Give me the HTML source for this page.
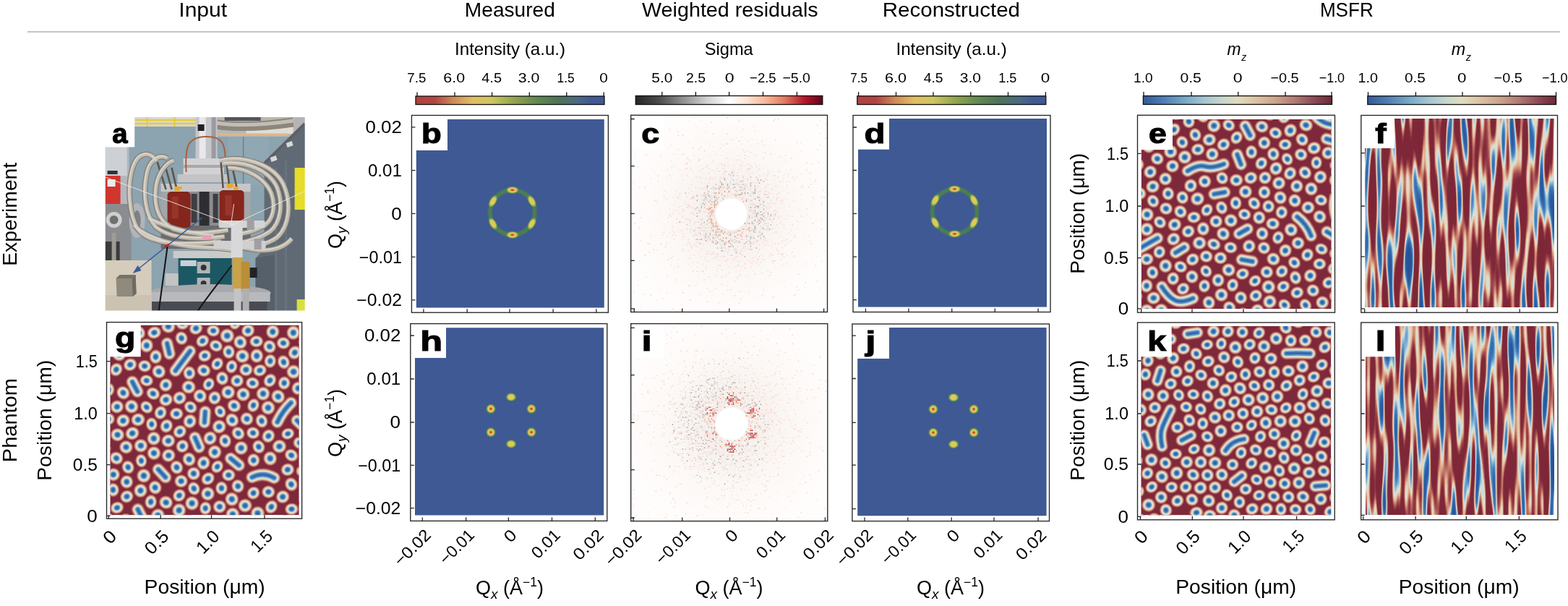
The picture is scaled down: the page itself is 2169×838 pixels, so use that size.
<!DOCTYPE html><html><head><meta charset="utf-8"><style>html,body{margin:0;padding:0;background:#fff;overflow:hidden}svg{display:block}</style></head><body><svg width="2169" height="838" viewBox="0 0 2169 838" font-family="'Liberation Sans', sans-serif">
<defs><linearGradient id="gInt"><stop offset="0" stop-color="#b04242"/><stop offset="0.1" stop-color="#b24442"/><stop offset="0.2" stop-color="#d08a58"/><stop offset="0.3" stop-color="#e2bd62"/><stop offset="0.4" stop-color="#cfc760"/><stop offset="0.52" stop-color="#93a44e"/><stop offset="0.65" stop-color="#5f8752"/><stop offset="0.75" stop-color="#4e7556"/><stop offset="0.86" stop-color="#4b6a86"/><stop offset="0.93" stop-color="#3f5a95"/><stop offset="1" stop-color="#3d5897"/></linearGradient><linearGradient id="gSig"><stop offset="0" stop-color="#262626"/><stop offset="0.12" stop-color="#4a4a4a"/><stop offset="0.25" stop-color="#8e8e8e"/><stop offset="0.38" stop-color="#d0d0d0"/><stop offset="0.5" stop-color="#ffffff"/><stop offset="0.6" stop-color="#fde2d2"/><stop offset="0.7" stop-color="#f6b596"/><stop offset="0.8" stop-color="#e0785f"/><stop offset="0.9" stop-color="#b61a2d"/><stop offset="1" stop-color="#67001f"/></linearGradient><linearGradient id="gMz"><stop offset="0" stop-color="#37599a"/><stop offset="0.1" stop-color="#4c7cb2"/><stop offset="0.22" stop-color="#78a8c8"/><stop offset="0.32" stop-color="#a2c4d2"/><stop offset="0.42" stop-color="#c6d8cc"/><stop offset="0.5" stop-color="#e2dcbe"/><stop offset="0.6" stop-color="#dcc2a2"/><stop offset="0.7" stop-color="#cca48c"/><stop offset="0.8" stop-color="#b27c74"/><stop offset="0.9" stop-color="#8f4c57"/><stop offset="1" stop-color="#6c2836"/></linearGradient><filter id="bl07" x="-5%" y="-5%" width="110%" height="110%"><feGaussianBlur stdDeviation="0.55"/></filter><radialGradient id="sk"><stop offset="0" stop-color="#2b5b9b"/><stop offset="0.18" stop-color="#3468a8"/><stop offset="0.36" stop-color="#5f9ac8"/><stop offset="0.48" stop-color="#bcd6dc"/><stop offset="0.57" stop-color="#e2e2d2"/><stop offset="0.66" stop-color="#e8d6b6"/><stop offset="0.76" stop-color="#d9a088"/><stop offset="0.86" stop-color="#bb6c66"/><stop offset="0.94" stop-color="#9a4650"/><stop offset="1" stop-color="#7e293b" stop-opacity="0"/></radialGradient><radialGradient id="spR"><stop offset="0" stop-color="#d43438"/><stop offset="0.16" stop-color="#d84a3e"/><stop offset="0.32" stop-color="#e6b65a"/><stop offset="0.48" stop-color="#e0cc5e"/><stop offset="0.64" stop-color="#aab954"/><stop offset="0.8" stop-color="#5e8e4e"/><stop offset="1" stop-color="#4b7058" stop-opacity="0"/></radialGradient><radialGradient id="spY"><stop offset="0" stop-color="#e8c058"/><stop offset="0.3" stop-color="#e6c85e"/><stop offset="0.5" stop-color="#d2cc5c"/><stop offset="0.66" stop-color="#98b254"/><stop offset="0.82" stop-color="#5e8e4e"/><stop offset="1" stop-color="#4b7058" stop-opacity="0"/></radialGradient><filter id="bl1" x="-20%" y="-20%" width="140%" height="140%"><feGaussianBlur stdDeviation="1.1"/></filter><clipPath id="phc"><rect x="0" y="0" width="276.1" height="267.6"/></clipPath><filter id="phb" x="0" y="0" width="1" height="1"><feGaussianBlur stdDeviation="0.7"/></filter><radialGradient id="ntc" gradientUnits="userSpaceOnUse" cx="1011.7" cy="296" r="150"><stop offset="0" stop-color="#f3efee"/><stop offset="0.3" stop-color="#f6f2f0"/><stop offset="0.6" stop-color="#fcf8f6"/><stop offset="1" stop-color="#fffdfc"/></radialGradient><filter id="stf" x="0" y="0" width="1" height="1" color-interpolation-filters="sRGB"><feTurbulence type="fractalNoise" baseFrequency="0.12 0.012" numOctaves="1" seed="1"/><feColorMatrix type="matrix" values="0 0 0 1.85 -0.45 0 0 0 1.85 -0.45 0 0 0 1.85 -0.45 0 0 0 0 1"/><feComponentTransfer><feFuncR type="table" tableValues="0.490 0.491 0.492 0.493 0.494 0.495 0.495 0.496 0.497 0.498 0.569 0.641 0.736 0.839 0.892 0.886 0.791 0.597 0.437 0.288 0.227 0.196 0.165 0.159 0.154 0.149"/><feFuncG type="table" tableValues="0.149 0.150 0.151 0.152 0.153 0.153 0.154 0.155 0.156 0.157 0.223 0.289 0.427 0.588 0.756 0.864 0.873 0.758 0.638 0.517 0.452 0.406 0.361 0.350 0.340 0.329"/><feFuncB type="table" tableValues="0.216 0.217 0.217 0.218 0.219 0.220 0.221 0.222 0.223 0.224 0.267 0.311 0.389 0.478 0.635 0.786 0.886 0.852 0.800 0.744 0.702 0.665 0.627 0.614 0.601 0.588"/></feComponentTransfer><feGaussianBlur stdDeviation="0.7"/></filter><radialGradient id="nti" gradientUnits="userSpaceOnUse" cx="1011.8" cy="586" r="150"><stop offset="0" stop-color="#f3efee"/><stop offset="0.3" stop-color="#f6f2f0"/><stop offset="0.6" stop-color="#fcf8f6"/><stop offset="1" stop-color="#fffdfc"/></radialGradient><filter id="stl" x="0" y="0" width="1" height="1" color-interpolation-filters="sRGB"><feTurbulence type="fractalNoise" baseFrequency="0.125 0.012" numOctaves="1" seed="3"/><feColorMatrix type="matrix" values="0 0 0 1.85 -0.44 0 0 0 1.85 -0.44 0 0 0 1.85 -0.44 0 0 0 0 1"/><feComponentTransfer><feFuncR type="table" tableValues="0.490 0.491 0.492 0.493 0.494 0.495 0.495 0.496 0.497 0.498 0.569 0.641 0.736 0.839 0.892 0.886 0.791 0.597 0.437 0.288 0.227 0.196 0.165 0.159 0.154 0.149"/><feFuncG type="table" tableValues="0.149 0.150 0.151 0.152 0.153 0.153 0.154 0.155 0.156 0.157 0.223 0.289 0.427 0.588 0.756 0.864 0.873 0.758 0.638 0.517 0.452 0.406 0.361 0.350 0.340 0.329"/><feFuncB type="table" tableValues="0.216 0.217 0.217 0.218 0.219 0.220 0.221 0.222 0.223 0.224 0.267 0.311 0.389 0.478 0.635 0.786 0.886 0.852 0.800 0.744 0.702 0.665 0.627 0.614 0.601 0.588"/></feComponentTransfer><feGaussianBlur stdDeviation="0.7"/></filter></defs>
<rect width="2169" height="838" fill="#fff"/>
<text x="247.3" y="23" font-size="27.5" textLength="66.82" lengthAdjust="spacingAndGlyphs">Input</text>
<text x="642.85" y="23" font-size="27.5" textLength="125.02" lengthAdjust="spacingAndGlyphs">Measured</text>
<text x="888" y="23" font-size="27.5" textLength="243.73" lengthAdjust="spacingAndGlyphs">Weighted residuals</text>
<text x="1220.84" y="23" font-size="27.5" textLength="190.15" lengthAdjust="spacingAndGlyphs">Reconstructed</text>
<text x="1825.91" y="23" font-size="27.5" textLength="73.87" lengthAdjust="spacingAndGlyphs">MSFR</text>
<line x1="38" y1="44" x2="2158" y2="44" stroke="#c4c4c4" stroke-width="1.8"/>
<text x="629.03" y="75.5" font-size="24" textLength="153.06" lengthAdjust="spacingAndGlyphs">Intensity (a.u.)</text>
<text x="974.82" y="75.5" font-size="24" textLength="66.95" lengthAdjust="spacingAndGlyphs">Sigma</text>
<text x="1239.42" y="75.5" font-size="24" textLength="153.36" lengthAdjust="spacingAndGlyphs">Intensity (a.u.)</text>
<text x="1697.54" y="75.5" font-size="24.5" textLength="19.04" lengthAdjust="spacingAndGlyphs" font-style="italic">m</text>
<text x="1717.24" y="83.6" font-size="15" textLength="7" lengthAdjust="spacingAndGlyphs" font-style="italic">z</text>
<text x="2007.74" y="75.5" font-size="24.5" textLength="19.36" lengthAdjust="spacingAndGlyphs" font-style="italic">m</text>
<text x="2027.64" y="83.6" font-size="15" textLength="7.2" lengthAdjust="spacingAndGlyphs" font-style="italic">z</text>
<rect x="575" y="133" width="261" height="11.5" fill="url(#gInt)" stroke="#111" stroke-width="1.3"/>
<path d="M577 127.5V133M629 127.5V133M680.6 127.5V133M732.3 127.5V133M783.8 127.5V133M835.2 127.5V133" stroke="#111" stroke-width="1.3"/>
<text x="563.37" y="114" font-size="19" textLength="25.98" lengthAdjust="spacingAndGlyphs">7.5</text>
<text x="613.33" y="114" font-size="19" textLength="29.83" lengthAdjust="spacingAndGlyphs">6.0</text>
<text x="666.3" y="114" font-size="19" textLength="27.7" lengthAdjust="spacingAndGlyphs">4.5</text>
<text x="716.65" y="114" font-size="19" textLength="29.71" lengthAdjust="spacingAndGlyphs">3.0</text>
<text x="770.61" y="114" font-size="19" textLength="24.19" lengthAdjust="spacingAndGlyphs">1.5</text>
<text x="829.17" y="114" font-size="19" textLength="11.59" lengthAdjust="spacingAndGlyphs">0</text>
<rect x="879.3" y="132.5" width="258.5" height="12" fill="url(#gSig)" stroke="#111" stroke-width="1.3"/>
<path d="M915.8 127V132.5M962.4 127V132.5M1008.6 127V132.5M1055.5 127V132.5M1102.4 127V132.5" stroke="#111" stroke-width="1.3"/>
<text x="901.37" y="114" font-size="19" textLength="28.97" lengthAdjust="spacingAndGlyphs">5.0</text>
<text x="949.03" y="114" font-size="19" textLength="27.05" lengthAdjust="spacingAndGlyphs">2.5</text>
<text x="1002.68" y="114" font-size="19" textLength="12.86" lengthAdjust="spacingAndGlyphs">0</text>
<text x="1037.07" y="114" font-size="19" textLength="36.56" lengthAdjust="spacingAndGlyphs">−2.5</text>
<text x="1082.42" y="114" font-size="19" textLength="38.54" lengthAdjust="spacingAndGlyphs">−5.0</text>
<rect x="1185.8" y="132.8" width="261" height="11.7" fill="url(#gInt)" stroke="#111" stroke-width="1.3"/>
<path d="M1187.6 127.3V132.8M1239.5 127.3V132.8M1291 127.3V132.8M1342.8 127.3V132.8M1394.5 127.3V132.8M1446.4 127.3V132.8" stroke="#111" stroke-width="1.3"/>
<text x="1176.35" y="114" font-size="19" textLength="23.74" lengthAdjust="spacingAndGlyphs">7.5</text>
<text x="1224.02" y="114" font-size="19" textLength="29.94" lengthAdjust="spacingAndGlyphs">6.0</text>
<text x="1277.71" y="114" font-size="19" textLength="26.96" lengthAdjust="spacingAndGlyphs">4.5</text>
<text x="1327.86" y="114" font-size="19" textLength="29.18" lengthAdjust="spacingAndGlyphs">3.0</text>
<text x="1381.26" y="114" font-size="19" textLength="25.06" lengthAdjust="spacingAndGlyphs">1.5</text>
<text x="1439.7" y="114" font-size="19" textLength="12.51" lengthAdjust="spacingAndGlyphs">0</text>
<rect x="1581.4" y="132.6" width="261.1" height="11.8" fill="url(#gMz)" stroke="#111" stroke-width="1.3"/>
<path d="M1582 127.1V132.6M1648 127.1V132.6M1712.7 127.1V132.6M1778 127.1V132.6M1842 127.1V132.6" stroke="#111" stroke-width="1.3"/>
<text x="1568.07" y="114" font-size="19" textLength="26.6" lengthAdjust="spacingAndGlyphs">1.0</text>
<text x="1632.45" y="114" font-size="19" textLength="29.39" lengthAdjust="spacingAndGlyphs">0.5</text>
<text x="1705.88" y="114" font-size="19" textLength="12.86" lengthAdjust="spacingAndGlyphs">0</text>
<text x="1757.41" y="114" font-size="19" textLength="39.27" lengthAdjust="spacingAndGlyphs">−0.5</text>
<text x="1824.7" y="114" font-size="19" textLength="35.41" lengthAdjust="spacingAndGlyphs">−1.0</text>
<rect x="1891.8" y="132.8" width="260.7" height="11.7" fill="url(#gMz)" stroke="#111" stroke-width="1.3"/>
<path d="M1892.5 127.3V132.8M1958.4 127.3V132.8M2023 127.3V132.8M2088.4 127.3V132.8M2152.5 127.3V132.8" stroke="#111" stroke-width="1.3"/>
<text x="1878.42" y="114" font-size="19" textLength="27.47" lengthAdjust="spacingAndGlyphs">1.0</text>
<text x="1942.97" y="114" font-size="19" textLength="28.86" lengthAdjust="spacingAndGlyphs">0.5</text>
<text x="2015.91" y="114" font-size="19" textLength="12.4" lengthAdjust="spacingAndGlyphs">0</text>
<text x="2066.61" y="114" font-size="19" textLength="39.17" lengthAdjust="spacingAndGlyphs">−0.5</text>
<text x="2132.9" y="114" font-size="19" textLength="35.51" lengthAdjust="spacingAndGlyphs">−1.0</text>
<g transform="translate(145.6 162)"><g clip-path="url(#phc)"><g filter="url(#phb)"><rect x="0" y="0" width="277" height="268" fill="#8ca3b0"/><rect x="170" y="24" width="56" height="70" fill="#90a7b4"/><path d="M191 26V95" stroke="#627a8c" stroke-width="1.2"/><rect x="0" y="0" width="277" height="13" fill="#dcd6c2"/><path d="M41 4H125M41 9H125M58 0V13M96 0V13" stroke="#e6cc30" stroke-width="2"/><rect x="150" y="0" width="127" height="27" fill="#b8b6b0"/><rect x="165" y="0" width="50" height="5" fill="#55575c"/><rect x="195" y="13" width="65" height="10" fill="#e2ddd2"/><path d="M154 10C185 15 225 12 260 7" stroke="#8c877e" stroke-width="13" fill="none"/><path d="M154 8C185 13 225 10 260 5" stroke="#c4beb2" stroke-width="5" fill="none"/><path d="M158 24H253" stroke="#dcb890" stroke-width="3"/><rect x="0" y="41" width="33" height="160" fill="#b4b7bc"/><rect x="0" y="41" width="30" height="40" fill="#cdd0d4"/><rect x="3" y="74" width="14" height="5" fill="#333"/><rect x="0" y="120" width="36" height="80" fill="#8a8c90"/><rect x="0" y="172" width="20" height="28" fill="#3a3a3c"/><rect x="9" y="160" width="6" height="40" fill="#a09c94"/><circle cx="12" cy="142" r="11" fill="#cfcfcf"/><circle cx="12" cy="142" r="6" fill="#6f6f6f"/><ellipse cx="44" cy="143" rx="11" ry="24" fill="#b2b4b8"/><ellipse cx="44" cy="143" rx="5" ry="14" fill="#7d8087"/><rect x="0" y="81" width="21" height="39" rx="1" fill="#d0362e"/><rect x="3" y="86" width="11" height="10" fill="#ececec"/><path d="M216 68L277 8V268H208V195L220 182V68Z" fill="#5f6a74"/><path d="M262 0H277V8L262 22Z" fill="#b4b4b4"/><path d="M208 195V268H236V190Z" fill="#56606a"/><path d="M250 60V268M236 70V268" stroke="#69737d" stroke-width="3"/><path d="M214 70L276 9" stroke="#5f6166" stroke-width="4"/><path d="M228 56l8-3l2 6l-8 3zM250 36l8-3l2 6l-8 3z" fill="#d8d8d8"/><rect x="262" y="70" width="15" height="58" fill="#e6dc2c"/><rect x="265" y="252" width="12" height="16" fill="#d8e040"/><rect x="125" y="0" width="30" height="60" fill="#c6c6ca"/><rect x="130" y="0" width="9" height="60" fill="#e8e8ea"/><rect x="147" y="0" width="6" height="60" fill="#9a9aa0"/><rect x="128" y="10" width="9" height="9" fill="#222"/><rect x="108" y="57" width="56" height="23" fill="#d2d2d4"/><rect x="108" y="66" width="56" height="4" fill="#a8a8ac"/><rect x="100" y="79" width="70" height="11" fill="#c4c4c6"/><rect x="77" y="92" width="124" height="70" fill="#a4a5a8"/><rect x="77" y="92" width="124" height="11" fill="#c6c6c8"/><rect x="117" y="103" width="42" height="55" fill="#8c8d91"/><rect x="130" y="103" width="14" height="55" fill="#2e2f33"/><rect x="119" y="106" width="8" height="40" fill="#3c3d42"/><rect x="149" y="106" width="7" height="40" fill="#3c3d42"/><rect x="77" y="150" width="124" height="32" fill="#6a6b70"/><rect x="86" y="103" width="32" height="50" rx="5" fill="#84261f"/><rect x="158" y="101" width="34" height="44" rx="5" fill="#86281f"/><rect x="92" y="110" width="9" height="30" fill="#9e3a30" opacity="0.8"/><rect x="166" y="108" width="9" height="28" fill="#9e3a30" opacity="0.8"/><rect x="100" y="96" width="6" height="4" fill="#e8a830"/><rect x="171" y="92" width="6" height="5" fill="#e8a830"/><path d="M112 76C110 40 114 28 138 27C162 26 167 36 166 66" stroke="#a8603e" stroke-width="2" fill="none"/><rect x="94" y="185" width="86" height="10" fill="#cacaca"/><rect x="101" y="195" width="74" height="46" fill="#1e5864"/><rect x="104" y="198" width="22" height="8" fill="#c8d0d4"/><rect x="127" y="200" width="18" height="16" fill="#b0b4b6"/><circle cx="136" cy="208" r="4" fill="#333"/><rect x="127" y="222" width="18" height="16" fill="#b0b4b6"/><circle cx="136" cy="230" r="4" fill="#333"/><rect x="83" y="216" width="18" height="17" fill="#c4c4c4"/><ellipse cx="145" cy="243" rx="84" ry="12" fill="#a8a9ac"/><rect x="62" y="242" width="166" height="13" fill="#b8b9bc"/><rect x="64" y="255" width="160" height="13" fill="#4a4c52"/><rect x="176" y="192" width="14" height="46" fill="#c9a24a"/><rect x="188" y="200" width="12" height="38" fill="#b98e38"/><rect x="178" y="237" width="10" height="31" fill="#c4c4c6"/><rect x="190" y="237" width="9" height="31" fill="#b0b0b3"/><rect x="200" y="208" width="10" height="14" fill="#222"/><path d="M86 179C82 210 78 240 74 268M175 205C160 225 140 250 128 268" stroke="#151515" stroke-width="2" fill="none"/><path d="M72 62L84 100M82 64L92 100M92 70L99 100M160 62L163 98M168 66L172 98M176 70L182 98" stroke="#5b554c" stroke-width="2.6" fill="none"/><path d="M96 96h7v6h-7zM168 92h7v6h-7zM178 96h6v5h-6z" fill="#e9a92c"/><path d="M71 61C62 46 45 48 38 70C30 95 33 135 45 155C60 175 100 178 160 172" stroke="#7f7a72" stroke-width="7.6" fill="none"/><path d="M86 57C75 50 60 60 57 80C52 105 55 135 70 152C90 168 125 170 165 165" stroke="#7f7a72" stroke-width="7.6" fill="none"/><path d="M95 60C85 62 72 78 70 98C67 125 75 145 95 155C120 163 145 160 170 156" stroke="#7f7a72" stroke-width="7.6" fill="none"/><path d="M158 60C190 52 232 65 246 92C258 118 255 150 238 166C222 178 200 180 182 180" stroke="#7f7a72" stroke-width="7.6" fill="none"/><path d="M163 64C195 60 228 74 238 98C246 120 243 146 228 158C214 168 196 172 184 174" stroke="#7f7a72" stroke-width="7.6" fill="none"/><path d="M170 70C198 70 222 86 230 106C236 124 232 142 220 150C207 158 194 160 182 162" stroke="#7f7a72" stroke-width="7.6" fill="none"/><path d="M40 150C60 168 95 178 135 180C155 181 168 182 178 184" stroke="#7f7a72" stroke-width="7.6" fill="none"/><path d="M150 172C170 174 190 182 212 184C232 185 248 180 258 168" stroke="#7f7a72" stroke-width="7.6" fill="none"/><path d="M60 140C80 150 110 160 150 164" stroke="#7f7a72" stroke-width="7.6" fill="none"/><path d="M71 61C62 46 45 48 38 70C30 95 33 135 45 155C60 175 100 178 160 172" stroke="#c2bcb0" stroke-width="5.4" fill="none"/><path d="M86 57C75 50 60 60 57 80C52 105 55 135 70 152C90 168 125 170 165 165" stroke="#c2bcb0" stroke-width="5.4" fill="none"/><path d="M95 60C85 62 72 78 70 98C67 125 75 145 95 155C120 163 145 160 170 156" stroke="#c2bcb0" stroke-width="5.4" fill="none"/><path d="M158 60C190 52 232 65 246 92C258 118 255 150 238 166C222 178 200 180 182 180" stroke="#c2bcb0" stroke-width="5.4" fill="none"/><path d="M163 64C195 60 228 74 238 98C246 120 243 146 228 158C214 168 196 172 184 174" stroke="#c2bcb0" stroke-width="5.4" fill="none"/><path d="M170 70C198 70 222 86 230 106C236 124 232 142 220 150C207 158 194 160 182 162" stroke="#c2bcb0" stroke-width="5.4" fill="none"/><path d="M40 150C60 168 95 178 135 180C155 181 168 182 178 184" stroke="#c2bcb0" stroke-width="5.4" fill="none"/><path d="M150 172C170 174 190 182 212 184C232 185 248 180 258 168" stroke="#c2bcb0" stroke-width="5.4" fill="none"/><path d="M60 140C80 150 110 160 150 164" stroke="#c2bcb0" stroke-width="5.4" fill="none"/><path d="M71 61C62 46 45 48 38 70C30 95 33 135 45 155C60 175 100 178 160 172" stroke="#dcd8d0" stroke-width="1.6" fill="none" transform="translate(-0.8 -0.8)"/><path d="M86 57C75 50 60 60 57 80C52 105 55 135 70 152C90 168 125 170 165 165" stroke="#dcd8d0" stroke-width="1.6" fill="none" transform="translate(-0.8 -0.8)"/><path d="M95 60C85 62 72 78 70 98C67 125 75 145 95 155C120 163 145 160 170 156" stroke="#dcd8d0" stroke-width="1.6" fill="none" transform="translate(-0.8 -0.8)"/><path d="M158 60C190 52 232 65 246 92C258 118 255 150 238 166C222 178 200 180 182 180" stroke="#dcd8d0" stroke-width="1.6" fill="none" transform="translate(-0.8 -0.8)"/><path d="M163 64C195 60 228 74 238 98C246 120 243 146 228 158C214 168 196 172 184 174" stroke="#dcd8d0" stroke-width="1.6" fill="none" transform="translate(-0.8 -0.8)"/><path d="M170 70C198 70 222 86 230 106C236 124 232 142 220 150C207 158 194 160 182 162" stroke="#dcd8d0" stroke-width="1.6" fill="none" transform="translate(-0.8 -0.8)"/><path d="M40 150C60 168 95 178 135 180C155 181 168 182 178 184" stroke="#dcd8d0" stroke-width="1.6" fill="none" transform="translate(-0.8 -0.8)"/><path d="M150 172C170 174 190 182 212 184C232 185 248 180 258 168" stroke="#dcd8d0" stroke-width="1.6" fill="none" transform="translate(-0.8 -0.8)"/><path d="M60 140C80 150 110 160 150 164" stroke="#dcd8d0" stroke-width="1.6" fill="none" transform="translate(-0.8 -0.8)"/><rect x="157" y="143" width="64" height="10" rx="2" fill="#d4d4d6"/><rect x="150" y="171" width="72" height="11" rx="2" fill="#d0d0d2"/><rect x="174" y="146" width="16" height="48" fill="#d8d8da"/><rect x="196" y="142" width="10" height="14" fill="#a0a0a2"/><rect x="206" y="168" width="10" height="15" fill="#a0a0a2"/><path d="M0 83L179 150M277 102L173 150M178 120L174 148" stroke="#eceae4" stroke-width="0.9" fill="none"/><rect x="134" y="163" width="13" height="6" fill="#e8a0b8"/><rect x="0" y="198" width="64" height="70" fill="#d5ccbc"/><rect x="0" y="246" width="64" height="22" fill="#cbc2b1"/><path d="M15 223L20 218H42L43 244L38 248H16Z" fill="#8f8a7c"/><path d="M15 223L20 218H42L37 223Z" fill="#76726a"/><path d="M37 223L42 218L43 244L38 248Z" fill="#6f6b62"/></g><path d="M134 139L43 212" stroke="#3b5c9a" stroke-width="1.6"/><path d="M38 216L45 205L50 212Z" fill="#3b5c9a"/><path d="M82 179L88 176" stroke="#d02020" stroke-width="3"/></g></g>
<rect x="144.4" y="160.8" width="41.8" height="42.6" fill="#fff"/>
<text x="155.25" y="198.3" font-size="38" textLength="21.3" lengthAdjust="spacingAndGlyphs" font-weight="bold" stroke="#000" stroke-width="1.1">a</text>
<path d="M619 165H835.8V425.6H575.8V207.8H619Z" fill="#3e5994"/>
<circle cx="708.8" cy="293.8" r="31" fill="none" stroke="#4d7f4f" stroke-width="5.5" filter="url(#bl1)"/>
<ellipse cx="708.8" cy="262.8" rx="10" ry="5.6" fill="url(#spR)" transform="rotate(0 708.8 262.8)"/>
<ellipse cx="708.8" cy="324.8" rx="10" ry="5.6" fill="url(#spR)" transform="rotate(-180 708.8 324.8)"/>
<ellipse cx="735.65" cy="278.3" rx="10.5" ry="5.2" fill="url(#spY)" transform="rotate(60 735.65 278.3)"/>
<ellipse cx="681.95" cy="278.3" rx="10.5" ry="5.2" fill="url(#spY)" transform="rotate(-60 681.95 278.3)"/>
<ellipse cx="681.95" cy="309.3" rx="10.5" ry="5.2" fill="url(#spY)" transform="rotate(-120 681.95 309.3)"/>
<ellipse cx="735.65" cy="309.3" rx="10.5" ry="5.2" fill="url(#spY)" transform="rotate(-240 735.65 309.3)"/>
<rect x="574.6" y="163.8" width="44.4" height="44" fill="#fff"/>
<rect x="569.4" y="159.5" width="272" height="272.7" fill="none" stroke="#262626" stroke-width="1.35"/>
<path d="M569.4 175.9h5M569.4 235.7h5M569.4 295.4h5M569.4 355.3h5M569.4 414.8h5" stroke="#262626" stroke-width="1.3"/>
<path d="M585.9 432.2v-5M646.2 432.2v-5M705 432.2v-5M765.1 432.2v-5M824.9 432.2v-5" stroke="#262626" stroke-width="1.3"/>
<text x="505.57" y="184.24" font-size="23.5" textLength="50.33" lengthAdjust="spacingAndGlyphs">0.02</text>
<text x="508.94" y="244.04" font-size="23.5" textLength="46.87" lengthAdjust="spacingAndGlyphs">0.01</text>
<text x="541.16" y="303.74" font-size="23.5" textLength="14.48" lengthAdjust="spacingAndGlyphs">0</text>
<text x="496.83" y="363.64" font-size="23.5" textLength="59.04" lengthAdjust="spacingAndGlyphs">−0.01</text>
<text x="493.36" y="423.14" font-size="23.5" textLength="62.58" lengthAdjust="spacingAndGlyphs">−0.02</text>
<text x="582.78" y="198.3" font-size="39.5" textLength="28.1" lengthAdjust="spacingAndGlyphs" font-weight="bold" stroke="#000" stroke-width="1.1">b</text>
<rect x="872.7" y="159.3" width="271.8" height="272.2" fill="url(#ntc)"/>
<circle cx="1011.7" cy="296" r="21.7" fill="#fff"/>
<path fill="#fde8de" d="M915.7 160.3h1.5v1.5h-1.5zm46 2h1.5v1.5h-1.5zm60 2h1.5v1.5h-1.5zm-70 2h1.5v1.5h-1.5zm18 0h1.5v1.5h-1.5zm-88 4h1.5v1.5h-1.5zm82 4h1.5v1.5h-1.5zm54 2h1.5v1.5h-1.5zm6 6h1.5v1.5h-1.5zm-58 8h1.5v1.5h-1.5zm52 0h1.5v1.5h-1.5zm-66 6h1.5v1.5h-1.5zm32 0h1.5v1.5h-1.5zm-74 2h1.5v1.5h-1.5zm8 0h1.5v1.5h-1.5zm78 0h1.5v1.5h-1.5zm-14 2h1.5v1.5h-1.5zm56 0h1.5v1.5h-1.5zm24 0h1.5v1.5h-1.5zm-76 2h1.5v1.5h-1.5zm28 4h1.5v1.5h-1.5zm-28 2h1.5v1.5h-1.5zm6 0h1.5v1.5h-1.5zm36 0h1.5v1.5h-1.5zm-22 2h1.5v1.5h-1.5zm-114 2h1.5v1.5h-1.5zm54 0h1.5v1.5h-1.5zm36 0h1.5v1.5h-1.5zm22 0h1.5v1.5h-1.5zm-22 2h1.5v1.5h-1.5zm10 0h1.5v1.5h-1.5zm6 0h1.5v1.5h-1.5zm42 0h1.5v1.5h-1.5zm-62 2h1.5v1.5h-1.5zm-100 2h1.5v1.5h-1.5zm88 0h1.5v1.5h-1.5zm6 0h1.5v1.5h-1.5zm-12 2h1.5v1.5h-1.5zm58 2h1.5v1.5h-1.5zm-12 2h1.5v1.5h-1.5zm8 0h1.5v1.5h-1.5zm12 2h1.5v1.5h-1.5zm10 0h1.5v1.5h-1.5zm-68 2h1.5v1.5h-1.5zm12 0h1.5v1.5h-1.5zm26 0h1.5v1.5h-1.5zm8 0h1.5v1.5h-1.5zm2 0h1.5v1.5h-1.5zm34 0h1.5v1.5h-1.5zm6 0h1.5v1.5h-1.5zm20 0h1.5v1.5h-1.5zm64 0h1.5v1.5h-1.5zm-212 2h1.5v1.5h-1.5zm26 0h1.5v1.5h-1.5zm48 2h1.5v1.5h-1.5zm12 0h1.5v1.5h-1.5zm2 0h1.5v1.5h-1.5zm8 0h1.5v1.5h-1.5zm2 0h1.5v1.5h-1.5zm-104 2h1.5v1.5h-1.5zm2 0h1.5v1.5h-1.5zm18 0h1.5v1.5h-1.5zm4 0h1.5v1.5h-1.5zm148 0h1.5v1.5h-1.5zm-106 2h1.5v1.5h-1.5zm2 0h1.5v1.5h-1.5zm20 0h1.5v1.5h-1.5zm4 0h1.5v1.5h-1.5zm34 0h1.5v1.5h-1.5zm-142 2h1.5v1.5h-1.5zm64 0h1.5v1.5h-1.5zm4 0h1.5v1.5h-1.5zm90 0h1.5v1.5h-1.5zm22 0h1.5v1.5h-1.5zm-142 2h1.5v1.5h-1.5zm4 0h1.5v1.5h-1.5zm42 0h1.5v1.5h-1.5zm118 0h1.5v1.5h-1.5zm-100 2h1.5v1.5h-1.5zm18 0h1.5v1.5h-1.5zm26 0h1.5v1.5h-1.5zm16 0h1.5v1.5h-1.5zm-146 2h1.5v1.5h-1.5zm30 0h1.5v1.5h-1.5zm14 0h1.5v1.5h-1.5zm4 0h1.5v1.5h-1.5zm6 0h1.5v1.5h-1.5zm8 0h1.5v1.5h-1.5zm56 0h1.5v1.5h-1.5zm28 0h1.5v1.5h-1.5zm-146 2h1.5v1.5h-1.5zm6 0h1.5v1.5h-1.5zm32 0h1.5v1.5h-1.5zm8 0h1.5v1.5h-1.5zm2 0h1.5v1.5h-1.5zm8 0h1.5v1.5h-1.5zm12 0h1.5v1.5h-1.5zm110 0h1.5v1.5h-1.5zm-142 2h1.5v1.5h-1.5zm20 0h1.5v1.5h-1.5zm26 0h1.5v1.5h-1.5zm18 0h1.5v1.5h-1.5zm28 0h1.5v1.5h-1.5zm4 0h1.5v1.5h-1.5zm44 0h1.5v1.5h-1.5zm22 0h1.5v1.5h-1.5zm-154 2h1.5v1.5h-1.5zm54 0h1.5v1.5h-1.5zm24 0h1.5v1.5h-1.5zm-168 2h1.5v1.5h-1.5zm62 0h1.5v1.5h-1.5zm44 0h1.5v1.5h-1.5zm22 0h1.5v1.5h-1.5zm22 0h1.5v1.5h-1.5zm46 0h1.5v1.5h-1.5zm-96 2h1.5v1.5h-1.5zm28 0h1.5v1.5h-1.5zm38 0h1.5v1.5h-1.5zm10 0h1.5v1.5h-1.5zm-110 2h1.5v1.5h-1.5zm78 0h1.5v1.5h-1.5zm40 0h1.5v1.5h-1.5zm-68 2h1.5v1.5h-1.5zm36 0h1.5v1.5h-1.5zm22 0h1.5v1.5h-1.5zm10 0h1.5v1.5h-1.5zm22 0h1.5v1.5h-1.5zm28 0h1.5v1.5h-1.5zm32 0h1.5v1.5h-1.5zm-144 2h1.5v1.5h-1.5zm60 0h1.5v1.5h-1.5zm-140 2h1.5v1.5h-1.5zm18 0h1.5v1.5h-1.5zm100 0h1.5v1.5h-1.5zm22 0h1.5v1.5h-1.5zm2 0h1.5v1.5h-1.5zm6 0h1.5v1.5h-1.5zm30 0h1.5v1.5h-1.5zm-118 2h1.5v1.5h-1.5zm48 0h1.5v1.5h-1.5zm16 0h1.5v1.5h-1.5zm-74 2h1.5v1.5h-1.5zm16 0h1.5v1.5h-1.5zm12 0h1.5v1.5h-1.5zm4 0h1.5v1.5h-1.5zm12 0h1.5v1.5h-1.5zm16 0h1.5v1.5h-1.5zm20 0h1.5v1.5h-1.5zm8 0h1.5v1.5h-1.5zm12 0h1.5v1.5h-1.5zm-84 2h1.5v1.5h-1.5zm6 0h1.5v1.5h-1.5zm4 0h1.5v1.5h-1.5zm20 0h1.5v1.5h-1.5zm20 0h1.5v1.5h-1.5zm22 0h1.5v1.5h-1.5zm-122 2h1.5v1.5h-1.5zm6 0h1.5v1.5h-1.5zm8 0h1.5v1.5h-1.5zm18 0h1.5v1.5h-1.5zm42 0h1.5v1.5h-1.5zm-78 2h1.5v1.5h-1.5zm126 0h1.5v1.5h-1.5zm18 0h1.5v1.5h-1.5zm-156 2h1.5v1.5h-1.5zm20 0h1.5v1.5h-1.5zm4 0h1.5v1.5h-1.5zm100 0h1.5v1.5h-1.5zm42 0h1.5v1.5h-1.5zm42 0h1.5v1.5h-1.5zm-150 2h1.5v1.5h-1.5zm16 0h1.5v1.5h-1.5zm32 0h1.5v1.5h-1.5zm6 0h1.5v1.5h-1.5zm78 0h1.5v1.5h-1.5zm-114 2h1.5v1.5h-1.5zm102 0h1.5v1.5h-1.5zm-110 2h1.5v1.5h-1.5zm4 0h1.5v1.5h-1.5zm52 0h1.5v1.5h-1.5zm10 0h1.5v1.5h-1.5zm2 0h1.5v1.5h-1.5zm20 0h1.5v1.5h-1.5zm48 0h1.5v1.5h-1.5zm-194 2h1.5v1.5h-1.5zm50 0h1.5v1.5h-1.5zm2 0h1.5v1.5h-1.5zm54 0h1.5v1.5h-1.5zm2 0h1.5v1.5h-1.5zm28 0h1.5v1.5h-1.5zm18 0h1.5v1.5h-1.5zm54 0h1.5v1.5h-1.5zm-196 2h1.5v1.5h-1.5zm4 0h1.5v1.5h-1.5zm20 0h1.5v1.5h-1.5zm26 2h1.5v1.5h-1.5zm44 0h1.5v1.5h-1.5zm-76 2h1.5v1.5h-1.5zm8 0h1.5v1.5h-1.5zm8 0h1.5v1.5h-1.5zm68 0h1.5v1.5h-1.5zm18 0h1.5v1.5h-1.5zm16 0h1.5v1.5h-1.5zm28 0h1.5v1.5h-1.5zm-128 2h1.5v1.5h-1.5zm2 0h1.5v1.5h-1.5zm10 0h1.5v1.5h-1.5zm98 0h1.5v1.5h-1.5zm8 0h1.5v1.5h-1.5zm-156 2h1.5v1.5h-1.5zm8 0h1.5v1.5h-1.5zm12 0h1.5v1.5h-1.5zm14 0h1.5v1.5h-1.5zm98 0h1.5v1.5h-1.5zm32 0h1.5v1.5h-1.5zm-190 2h1.5v1.5h-1.5zm20 0h1.5v1.5h-1.5zm50 0h1.5v1.5h-1.5zm58 0h1.5v1.5h-1.5zm10 0h1.5v1.5h-1.5zm-74 2h1.5v1.5h-1.5zm2 0h1.5v1.5h-1.5zm80 0h1.5v1.5h-1.5zm-88 2h1.5v1.5h-1.5zm10 0h1.5v1.5h-1.5zm92 0h1.5v1.5h-1.5zm4 0h1.5v1.5h-1.5zm-120 2h1.5v1.5h-1.5zm28 0h1.5v1.5h-1.5zm86 0h1.5v1.5h-1.5zm2 0h1.5v1.5h-1.5zm6 0h1.5v1.5h-1.5zm4 2h1.5v1.5h-1.5zm-174 2h1.5v1.5h-1.5zm68 0h1.5v1.5h-1.5zm10 0h1.5v1.5h-1.5zm142 0h1.5v1.5h-1.5zm-204 2h1.5v1.5h-1.5zm14 0h1.5v1.5h-1.5zm6 0h1.5v1.5h-1.5zm6 0h1.5v1.5h-1.5zm8 0h1.5v1.5h-1.5zm14 0h1.5v1.5h-1.5zm64 0h1.5v1.5h-1.5zm20 0h1.5v1.5h-1.5zm4 0h1.5v1.5h-1.5zm-84 2h1.5v1.5h-1.5zm6 0h1.5v1.5h-1.5zm50 0h1.5v1.5h-1.5zm12 0h1.5v1.5h-1.5zm2 0h1.5v1.5h-1.5zm14 0h1.5v1.5h-1.5zm20 0h1.5v1.5h-1.5zm-160 2h1.5v1.5h-1.5zm38 0h1.5v1.5h-1.5zm100 0h1.5v1.5h-1.5zm-104 2h1.5v1.5h-1.5zm16 0h1.5v1.5h-1.5zm4 0h1.5v1.5h-1.5zm64 0h1.5v1.5h-1.5zm-118 2h1.5v1.5h-1.5zm12 0h1.5v1.5h-1.5zm18 0h1.5v1.5h-1.5zm118 0h1.5v1.5h-1.5zm4 0h1.5v1.5h-1.5zm-188 2h1.5v1.5h-1.5zm98 0h1.5v1.5h-1.5zm6 0h1.5v1.5h-1.5zm8 0h1.5v1.5h-1.5zm6 0h1.5v1.5h-1.5zm22 0h1.5v1.5h-1.5zm64 0h1.5v1.5h-1.5zm6 0h1.5v1.5h-1.5zm10 0h1.5v1.5h-1.5zm-160 2h1.5v1.5h-1.5zm22 0h1.5v1.5h-1.5zm22 0h1.5v1.5h-1.5zm4 0h1.5v1.5h-1.5zm14 0h1.5v1.5h-1.5zm4 0h1.5v1.5h-1.5zm36 0h1.5v1.5h-1.5zm14 0h1.5v1.5h-1.5zm-134 2h1.5v1.5h-1.5zm122 0h1.5v1.5h-1.5zm32 0h1.5v1.5h-1.5zm-120 2h1.5v1.5h-1.5zm6 0h1.5v1.5h-1.5zm36 0h1.5v1.5h-1.5zm110 0h1.5v1.5h-1.5zm-144 2h1.5v1.5h-1.5zm2 0h1.5v1.5h-1.5zm4 0h1.5v1.5h-1.5zm18 0h1.5v1.5h-1.5zm12 0h1.5v1.5h-1.5zm14 0h1.5v1.5h-1.5zm12 0h1.5v1.5h-1.5zm6 0h1.5v1.5h-1.5zm6 0h1.5v1.5h-1.5zm52 0h1.5v1.5h-1.5zm4 0h1.5v1.5h-1.5zm-198 2h1.5v1.5h-1.5zm64 0h1.5v1.5h-1.5zm4 0h1.5v1.5h-1.5zm16 0h1.5v1.5h-1.5zm26 0h1.5v1.5h-1.5zm90 0h1.5v1.5h-1.5zm-156 2h1.5v1.5h-1.5zm38 0h1.5v1.5h-1.5zm12 0h1.5v1.5h-1.5zm22 0h1.5v1.5h-1.5zm8 0h1.5v1.5h-1.5zm52 0h1.5v1.5h-1.5zm8 0h1.5v1.5h-1.5zm16 0h1.5v1.5h-1.5zm-94 2h1.5v1.5h-1.5zm8 0h1.5v1.5h-1.5zm22 0h1.5v1.5h-1.5zm24 0h1.5v1.5h-1.5zm-78 2h1.5v1.5h-1.5zm6 0h1.5v1.5h-1.5zm4 0h1.5v1.5h-1.5zm12 0h1.5v1.5h-1.5zm46 0h1.5v1.5h-1.5zm34 0h1.5v1.5h-1.5zm-158 2h1.5v1.5h-1.5zm24 0h1.5v1.5h-1.5zm16 0h1.5v1.5h-1.5zm10 0h1.5v1.5h-1.5zm58 0h1.5v1.5h-1.5zm80 0h1.5v1.5h-1.5zm-142 2h1.5v1.5h-1.5zm6 0h1.5v1.5h-1.5zm34 0h1.5v1.5h-1.5zm12 0h1.5v1.5h-1.5zm10 0h1.5v1.5h-1.5zm50 0h1.5v1.5h-1.5zm-118 2h1.5v1.5h-1.5zm38 0h1.5v1.5h-1.5zm16 0h1.5v1.5h-1.5zm48 0h1.5v1.5h-1.5zm-68 2h1.5v1.5h-1.5zm2 0h1.5v1.5h-1.5zm54 0h1.5v1.5h-1.5zm-128 2h1.5v1.5h-1.5zm42 0h1.5v1.5h-1.5zm4 0h1.5v1.5h-1.5zm34 0h1.5v1.5h-1.5zm34 0h1.5v1.5h-1.5zm26 0h1.5v1.5h-1.5zm30 0h1.5v1.5h-1.5zm-92 2h1.5v1.5h-1.5zm36 0h1.5v1.5h-1.5zm16 0h1.5v1.5h-1.5zm-148 2h1.5v1.5h-1.5zm34 0h1.5v1.5h-1.5zm2 0h1.5v1.5h-1.5zm30 0h1.5v1.5h-1.5zm64 0h1.5v1.5h-1.5zm4 0h1.5v1.5h-1.5zm6 0h1.5v1.5h-1.5zm-170 2h1.5v1.5h-1.5zm24 0h1.5v1.5h-1.5zm62 0h1.5v1.5h-1.5zm16 0h1.5v1.5h-1.5zm64 2h1.5v1.5h-1.5zm38 0h1.5v1.5h-1.5zm10 0h1.5v1.5h-1.5zm-140 2h1.5v1.5h-1.5zm46 0h1.5v1.5h-1.5zm6 0h1.5v1.5h-1.5zm22 0h1.5v1.5h-1.5zm24 0h1.5v1.5h-1.5zm2 0h1.5v1.5h-1.5zm-28 2h1.5v1.5h-1.5zm-74 2h1.5v1.5h-1.5zm34 0h1.5v1.5h-1.5zm56 0h1.5v1.5h-1.5zm6 0h1.5v1.5h-1.5zm-28 2h1.5v1.5h-1.5zm4 0h1.5v1.5h-1.5zm30 0h1.5v1.5h-1.5zm-170 2h1.5v1.5h-1.5zm96 0h1.5v1.5h-1.5zm22 0h1.5v1.5h-1.5zm20 0h1.5v1.5h-1.5zm36 0h1.5v1.5h-1.5zm-58 2h1.5v1.5h-1.5zm32 0h1.5v1.5h-1.5zm8 0h1.5v1.5h-1.5zm10 0h1.5v1.5h-1.5zm-34 2h1.5v1.5h-1.5zm54 0h1.5v1.5h-1.5zm-94 2h1.5v1.5h-1.5zm26 0h1.5v1.5h-1.5zm44 0h1.5v1.5h-1.5zm-60 2h1.5v1.5h-1.5zm18 0h1.5v1.5h-1.5zm12 0h1.5v1.5h-1.5zm2 0h1.5v1.5h-1.5zm54 0h1.5v1.5h-1.5zm-58 2h1.5v1.5h-1.5zm10 2h1.5v1.5h-1.5zm-6 2h1.5v1.5h-1.5zm24 0h1.5v1.5h-1.5zm-138 4h1.5v1.5h-1.5zm84 2h1.5v1.5h-1.5zm2 0h1.5v1.5h-1.5zm42 0h1.5v1.5h-1.5zm2 0h1.5v1.5h-1.5zm60 2h1.5v1.5h-1.5zm-136 4h1.5v1.5h-1.5zm26 0h1.5v1.5h-1.5zm52 0h1.5v1.5h-1.5zm48 2h1.5v1.5h-1.5zm-140 2h1.5v1.5h-1.5zm92 4h1.5v1.5h-1.5zm50 2h1.5v1.5h-1.5zm26 0h1.5v1.5h-1.5zm-196 2h1.5v1.5h-1.5zm198 0h1.5v1.5h-1.5zm20 0h1.5v1.5h-1.5zm-148 2h1.5v1.5h-1.5zm140 0h1.5v1.5h-1.5zm-102 2h1.5v1.5h-1.5zm-24 4h1.5v1.5h-1.5zm56 0h1.5v1.5h-1.5zm-104 2h1.5v1.5h-1.5zm116 2h1.5v1.5h-1.5zm-190 16h1.5v1.5h-1.5z"/>
<path fill="#fbdcd0" d="M971.7 160.3h1.5v1.5h-1.5zm100 4h1.5v1.5h-1.5zm-178 2h1.5v1.5h-1.5zm240 0h1.5v1.5h-1.5zm8 4h1.5v1.5h-1.5zm-246 4h1.5v1.5h-1.5zm146 0h1.5v1.5h-1.5zm-116 4h1.5v1.5h-1.5zm-24 2h1.5v1.5h-1.5zm34 0h1.5v1.5h-1.5zm108 0h1.5v1.5h-1.5zm-106 2h1.5v1.5h-1.5zm38 0h1.5v1.5h-1.5zm158 2h1.5v1.5h-1.5zm-108 4h1.5v1.5h-1.5zm14 4h1.5v1.5h-1.5zm-6 2h1.5v1.5h-1.5zm-8 4h1.5v1.5h-1.5zm-98 2h1.5v1.5h-1.5zm128 0h1.5v1.5h-1.5zm-86 2h1.5v1.5h-1.5zm-46 2h1.5v1.5h-1.5zm44 0h1.5v1.5h-1.5zm28 0h1.5v1.5h-1.5zm-58 2h1.5v1.5h-1.5zm28 0h1.5v1.5h-1.5zm62 0h1.5v1.5h-1.5zm102 0h1.5v1.5h-1.5zm-96 2h1.5v1.5h-1.5zm74 0h1.5v1.5h-1.5zm-78 2h1.5v1.5h-1.5zm-98 2h1.5v1.5h-1.5zm58 0h1.5v1.5h-1.5zm-76 2h1.5v1.5h-1.5zm46 0h1.5v1.5h-1.5zm60 0h1.5v1.5h-1.5zm4 0h1.5v1.5h-1.5zm62 0h1.5v1.5h-1.5zm-50 2h1.5v1.5h-1.5zm42 0h1.5v1.5h-1.5zm-74 2h1.5v1.5h-1.5zm2 0h1.5v1.5h-1.5zm-40 2h1.5v1.5h-1.5zm46 0h1.5v1.5h-1.5zm-84 2h1.5v1.5h-1.5zm26 0h1.5v1.5h-1.5zm134 0h1.5v1.5h-1.5zm-44 2h1.5v1.5h-1.5zm-94 2h1.5v1.5h-1.5zm52 0h1.5v1.5h-1.5zm122 0h1.5v1.5h-1.5zm-130 2h1.5v1.5h-1.5zm6 0h1.5v1.5h-1.5zm8 0h1.5v1.5h-1.5zm18 0h1.5v1.5h-1.5zm20 0h1.5v1.5h-1.5zm-164 2h1.5v1.5h-1.5zm50 0h1.5v1.5h-1.5zm108 0h1.5v1.5h-1.5zm-84 2h1.5v1.5h-1.5zm78 0h1.5v1.5h-1.5zm4 0h1.5v1.5h-1.5zm-98 2h1.5v1.5h-1.5zm14 0h1.5v1.5h-1.5zm30 0h1.5v1.5h-1.5zm2 0h1.5v1.5h-1.5zm28 0h1.5v1.5h-1.5zm-56 2h1.5v1.5h-1.5zm58 0h1.5v1.5h-1.5zm10 0h1.5v1.5h-1.5zm50 0h1.5v1.5h-1.5zm2 0h1.5v1.5h-1.5zm42 2h1.5v1.5h-1.5zm-58 2h1.5v1.5h-1.5zm-120 2h1.5v1.5h-1.5zm8 0h1.5v1.5h-1.5zm52 0h1.5v1.5h-1.5zm16 0h1.5v1.5h-1.5zm10 0h1.5v1.5h-1.5zm22 0h1.5v1.5h-1.5zm20 0h1.5v1.5h-1.5zm2 0h1.5v1.5h-1.5zm12 0h1.5v1.5h-1.5zm-122 2h1.5v1.5h-1.5zm2 0h1.5v1.5h-1.5zm4 0h1.5v1.5h-1.5zm14 0h1.5v1.5h-1.5zm6 0h1.5v1.5h-1.5zm102 0h1.5v1.5h-1.5zm6 0h1.5v1.5h-1.5zm6 0h1.5v1.5h-1.5zm-202 2h1.5v1.5h-1.5zm76 0h1.5v1.5h-1.5zm10 0h1.5v1.5h-1.5zm20 0h1.5v1.5h-1.5zm14 0h1.5v1.5h-1.5zm28 0h1.5v1.5h-1.5zm34 0h1.5v1.5h-1.5zm-138 2h1.5v1.5h-1.5zm38 0h1.5v1.5h-1.5zm44 0h1.5v1.5h-1.5zm44 0h1.5v1.5h-1.5zm-160 2h1.5v1.5h-1.5zm118 0h1.5v1.5h-1.5zm20 0h1.5v1.5h-1.5zm34 0h1.5v1.5h-1.5zm6 0h1.5v1.5h-1.5zm4 0h1.5v1.5h-1.5zm34 0h1.5v1.5h-1.5zm-86 2h1.5v1.5h-1.5zm2 0h1.5v1.5h-1.5zm-24 2h1.5v1.5h-1.5zm12 0h1.5v1.5h-1.5zm6 0h1.5v1.5h-1.5zm86 0h1.5v1.5h-1.5zm-142 2h1.5v1.5h-1.5zm94 0h1.5v1.5h-1.5zm-190 2h1.5v1.5h-1.5zm84 0h1.5v1.5h-1.5zm26 0h1.5v1.5h-1.5zm46 0h1.5v1.5h-1.5zm68 0h1.5v1.5h-1.5zm-156 2h1.5v1.5h-1.5zm14 0h1.5v1.5h-1.5zm6 0h1.5v1.5h-1.5zm20 0h1.5v1.5h-1.5zm4 0h1.5v1.5h-1.5zm32 0h1.5v1.5h-1.5zm-32 2h1.5v1.5h-1.5zm2 0h1.5v1.5h-1.5zm2 0h1.5v1.5h-1.5zm8 0h1.5v1.5h-1.5zm22 0h1.5v1.5h-1.5zm8 0h1.5v1.5h-1.5zm14 0h1.5v1.5h-1.5zm86 0h1.5v1.5h-1.5zm-218 2h1.5v1.5h-1.5zm14 0h1.5v1.5h-1.5zm76 0h1.5v1.5h-1.5zm10 0h1.5v1.5h-1.5zm10 0h1.5v1.5h-1.5zm18 0h1.5v1.5h-1.5zm4 0h1.5v1.5h-1.5zm8 0h1.5v1.5h-1.5zm-120 2h1.5v1.5h-1.5zm12 0h1.5v1.5h-1.5zm28 0h1.5v1.5h-1.5zm6 0h1.5v1.5h-1.5zm-46 2h1.5v1.5h-1.5zm52 0h1.5v1.5h-1.5zm14 0h1.5v1.5h-1.5zm12 0h1.5v1.5h-1.5zm18 0h1.5v1.5h-1.5zm24 0h1.5v1.5h-1.5zm48 0h1.5v1.5h-1.5zm-102 2h1.5v1.5h-1.5zm16 0h1.5v1.5h-1.5zm2 0h1.5v1.5h-1.5zm24 0h1.5v1.5h-1.5zm14 0h1.5v1.5h-1.5zm-64 2h1.5v1.5h-1.5zm8 0h1.5v1.5h-1.5zm12 0h1.5v1.5h-1.5zm6 0h1.5v1.5h-1.5zm18 0h1.5v1.5h-1.5zm18 0h1.5v1.5h-1.5zm10 0h1.5v1.5h-1.5zm6 0h1.5v1.5h-1.5zm-154 2h1.5v1.5h-1.5zm32 0h1.5v1.5h-1.5zm12 0h1.5v1.5h-1.5zm14 0h1.5v1.5h-1.5zm48 2h1.5v1.5h-1.5zm26 0h1.5v1.5h-1.5zm20 0h1.5v1.5h-1.5zm8 0h1.5v1.5h-1.5zm16 0h1.5v1.5h-1.5zm-190 2h1.5v1.5h-1.5zm40 0h1.5v1.5h-1.5zm20 0h1.5v1.5h-1.5zm70 0h1.5v1.5h-1.5zm12 0h1.5v1.5h-1.5zm32 0h1.5v1.5h-1.5zm-136 2h1.5v1.5h-1.5zm16 0h1.5v1.5h-1.5zm8 0h1.5v1.5h-1.5zm4 0h1.5v1.5h-1.5zm10 0h1.5v1.5h-1.5zm62 0h1.5v1.5h-1.5zm24 0h1.5v1.5h-1.5zm10 0h1.5v1.5h-1.5zm-148 2h1.5v1.5h-1.5zm54 0h1.5v1.5h-1.5zm6 0h1.5v1.5h-1.5zm48 0h1.5v1.5h-1.5zm-60 2h1.5v1.5h-1.5zm56 0h1.5v1.5h-1.5zm4 0h1.5v1.5h-1.5zm4 0h1.5v1.5h-1.5zm14 0h1.5v1.5h-1.5zm4 0h1.5v1.5h-1.5zm30 0h1.5v1.5h-1.5zm-154 2h1.5v1.5h-1.5zm14 0h1.5v1.5h-1.5zm4 0h1.5v1.5h-1.5zm10 0h1.5v1.5h-1.5zm70 0h1.5v1.5h-1.5zm4 0h1.5v1.5h-1.5zm10 0h1.5v1.5h-1.5zm14 0h1.5v1.5h-1.5zm2 0h1.5v1.5h-1.5zm-140 2h1.5v1.5h-1.5zm42 0h1.5v1.5h-1.5zm8 0h1.5v1.5h-1.5zm10 0h1.5v1.5h-1.5zm52 0h1.5v1.5h-1.5zm24 0h1.5v1.5h-1.5zm-130 2h1.5v1.5h-1.5zm4 0h1.5v1.5h-1.5zm24 0h1.5v1.5h-1.5zm8 0h1.5v1.5h-1.5zm2 0h1.5v1.5h-1.5zm72 0h1.5v1.5h-1.5zm8 0h1.5v1.5h-1.5zm20 0h1.5v1.5h-1.5zm36 0h1.5v1.5h-1.5zm-162 2h1.5v1.5h-1.5zm44 0h1.5v1.5h-1.5zm48 0h1.5v1.5h-1.5zm6 0h1.5v1.5h-1.5zm6 0h1.5v1.5h-1.5zm16 0h1.5v1.5h-1.5zm-134 2h1.5v1.5h-1.5zm10 0h1.5v1.5h-1.5zm18 0h1.5v1.5h-1.5zm76 2h1.5v1.5h-1.5zm36 0h1.5v1.5h-1.5zm18 0h1.5v1.5h-1.5zm28 0h1.5v1.5h-1.5zm-128 2h1.5v1.5h-1.5zm60 0h1.5v1.5h-1.5zm14 0h1.5v1.5h-1.5zm34 0h1.5v1.5h-1.5zm-152 2h1.5v1.5h-1.5zm38 0h1.5v1.5h-1.5zm72 0h1.5v1.5h-1.5zm-104 2h1.5v1.5h-1.5zm2 0h1.5v1.5h-1.5zm86 0h1.5v1.5h-1.5zm18 0h1.5v1.5h-1.5zm12 0h1.5v1.5h-1.5zm18 0h1.5v1.5h-1.5zm-34 2h1.5v1.5h-1.5zm6 0h1.5v1.5h-1.5zm78 0h1.5v1.5h-1.5zm-90 2h1.5v1.5h-1.5zm58 0h1.5v1.5h-1.5zm-168 2h1.5v1.5h-1.5zm18 0h1.5v1.5h-1.5zm6 0h1.5v1.5h-1.5zm18 0h1.5v1.5h-1.5zm60 0h1.5v1.5h-1.5zm40 0h1.5v1.5h-1.5zm-86 2h1.5v1.5h-1.5zm40 0h1.5v1.5h-1.5zm4 0h1.5v1.5h-1.5zm4 0h1.5v1.5h-1.5zm44 0h1.5v1.5h-1.5zm-112 2h1.5v1.5h-1.5zm10 0h1.5v1.5h-1.5zm44 0h1.5v1.5h-1.5zm6 0h1.5v1.5h-1.5zm30 0h1.5v1.5h-1.5zm-178 2h1.5v1.5h-1.5zm78 0h1.5v1.5h-1.5zm8 0h1.5v1.5h-1.5zm2 0h1.5v1.5h-1.5zm18 0h1.5v1.5h-1.5zm2 0h1.5v1.5h-1.5zm2 0h1.5v1.5h-1.5zm32 0h1.5v1.5h-1.5zm2 0h1.5v1.5h-1.5zm4 0h1.5v1.5h-1.5zm52 0h1.5v1.5h-1.5zm-106 2h1.5v1.5h-1.5zm26 0h1.5v1.5h-1.5zm-74 2h1.5v1.5h-1.5zm8 0h1.5v1.5h-1.5zm4 0h1.5v1.5h-1.5zm16 0h1.5v1.5h-1.5zm20 0h1.5v1.5h-1.5zm72 0h1.5v1.5h-1.5zm12 0h1.5v1.5h-1.5zm32 0h1.5v1.5h-1.5zm-140 2h1.5v1.5h-1.5zm2 0h1.5v1.5h-1.5zm6 0h1.5v1.5h-1.5zm14 0h1.5v1.5h-1.5zm6 0h1.5v1.5h-1.5zm4 0h1.5v1.5h-1.5zm-60 2h1.5v1.5h-1.5zm36 0h1.5v1.5h-1.5zm12 0h1.5v1.5h-1.5zm14 0h1.5v1.5h-1.5zm6 0h1.5v1.5h-1.5zm22 0h1.5v1.5h-1.5zm6 0h1.5v1.5h-1.5zm6 0h1.5v1.5h-1.5zm62 0h1.5v1.5h-1.5zm-118 2h1.5v1.5h-1.5zm8 0h1.5v1.5h-1.5zm8 0h1.5v1.5h-1.5zm24 0h1.5v1.5h-1.5zm20 0h1.5v1.5h-1.5zm8 0h1.5v1.5h-1.5zm-62 2h1.5v1.5h-1.5zm16 0h1.5v1.5h-1.5zm24 0h1.5v1.5h-1.5zm6 0h1.5v1.5h-1.5zm18 0h1.5v1.5h-1.5zm38 0h1.5v1.5h-1.5zm38 0h1.5v1.5h-1.5zm-126 2h1.5v1.5h-1.5zm14 0h1.5v1.5h-1.5zm14 0h1.5v1.5h-1.5zm20 0h1.5v1.5h-1.5zm-88 2h1.5v1.5h-1.5zm14 0h1.5v1.5h-1.5zm28 0h1.5v1.5h-1.5zm38 0h1.5v1.5h-1.5zm-146 2h1.5v1.5h-1.5zm94 0h1.5v1.5h-1.5zm4 0h1.5v1.5h-1.5zm74 0h1.5v1.5h-1.5zm2 0h1.5v1.5h-1.5zm22 0h1.5v1.5h-1.5zm4 0h1.5v1.5h-1.5zm8 0h1.5v1.5h-1.5zm26 0h1.5v1.5h-1.5zm-168 2h1.5v1.5h-1.5zm12 0h1.5v1.5h-1.5zm4 0h1.5v1.5h-1.5zm26 0h1.5v1.5h-1.5zm2 0h1.5v1.5h-1.5zm4 0h1.5v1.5h-1.5zm6 0h1.5v1.5h-1.5zm30 0h1.5v1.5h-1.5zm32 0h1.5v1.5h-1.5zm12 0h1.5v1.5h-1.5zm-118 2h1.5v1.5h-1.5zm26 0h1.5v1.5h-1.5zm44 0h1.5v1.5h-1.5zm4 0h1.5v1.5h-1.5zm4 0h1.5v1.5h-1.5zm82 0h1.5v1.5h-1.5zm-166 2h1.5v1.5h-1.5zm16 0h1.5v1.5h-1.5zm10 0h1.5v1.5h-1.5zm76 0h1.5v1.5h-1.5zm8 0h1.5v1.5h-1.5zm-104 2h1.5v1.5h-1.5zm36 0h1.5v1.5h-1.5zm18 2h1.5v1.5h-1.5zm66 0h1.5v1.5h-1.5zm-84 2h1.5v1.5h-1.5zm6 0h1.5v1.5h-1.5zm22 0h1.5v1.5h-1.5zm4 0h1.5v1.5h-1.5zm4 0h1.5v1.5h-1.5zm6 0h1.5v1.5h-1.5zm-88 2h1.5v1.5h-1.5zm52 0h1.5v1.5h-1.5zm4 0h1.5v1.5h-1.5zm8 0h1.5v1.5h-1.5zm124 0h1.5v1.5h-1.5zm-44 2h1.5v1.5h-1.5zm-180 2h1.5v1.5h-1.5zm60 0h1.5v1.5h-1.5zm4 0h1.5v1.5h-1.5zm4 0h1.5v1.5h-1.5zm2 0h1.5v1.5h-1.5zm36 0h1.5v1.5h-1.5zm-62 2h1.5v1.5h-1.5zm24 0h1.5v1.5h-1.5zm8 0h1.5v1.5h-1.5zm72 0h1.5v1.5h-1.5zm18 0h1.5v1.5h-1.5zm6 0h1.5v1.5h-1.5zm-158 2h1.5v1.5h-1.5zm40 0h1.5v1.5h-1.5zm6 0h1.5v1.5h-1.5zm16 0h1.5v1.5h-1.5zm4 0h1.5v1.5h-1.5zm6 0h1.5v1.5h-1.5zm42 0h1.5v1.5h-1.5zm20 0h1.5v1.5h-1.5zm20 0h1.5v1.5h-1.5zm14 0h1.5v1.5h-1.5zm-82 2h1.5v1.5h-1.5zm24 0h1.5v1.5h-1.5zm-66 2h1.5v1.5h-1.5zm20 0h1.5v1.5h-1.5zm38 0h1.5v1.5h-1.5zm-54 2h1.5v1.5h-1.5zm40 0h1.5v1.5h-1.5zm118 0h1.5v1.5h-1.5zm-178 2h1.5v1.5h-1.5zm6 0h1.5v1.5h-1.5zm2 0h1.5v1.5h-1.5zm46 0h1.5v1.5h-1.5zm10 0h1.5v1.5h-1.5zm16 0h1.5v1.5h-1.5zm8 0h1.5v1.5h-1.5zm22 0h1.5v1.5h-1.5zm-116 2h1.5v1.5h-1.5zm20 0h1.5v1.5h-1.5zm34 0h1.5v1.5h-1.5zm34 0h1.5v1.5h-1.5zm48 0h1.5v1.5h-1.5zm-160 2h1.5v1.5h-1.5zm122 0h1.5v1.5h-1.5zm-86 2h1.5v1.5h-1.5zm44 0h1.5v1.5h-1.5zm18 0h1.5v1.5h-1.5zm-94 2h1.5v1.5h-1.5zm66 2h1.5v1.5h-1.5zm-28 2h1.5v1.5h-1.5zm22 0h1.5v1.5h-1.5zm16 2h1.5v1.5h-1.5zm46 0h1.5v1.5h-1.5zm-32 2h1.5v1.5h-1.5zm-100 2h1.5v1.5h-1.5zm102 0h1.5v1.5h-1.5zm-130 2h1.5v1.5h-1.5zm72 0h1.5v1.5h-1.5zm36 0h1.5v1.5h-1.5zm18 0h1.5v1.5h-1.5zm0 2h1.5v1.5h-1.5zm-56 6h1.5v1.5h-1.5zm-82 4h1.5v1.5h-1.5zm70 0h1.5v1.5h-1.5zm10 0h1.5v1.5h-1.5zm44 0h1.5v1.5h-1.5zm96 2h1.5v1.5h-1.5zm-124 2h1.5v1.5h-1.5zm12 0h1.5v1.5h-1.5zm-78 2h1.5v1.5h-1.5zm94 0h1.5v1.5h-1.5zm50 0h1.5v1.5h-1.5zm48 0h1.5v1.5h-1.5zm-228 2h1.5v1.5h-1.5zm146 0h1.5v1.5h-1.5zm14 0h1.5v1.5h-1.5zm-114 2h1.5v1.5h-1.5zm-22 2h1.5v1.5h-1.5zm170 4h1.5v1.5h-1.5zm-46 2h1.5v1.5h-1.5zm-116 2h1.5v1.5h-1.5zm86 4h1.5v1.5h-1.5zm-70 10h1.5v1.5h-1.5z"/>
<path fill="#fef0ea" d="M993.7 160.3h1.5v1.5h-1.5zm-36 2h1.5v1.5h-1.5zm-40 4h1.5v1.5h-1.5zm162 4h1.5v1.5h-1.5zm-160 2h1.5v1.5h-1.5zm88 4h1.5v1.5h-1.5zm-92 4h1.5v1.5h-1.5zm124 10h1.5v1.5h-1.5zm-108 2h1.5v1.5h-1.5zm114 0h1.5v1.5h-1.5zm14 0h1.5v1.5h-1.5zm78 0h1.5v1.5h-1.5zm-258 2h1.5v1.5h-1.5zm96 2h1.5v1.5h-1.5zm78 0h1.5v1.5h-1.5zm-24 4h1.5v1.5h-1.5zm-156 2h1.5v1.5h-1.5zm124 0h1.5v1.5h-1.5zm40 0h1.5v1.5h-1.5zm-150 4h1.5v1.5h-1.5zm78 2h1.5v1.5h-1.5zm34 0h1.5v1.5h-1.5zm16 2h1.5v1.5h-1.5zm46 0h1.5v1.5h-1.5zm-54 2h1.5v1.5h-1.5zm64 0h1.5v1.5h-1.5zm-96 2h1.5v1.5h-1.5zm66 0h1.5v1.5h-1.5zm-34 2h1.5v1.5h-1.5zm26 0h1.5v1.5h-1.5zm10 2h1.5v1.5h-1.5zm54 0h1.5v1.5h-1.5zm-46 2h1.5v1.5h-1.5zm78 0h1.5v1.5h-1.5zm-46 2h1.5v1.5h-1.5zm-128 2h1.5v1.5h-1.5zm26 0h1.5v1.5h-1.5zm12 0h1.5v1.5h-1.5zm26 0h1.5v1.5h-1.5zm6 0h1.5v1.5h-1.5zm-96 2h1.5v1.5h-1.5zm46 0h1.5v1.5h-1.5zm6 0h1.5v1.5h-1.5zm68 0h1.5v1.5h-1.5zm32 0h1.5v1.5h-1.5zm-154 2h1.5v1.5h-1.5zm36 0h1.5v1.5h-1.5zm66 0h1.5v1.5h-1.5zm28 0h1.5v1.5h-1.5zm-92 2h1.5v1.5h-1.5zm50 0h1.5v1.5h-1.5zm42 0h1.5v1.5h-1.5zm-76 2h1.5v1.5h-1.5zm30 0h1.5v1.5h-1.5zm10 0h1.5v1.5h-1.5zm48 0h1.5v1.5h-1.5zm-168 2h1.5v1.5h-1.5zm64 0h1.5v1.5h-1.5zm16 0h1.5v1.5h-1.5zm42 0h1.5v1.5h-1.5zm18 0h1.5v1.5h-1.5zm24 0h1.5v1.5h-1.5zm36 0h1.5v1.5h-1.5zm26 0h1.5v1.5h-1.5zm-122 2h1.5v1.5h-1.5zm2 0h1.5v1.5h-1.5zm2 2h1.5v1.5h-1.5zm50 0h1.5v1.5h-1.5zm-170 2h1.5v1.5h-1.5zm78 0h1.5v1.5h-1.5zm54 0h1.5v1.5h-1.5zm8 0h1.5v1.5h-1.5zm90 0h1.5v1.5h-1.5zm20 0h1.5v1.5h-1.5zm-128 2h1.5v1.5h-1.5zm4 0h1.5v1.5h-1.5zm6 0h1.5v1.5h-1.5zm24 0h1.5v1.5h-1.5zm44 0h1.5v1.5h-1.5zm-118 2h1.5v1.5h-1.5zm20 0h1.5v1.5h-1.5zm18 0h1.5v1.5h-1.5zm2 0h1.5v1.5h-1.5zm48 0h1.5v1.5h-1.5zm2 0h1.5v1.5h-1.5zm-64 2h1.5v1.5h-1.5zm24 0h1.5v1.5h-1.5zm2 0h1.5v1.5h-1.5zm6 0h1.5v1.5h-1.5zm8 0h1.5v1.5h-1.5zm4 0h1.5v1.5h-1.5zm56 0h1.5v1.5h-1.5zm-142 2h1.5v1.5h-1.5zm20 0h1.5v1.5h-1.5zm22 0h1.5v1.5h-1.5zm2 0h1.5v1.5h-1.5zm40 0h1.5v1.5h-1.5zm4 0h1.5v1.5h-1.5zm-100 2h1.5v1.5h-1.5zm26 0h1.5v1.5h-1.5zm16 0h1.5v1.5h-1.5zm4 0h1.5v1.5h-1.5zm12 0h1.5v1.5h-1.5zm4 0h1.5v1.5h-1.5zm24 0h1.5v1.5h-1.5zm2 0h1.5v1.5h-1.5zm34 0h1.5v1.5h-1.5zm-36 2h1.5v1.5h-1.5zm-78 2h1.5v1.5h-1.5zm36 0h1.5v1.5h-1.5zm60 0h1.5v1.5h-1.5zm6 0h1.5v1.5h-1.5zm14 0h1.5v1.5h-1.5zm-120 2h1.5v1.5h-1.5zm22 0h1.5v1.5h-1.5zm4 0h1.5v1.5h-1.5zm10 0h1.5v1.5h-1.5zm28 0h1.5v1.5h-1.5zm44 0h1.5v1.5h-1.5zm-38 2h1.5v1.5h-1.5zm36 0h1.5v1.5h-1.5zm22 0h1.5v1.5h-1.5zm-36 2h1.5v1.5h-1.5zm20 0h1.5v1.5h-1.5zm42 0h1.5v1.5h-1.5zm-224 2h1.5v1.5h-1.5zm94 0h1.5v1.5h-1.5zm60 0h1.5v1.5h-1.5zm40 0h1.5v1.5h-1.5zm4 0h1.5v1.5h-1.5zm4 0h1.5v1.5h-1.5zm-134 2h1.5v1.5h-1.5zm12 0h1.5v1.5h-1.5zm26 0h1.5v1.5h-1.5zm70 0h1.5v1.5h-1.5zm30 0h1.5v1.5h-1.5zm-142 2h1.5v1.5h-1.5zm22 0h1.5v1.5h-1.5zm28 0h1.5v1.5h-1.5zm18 0h1.5v1.5h-1.5zm64 0h1.5v1.5h-1.5zm-140 2h1.5v1.5h-1.5zm48 0h1.5v1.5h-1.5zm6 0h1.5v1.5h-1.5zm16 0h1.5v1.5h-1.5zm44 0h1.5v1.5h-1.5zm6 0h1.5v1.5h-1.5zm-56 2h1.5v1.5h-1.5zm30 0h1.5v1.5h-1.5zm24 0h1.5v1.5h-1.5zm44 0h1.5v1.5h-1.5zm-154 2h1.5v1.5h-1.5zm24 0h1.5v1.5h-1.5zm70 0h1.5v1.5h-1.5zm8 0h1.5v1.5h-1.5zm10 0h1.5v1.5h-1.5zm10 0h1.5v1.5h-1.5zm2 0h1.5v1.5h-1.5zm18 0h1.5v1.5h-1.5zm-126 2h1.5v1.5h-1.5zm28 0h1.5v1.5h-1.5zm4 0h1.5v1.5h-1.5zm6 0h1.5v1.5h-1.5zm6 0h1.5v1.5h-1.5zm22 0h1.5v1.5h-1.5zm22 0h1.5v1.5h-1.5zm12 0h1.5v1.5h-1.5zm28 0h1.5v1.5h-1.5zm2 0h1.5v1.5h-1.5zm-154 2h1.5v1.5h-1.5zm8 0h1.5v1.5h-1.5zm6 0h1.5v1.5h-1.5zm2 0h1.5v1.5h-1.5zm8 0h1.5v1.5h-1.5zm2 0h1.5v1.5h-1.5zm34 0h1.5v1.5h-1.5zm48 0h1.5v1.5h-1.5zm14 0h1.5v1.5h-1.5zm4 0h1.5v1.5h-1.5zm40 0h1.5v1.5h-1.5zm24 0h1.5v1.5h-1.5zm-190 2h1.5v1.5h-1.5zm22 0h1.5v1.5h-1.5zm40 0h1.5v1.5h-1.5zm52 0h1.5v1.5h-1.5zm14 0h1.5v1.5h-1.5zm14 0h1.5v1.5h-1.5zm26 0h1.5v1.5h-1.5zm24 0h1.5v1.5h-1.5zm-194 2h1.5v1.5h-1.5zm26 0h1.5v1.5h-1.5zm2 0h1.5v1.5h-1.5zm6 0h1.5v1.5h-1.5zm68 0h1.5v1.5h-1.5zm10 0h1.5v1.5h-1.5zm14 0h1.5v1.5h-1.5zm10 0h1.5v1.5h-1.5zm-112 2h1.5v1.5h-1.5zm2 0h1.5v1.5h-1.5zm108 2h1.5v1.5h-1.5zm-122 2h1.5v1.5h-1.5zm10 0h1.5v1.5h-1.5zm6 0h1.5v1.5h-1.5zm26 0h1.5v1.5h-1.5zm56 0h1.5v1.5h-1.5zm38 0h1.5v1.5h-1.5zm-96 2h1.5v1.5h-1.5zm4 0h1.5v1.5h-1.5zm90 0h1.5v1.5h-1.5zm-134 2h1.5v1.5h-1.5zm110 0h1.5v1.5h-1.5zm58 0h1.5v1.5h-1.5zm-188 2h1.5v1.5h-1.5zm8 0h1.5v1.5h-1.5zm8 0h1.5v1.5h-1.5zm2 0h1.5v1.5h-1.5zm22 0h1.5v1.5h-1.5zm2 0h1.5v1.5h-1.5zm68 0h1.5v1.5h-1.5zm-66 2h1.5v1.5h-1.5zm70 0h1.5v1.5h-1.5zm20 0h1.5v1.5h-1.5zm2 0h1.5v1.5h-1.5zm-116 2h1.5v1.5h-1.5zm8 0h1.5v1.5h-1.5zm10 0h1.5v1.5h-1.5zm2 0h1.5v1.5h-1.5zm8 0h1.5v1.5h-1.5zm8 0h1.5v1.5h-1.5zm106 0h1.5v1.5h-1.5zm-160 2h1.5v1.5h-1.5zm46 0h1.5v1.5h-1.5zm4 0h1.5v1.5h-1.5zm62 0h1.5v1.5h-1.5zm12 0h1.5v1.5h-1.5zm24 0h1.5v1.5h-1.5zm-172 2h1.5v1.5h-1.5zm34 0h1.5v1.5h-1.5zm6 0h1.5v1.5h-1.5zm100 0h1.5v1.5h-1.5zm4 0h1.5v1.5h-1.5zm56 0h1.5v1.5h-1.5zm-206 2h1.5v1.5h-1.5zm16 0h1.5v1.5h-1.5zm44 0h1.5v1.5h-1.5zm22 0h1.5v1.5h-1.5zm8 0h1.5v1.5h-1.5zm54 0h1.5v1.5h-1.5zm32 0h1.5v1.5h-1.5zm-116 2h1.5v1.5h-1.5zm26 0h1.5v1.5h-1.5zm54 0h1.5v1.5h-1.5zm18 0h1.5v1.5h-1.5zm14 0h1.5v1.5h-1.5zm-116 2h1.5v1.5h-1.5zm2 0h1.5v1.5h-1.5zm26 0h1.5v1.5h-1.5zm106 0h1.5v1.5h-1.5zm-148 2h1.5v1.5h-1.5zm10 0h1.5v1.5h-1.5zm16 0h1.5v1.5h-1.5zm2 0h1.5v1.5h-1.5zm108 0h1.5v1.5h-1.5zm-126 2h1.5v1.5h-1.5zm16 0h1.5v1.5h-1.5zm24 0h1.5v1.5h-1.5zm62 0h1.5v1.5h-1.5zm-88 2h1.5v1.5h-1.5zm6 0h1.5v1.5h-1.5zm12 0h1.5v1.5h-1.5zm48 0h1.5v1.5h-1.5zm8 0h1.5v1.5h-1.5zm-98 2h1.5v1.5h-1.5zm58 0h1.5v1.5h-1.5zm28 0h1.5v1.5h-1.5zm28 0h1.5v1.5h-1.5zm-122 2h1.5v1.5h-1.5zm12 0h1.5v1.5h-1.5zm2 0h1.5v1.5h-1.5zm30 0h1.5v1.5h-1.5zm6 0h1.5v1.5h-1.5zm42 0h1.5v1.5h-1.5zm48 0h1.5v1.5h-1.5zm6 0h1.5v1.5h-1.5zm-96 2h1.5v1.5h-1.5zm46 0h1.5v1.5h-1.5zm-76 2h1.5v1.5h-1.5zm8 0h1.5v1.5h-1.5zm26 0h1.5v1.5h-1.5zm16 0h1.5v1.5h-1.5zm20 0h1.5v1.5h-1.5zm8 0h1.5v1.5h-1.5zm26 0h1.5v1.5h-1.5zm14 0h1.5v1.5h-1.5zm8 0h1.5v1.5h-1.5zm-92 2h1.5v1.5h-1.5zm2 0h1.5v1.5h-1.5zm12 0h1.5v1.5h-1.5zm10 0h1.5v1.5h-1.5zm16 0h1.5v1.5h-1.5zm26 0h1.5v1.5h-1.5zm14 0h1.5v1.5h-1.5zm-164 2h1.5v1.5h-1.5zm102 0h1.5v1.5h-1.5zm14 0h1.5v1.5h-1.5zm12 0h1.5v1.5h-1.5zm16 0h1.5v1.5h-1.5zm24 0h1.5v1.5h-1.5zm8 0h1.5v1.5h-1.5zm-148 2h1.5v1.5h-1.5zm16 0h1.5v1.5h-1.5zm18 0h1.5v1.5h-1.5zm8 0h1.5v1.5h-1.5zm36 0h1.5v1.5h-1.5zm14 0h1.5v1.5h-1.5zm90 0h1.5v1.5h-1.5zm-160 2h1.5v1.5h-1.5zm48 0h1.5v1.5h-1.5zm28 0h1.5v1.5h-1.5zm-50 2h1.5v1.5h-1.5zm24 0h1.5v1.5h-1.5zm8 0h1.5v1.5h-1.5zm10 0h1.5v1.5h-1.5zm4 0h1.5v1.5h-1.5zm8 0h1.5v1.5h-1.5zm-34 2h1.5v1.5h-1.5zm20 0h1.5v1.5h-1.5zm12 0h1.5v1.5h-1.5zm36 0h1.5v1.5h-1.5zm-136 2h1.5v1.5h-1.5zm84 0h1.5v1.5h-1.5zm18 0h1.5v1.5h-1.5zm-86 2h1.5v1.5h-1.5zm14 0h1.5v1.5h-1.5zm18 0h1.5v1.5h-1.5zm22 0h1.5v1.5h-1.5zm22 0h1.5v1.5h-1.5zm42 0h1.5v1.5h-1.5zm-88 2h1.5v1.5h-1.5zm48 0h1.5v1.5h-1.5zm-28 2h1.5v1.5h-1.5zm24 0h1.5v1.5h-1.5zm52 0h1.5v1.5h-1.5zm-148 2h1.5v1.5h-1.5zm50 0h1.5v1.5h-1.5zm40 0h1.5v1.5h-1.5zm8 0h1.5v1.5h-1.5zm16 0h1.5v1.5h-1.5zm2 0h1.5v1.5h-1.5zm12 0h1.5v1.5h-1.5zm56 2h1.5v1.5h-1.5zm-110 2h1.5v1.5h-1.5zm10 0h1.5v1.5h-1.5zm30 0h1.5v1.5h-1.5zm22 0h1.5v1.5h-1.5zm10 0h1.5v1.5h-1.5zm36 0h1.5v1.5h-1.5zm-126 2h1.5v1.5h-1.5zm2 0h1.5v1.5h-1.5zm4 0h1.5v1.5h-1.5zm30 0h1.5v1.5h-1.5zm-106 2h1.5v1.5h-1.5zm28 0h1.5v1.5h-1.5zm20 0h1.5v1.5h-1.5zm38 0h1.5v1.5h-1.5zm-30 2h1.5v1.5h-1.5zm66 0h1.5v1.5h-1.5zm8 0h1.5v1.5h-1.5zm4 0h1.5v1.5h-1.5zm56 0h1.5v1.5h-1.5zm40 0h1.5v1.5h-1.5zm-140 2h1.5v1.5h-1.5zm38 0h1.5v1.5h-1.5zm94 0h1.5v1.5h-1.5zm-120 2h1.5v1.5h-1.5zm2 0h1.5v1.5h-1.5zm112 0h1.5v1.5h-1.5zm-194 2h1.5v1.5h-1.5zm54 0h1.5v1.5h-1.5zm138 0h1.5v1.5h-1.5zm-116 2h1.5v1.5h-1.5zm38 0h1.5v1.5h-1.5zm-68 2h1.5v1.5h-1.5zm12 0h1.5v1.5h-1.5zm40 0h1.5v1.5h-1.5zm58 0h1.5v1.5h-1.5zm16 0h1.5v1.5h-1.5zm-218 2h1.5v1.5h-1.5zm2 0h1.5v1.5h-1.5zm54 0h1.5v1.5h-1.5zm52 0h1.5v1.5h-1.5zm14 2h1.5v1.5h-1.5zm-52 2h1.5v1.5h-1.5zm56 0h1.5v1.5h-1.5zm-14 4h1.5v1.5h-1.5zm24 2h1.5v1.5h-1.5zm30 0h1.5v1.5h-1.5zm-168 2h1.5v1.5h-1.5zm124 2h1.5v1.5h-1.5zm26 4h1.5v1.5h-1.5zm32 2h1.5v1.5h-1.5zm-58 4h1.5v1.5h-1.5zm2 0h1.5v1.5h-1.5zm-2 2h1.5v1.5h-1.5zm-2 2h1.5v1.5h-1.5zm48 2h1.5v1.5h-1.5zm-110 6h1.5v1.5h-1.5zm28 8h1.5v1.5h-1.5zm56 0h1.5v1.5h-1.5zm-50 2h1.5v1.5h-1.5zm74 0h1.5v1.5h-1.5zm-158 2h1.5v1.5h-1.5zm106 0h1.5v1.5h-1.5zm134 0h1.5v1.5h-1.5zm-186 6h1.5v1.5h-1.5zm-32 4h1.5v1.5h-1.5zm-28 2h1.5v1.5h-1.5zm74 0h1.5v1.5h-1.5zm32 2h1.5v1.5h-1.5zm-116 2h1.5v1.5h-1.5zm26 0h1.5v1.5h-1.5zm218 0h1.5v1.5h-1.5z"/>
<path fill="#f9d2c2" d="M875.7 162.3h1.5v1.5h-1.5zm130 0h1.5v1.5h-1.5zm-106 2h1.5v1.5h-1.5zm176 0h1.5v1.5h-1.5zm-54 2h1.5v1.5h-1.5zm48 0h1.5v1.5h-1.5zm-86 2h1.5v1.5h-1.5zm146 4h1.5v1.5h-1.5zm-102 6h1.5v1.5h-1.5zm-152 4h1.5v1.5h-1.5zm4 0h1.5v1.5h-1.5zm106 2h1.5v1.5h-1.5zm20 0h1.5v1.5h-1.5zm-68 2h1.5v1.5h-1.5zm6 0h1.5v1.5h-1.5zm198 4h1.5v1.5h-1.5zm-130 2h1.5v1.5h-1.5zm60 0h1.5v1.5h-1.5zm-50 2h1.5v1.5h-1.5zm32 0h1.5v1.5h-1.5zm48 2h1.5v1.5h-1.5zm6 0h1.5v1.5h-1.5zm-214 2h1.5v1.5h-1.5zm110 0h1.5v1.5h-1.5zm2 0h1.5v1.5h-1.5zm42 0h1.5v1.5h-1.5zm-48 2h1.5v1.5h-1.5zm134 0h1.5v1.5h-1.5zm-176 4h1.5v1.5h-1.5zm16 4h1.5v1.5h-1.5zm64 2h1.5v1.5h-1.5zm20 0h1.5v1.5h-1.5zm-114 2h1.5v1.5h-1.5zm122 0h1.5v1.5h-1.5zm-172 2h1.5v1.5h-1.5zm136 0h1.5v1.5h-1.5zm16 0h1.5v1.5h-1.5zm-96 4h1.5v1.5h-1.5zm80 0h1.5v1.5h-1.5zm26 0h1.5v1.5h-1.5zm38 0h1.5v1.5h-1.5zm-142 2h1.5v1.5h-1.5zm16 0h1.5v1.5h-1.5zm50 0h1.5v1.5h-1.5zm4 0h1.5v1.5h-1.5zm-56 2h1.5v1.5h-1.5zm20 0h1.5v1.5h-1.5zm40 0h1.5v1.5h-1.5zm-76 2h1.5v1.5h-1.5zm166 0h1.5v1.5h-1.5zm16 0h1.5v1.5h-1.5zm-184 2h1.5v1.5h-1.5zm86 0h1.5v1.5h-1.5zm-56 2h1.5v1.5h-1.5zm24 0h1.5v1.5h-1.5zm22 0h1.5v1.5h-1.5zm14 0h1.5v1.5h-1.5zm-62 2h1.5v1.5h-1.5zm70 0h1.5v1.5h-1.5zm-98 2h1.5v1.5h-1.5zm2 0h1.5v1.5h-1.5zm22 0h1.5v1.5h-1.5zm8 0h1.5v1.5h-1.5zm12 0h1.5v1.5h-1.5zm8 0h1.5v1.5h-1.5zm50 0h1.5v1.5h-1.5zm-28 2h1.5v1.5h-1.5zm12 0h1.5v1.5h-1.5zm2 0h1.5v1.5h-1.5zm12 0h1.5v1.5h-1.5zm68 0h1.5v1.5h-1.5zm-148 2h1.5v1.5h-1.5zm26 0h1.5v1.5h-1.5zm8 0h1.5v1.5h-1.5zm2 0h1.5v1.5h-1.5zm8 0h1.5v1.5h-1.5zm20 0h1.5v1.5h-1.5zm30 0h1.5v1.5h-1.5zm-82 2h1.5v1.5h-1.5zm22 0h1.5v1.5h-1.5zm12 0h1.5v1.5h-1.5zm6 0h1.5v1.5h-1.5zm20 0h1.5v1.5h-1.5zm-30 2h1.5v1.5h-1.5zm26 0h1.5v1.5h-1.5zm20 0h1.5v1.5h-1.5zm34 0h1.5v1.5h-1.5zm-180 2h1.5v1.5h-1.5zm16 0h1.5v1.5h-1.5zm94 0h1.5v1.5h-1.5zm40 0h1.5v1.5h-1.5zm-64 2h1.5v1.5h-1.5zm80 0h1.5v1.5h-1.5zm-94 2h1.5v1.5h-1.5zm14 0h1.5v1.5h-1.5zm50 0h1.5v1.5h-1.5zm12 0h1.5v1.5h-1.5zm-40 2h1.5v1.5h-1.5zm10 0h1.5v1.5h-1.5zm6 0h1.5v1.5h-1.5zm26 0h1.5v1.5h-1.5zm68 0h1.5v1.5h-1.5zm-118 2h1.5v1.5h-1.5zm68 0h1.5v1.5h-1.5zm-108 2h1.5v1.5h-1.5zm10 0h1.5v1.5h-1.5zm16 0h1.5v1.5h-1.5zm50 0h1.5v1.5h-1.5zm-90 2h1.5v1.5h-1.5zm54 0h1.5v1.5h-1.5zm12 0h1.5v1.5h-1.5zm4 0h1.5v1.5h-1.5zm6 0h1.5v1.5h-1.5zm30 0h1.5v1.5h-1.5zm-66 2h1.5v1.5h-1.5zm12 0h1.5v1.5h-1.5zm22 0h1.5v1.5h-1.5zm2 0h1.5v1.5h-1.5zm16 0h1.5v1.5h-1.5zm24 0h1.5v1.5h-1.5zm16 0h1.5v1.5h-1.5zm22 0h1.5v1.5h-1.5zm-218 2h1.5v1.5h-1.5zm70 0h1.5v1.5h-1.5zm12 0h1.5v1.5h-1.5zm24 0h1.5v1.5h-1.5zm36 0h1.5v1.5h-1.5zm10 0h1.5v1.5h-1.5zm14 0h1.5v1.5h-1.5zm60 0h1.5v1.5h-1.5zm-148 2h1.5v1.5h-1.5zm6 0h1.5v1.5h-1.5zm24 0h1.5v1.5h-1.5zm4 0h1.5v1.5h-1.5zm4 0h1.5v1.5h-1.5zm4 0h1.5v1.5h-1.5zm2 0h1.5v1.5h-1.5zm22 0h1.5v1.5h-1.5zm10 0h1.5v1.5h-1.5zm22 0h1.5v1.5h-1.5zm-74 2h1.5v1.5h-1.5zm22 0h1.5v1.5h-1.5zm2 0h1.5v1.5h-1.5zm8 0h1.5v1.5h-1.5zm-70 2h1.5v1.5h-1.5zm38 0h1.5v1.5h-1.5zm2 0h1.5v1.5h-1.5zm44 0h1.5v1.5h-1.5zm10 0h1.5v1.5h-1.5zm8 0h1.5v1.5h-1.5zm-60 2h1.5v1.5h-1.5zm8 0h1.5v1.5h-1.5zm34 0h1.5v1.5h-1.5zm24 0h1.5v1.5h-1.5zm14 0h1.5v1.5h-1.5zm12 0h1.5v1.5h-1.5zm-126 2h1.5v1.5h-1.5zm8 0h1.5v1.5h-1.5zm2 0h1.5v1.5h-1.5zm2 0h1.5v1.5h-1.5zm54 0h1.5v1.5h-1.5zm12 0h1.5v1.5h-1.5zm8 0h1.5v1.5h-1.5zm12 0h1.5v1.5h-1.5zm12 0h1.5v1.5h-1.5zm-156 2h1.5v1.5h-1.5zm42 0h1.5v1.5h-1.5zm10 0h1.5v1.5h-1.5zm14 0h1.5v1.5h-1.5zm-48 2h1.5v1.5h-1.5zm2 0h1.5v1.5h-1.5zm12 0h1.5v1.5h-1.5zm72 0h1.5v1.5h-1.5zm6 0h1.5v1.5h-1.5zm96 0h1.5v1.5h-1.5zm12 0h1.5v1.5h-1.5zm4 0h1.5v1.5h-1.5zm-184 2h1.5v1.5h-1.5zm4 0h1.5v1.5h-1.5zm72 0h1.5v1.5h-1.5zm2 0h1.5v1.5h-1.5zm40 0h1.5v1.5h-1.5zm-168 2h1.5v1.5h-1.5zm82 0h1.5v1.5h-1.5zm10 0h1.5v1.5h-1.5zm82 0h1.5v1.5h-1.5zm-116 2h1.5v1.5h-1.5zm10 0h1.5v1.5h-1.5zm8 2h1.5v1.5h-1.5zm68 0h1.5v1.5h-1.5zm16 0h1.5v1.5h-1.5zm70 0h1.5v1.5h-1.5zm-186 2h1.5v1.5h-1.5zm2 0h1.5v1.5h-1.5zm30 0h1.5v1.5h-1.5zm60 0h1.5v1.5h-1.5zm2 0h1.5v1.5h-1.5zm-92 2h1.5v1.5h-1.5zm2 0h1.5v1.5h-1.5zm22 0h1.5v1.5h-1.5zm14 0h1.5v1.5h-1.5zm-10 2h1.5v1.5h-1.5zm74 0h1.5v1.5h-1.5zm6 0h1.5v1.5h-1.5zm-116 2h1.5v1.5h-1.5zm172 0h1.5v1.5h-1.5zm-170 2h1.5v1.5h-1.5zm90 0h1.5v1.5h-1.5zm4 0h1.5v1.5h-1.5zm16 0h1.5v1.5h-1.5zm16 0h1.5v1.5h-1.5zm-98 2h1.5v1.5h-1.5zm84 0h1.5v1.5h-1.5zm2 0h1.5v1.5h-1.5zm14 0h1.5v1.5h-1.5zm-118 2h1.5v1.5h-1.5zm30 0h1.5v1.5h-1.5zm86 0h1.5v1.5h-1.5zm-146 2h1.5v1.5h-1.5zm34 0h1.5v1.5h-1.5zm26 0h1.5v1.5h-1.5zm54 0h1.5v1.5h-1.5zm-112 2h1.5v1.5h-1.5zm16 0h1.5v1.5h-1.5zm42 0h1.5v1.5h-1.5zm78 0h1.5v1.5h-1.5zm16 0h1.5v1.5h-1.5zm12 0h1.5v1.5h-1.5zm16 0h1.5v1.5h-1.5zm-222 2h1.5v1.5h-1.5zm38 0h1.5v1.5h-1.5zm56 0h1.5v1.5h-1.5zm64 0h1.5v1.5h-1.5zm16 0h1.5v1.5h-1.5zm16 0h1.5v1.5h-1.5zm-140 2h1.5v1.5h-1.5zm32 0h1.5v1.5h-1.5zm2 0h1.5v1.5h-1.5zm2 0h1.5v1.5h-1.5zm62 0h1.5v1.5h-1.5zm10 0h1.5v1.5h-1.5zm16 0h1.5v1.5h-1.5zm-90 2h1.5v1.5h-1.5zm72 0h1.5v1.5h-1.5zm24 0h1.5v1.5h-1.5zm36 0h1.5v1.5h-1.5zm-140 2h1.5v1.5h-1.5zm16 0h1.5v1.5h-1.5zm56 0h1.5v1.5h-1.5zm34 0h1.5v1.5h-1.5zm12 0h1.5v1.5h-1.5zm-202 2h1.5v1.5h-1.5zm92 0h1.5v1.5h-1.5zm2 0h1.5v1.5h-1.5zm2 0h1.5v1.5h-1.5zm88 0h1.5v1.5h-1.5zm62 0h1.5v1.5h-1.5zm-148 2h1.5v1.5h-1.5zm2 0h1.5v1.5h-1.5zm6 0h1.5v1.5h-1.5zm58 0h1.5v1.5h-1.5zm14 0h1.5v1.5h-1.5zm18 0h1.5v1.5h-1.5zm22 0h1.5v1.5h-1.5zm-166 2h1.5v1.5h-1.5zm122 0h1.5v1.5h-1.5zm8 0h1.5v1.5h-1.5zm-92 2h1.5v1.5h-1.5zm20 0h1.5v1.5h-1.5zm68 0h1.5v1.5h-1.5zm-106 2h1.5v1.5h-1.5zm4 0h1.5v1.5h-1.5zm2 0h1.5v1.5h-1.5zm12 0h1.5v1.5h-1.5zm16 0h1.5v1.5h-1.5zm2 0h1.5v1.5h-1.5zm44 0h1.5v1.5h-1.5zm22 0h1.5v1.5h-1.5zm16 0h1.5v1.5h-1.5zm68 0h1.5v1.5h-1.5zm-166 2h1.5v1.5h-1.5zm2 0h1.5v1.5h-1.5zm10 0h1.5v1.5h-1.5zm2 0h1.5v1.5h-1.5zm10 0h1.5v1.5h-1.5zm30 0h1.5v1.5h-1.5zm-106 2h1.5v1.5h-1.5zm14 0h1.5v1.5h-1.5zm34 0h1.5v1.5h-1.5zm12 0h1.5v1.5h-1.5zm16 0h1.5v1.5h-1.5zm18 0h1.5v1.5h-1.5zm60 0h1.5v1.5h-1.5zm2 0h1.5v1.5h-1.5zm-130 2h1.5v1.5h-1.5zm60 0h1.5v1.5h-1.5zm10 0h1.5v1.5h-1.5zm-98 2h1.5v1.5h-1.5zm14 0h1.5v1.5h-1.5zm4 0h1.5v1.5h-1.5zm28 0h1.5v1.5h-1.5zm2 0h1.5v1.5h-1.5zm86 0h1.5v1.5h-1.5zm-128 2h1.5v1.5h-1.5zm24 0h1.5v1.5h-1.5zm14 0h1.5v1.5h-1.5zm26 0h1.5v1.5h-1.5zm10 0h1.5v1.5h-1.5zm102 0h1.5v1.5h-1.5zm-110 2h1.5v1.5h-1.5zm-56 2h1.5v1.5h-1.5zm30 0h1.5v1.5h-1.5zm12 0h1.5v1.5h-1.5zm4 0h1.5v1.5h-1.5zm26 0h1.5v1.5h-1.5zm8 0h1.5v1.5h-1.5zm32 0h1.5v1.5h-1.5zm8 0h1.5v1.5h-1.5zm4 0h1.5v1.5h-1.5zm32 0h1.5v1.5h-1.5zm-78 2h1.5v1.5h-1.5zm4 0h1.5v1.5h-1.5zm8 0h1.5v1.5h-1.5zm12 0h1.5v1.5h-1.5zm12 0h1.5v1.5h-1.5zm2 0h1.5v1.5h-1.5zm-64 2h1.5v1.5h-1.5zm30 0h1.5v1.5h-1.5zm10 0h1.5v1.5h-1.5zm18 0h1.5v1.5h-1.5zm4 0h1.5v1.5h-1.5zm10 0h1.5v1.5h-1.5zm34 0h1.5v1.5h-1.5zm-194 2h1.5v1.5h-1.5zm2 0h1.5v1.5h-1.5zm16 0h1.5v1.5h-1.5zm8 0h1.5v1.5h-1.5zm32 0h1.5v1.5h-1.5zm50 0h1.5v1.5h-1.5zm38 0h1.5v1.5h-1.5zm30 0h1.5v1.5h-1.5zm4 0h1.5v1.5h-1.5zm-126 2h1.5v1.5h-1.5zm10 0h1.5v1.5h-1.5zm38 0h1.5v1.5h-1.5zm40 0h1.5v1.5h-1.5zm12 0h1.5v1.5h-1.5zm36 0h1.5v1.5h-1.5zm-166 2h1.5v1.5h-1.5zm36 0h1.5v1.5h-1.5zm8 0h1.5v1.5h-1.5zm56 0h1.5v1.5h-1.5zm8 0h1.5v1.5h-1.5zm2 0h1.5v1.5h-1.5zm-74 2h1.5v1.5h-1.5zm40 0h1.5v1.5h-1.5zm32 0h1.5v1.5h-1.5zm-124 2h1.5v1.5h-1.5zm40 0h1.5v1.5h-1.5zm64 0h1.5v1.5h-1.5zm42 0h1.5v1.5h-1.5zm24 0h1.5v1.5h-1.5zm-96 2h1.5v1.5h-1.5zm42 0h1.5v1.5h-1.5zm56 0h1.5v1.5h-1.5zm-178 2h1.5v1.5h-1.5zm88 0h1.5v1.5h-1.5zm38 0h1.5v1.5h-1.5zm24 0h1.5v1.5h-1.5zm-70 2h1.5v1.5h-1.5zm10 0h1.5v1.5h-1.5zm4 0h1.5v1.5h-1.5zm26 0h1.5v1.5h-1.5zm6 0h1.5v1.5h-1.5zm42 0h1.5v1.5h-1.5zm10 0h1.5v1.5h-1.5zm4 0h1.5v1.5h-1.5zm2 0h1.5v1.5h-1.5zm-190 2h1.5v1.5h-1.5zm118 0h1.5v1.5h-1.5zm16 0h1.5v1.5h-1.5zm42 0h1.5v1.5h-1.5zm-78 2h1.5v1.5h-1.5zm10 0h1.5v1.5h-1.5zm18 0h1.5v1.5h-1.5zm2 0h1.5v1.5h-1.5zm30 0h1.5v1.5h-1.5zm-122 2h1.5v1.5h-1.5zm26 0h1.5v1.5h-1.5zm34 0h1.5v1.5h-1.5zm-64 2h1.5v1.5h-1.5zm14 0h1.5v1.5h-1.5zm68 0h1.5v1.5h-1.5zm50 0h1.5v1.5h-1.5zm24 0h1.5v1.5h-1.5zm-76 2h1.5v1.5h-1.5zm32 0h1.5v1.5h-1.5zm6 0h1.5v1.5h-1.5zm26 0h1.5v1.5h-1.5zm2 0h1.5v1.5h-1.5zm2 0h1.5v1.5h-1.5zm-20 2h1.5v1.5h-1.5zm-22 2h1.5v1.5h-1.5zm84 0h1.5v1.5h-1.5zm-120 2h1.5v1.5h-1.5zm2 0h1.5v1.5h-1.5zm24 0h1.5v1.5h-1.5zm2 0h1.5v1.5h-1.5zm60 0h1.5v1.5h-1.5zm46 0h1.5v1.5h-1.5zm-190 2h1.5v1.5h-1.5zm100 0h1.5v1.5h-1.5zm-62 2h1.5v1.5h-1.5zm16 0h1.5v1.5h-1.5zm38 0h1.5v1.5h-1.5zm-72 4h1.5v1.5h-1.5zm6 0h1.5v1.5h-1.5zm8 0h1.5v1.5h-1.5zm90 0h1.5v1.5h-1.5zm4 2h1.5v1.5h-1.5zm-22 2h1.5v1.5h-1.5zm60 0h1.5v1.5h-1.5zm-100 2h1.5v1.5h-1.5zm60 0h1.5v1.5h-1.5zm-84 2h1.5v1.5h-1.5zm18 0h1.5v1.5h-1.5zm-64 4h1.5v1.5h-1.5zm40 0h1.5v1.5h-1.5zm42 2h1.5v1.5h-1.5zm114 0h1.5v1.5h-1.5zm-16 2h1.5v1.5h-1.5zm-116 2h1.5v1.5h-1.5zm-44 2h1.5v1.5h-1.5zm56 6h1.5v1.5h-1.5zm-28 2h1.5v1.5h-1.5zm-38 2h1.5v1.5h-1.5zm-54 2h1.5v1.5h-1.5zm78 0h1.5v1.5h-1.5zm132 0h1.5v1.5h-1.5zm-200 2h1.5v1.5h-1.5zm116 0h1.5v1.5h-1.5zm38 0h1.5v1.5h-1.5zm44 0h1.5v1.5h-1.5zm-182 4h1.5v1.5h-1.5zm38 2h1.5v1.5h-1.5zm24 2h1.5v1.5h-1.5zm44 2h1.5v1.5h-1.5zm-92 8h1.5v1.5h-1.5zm-44 2h1.5v1.5h-1.5z"/>
<path fill="#d4d4d4" d="M997.7 226.3h1.5v1.5h-1.5zm38 6h1.5v1.5h-1.5zm-22 8h1.5v1.5h-1.5zm-2 6h1.5v1.5h-1.5zm22 0h1.5v1.5h-1.5zm-24 6h1.5v1.5h-1.5zm8 0h1.5v1.5h-1.5zm-24 4h1.5v1.5h-1.5zm4 0h1.5v1.5h-1.5zm26 0h1.5v1.5h-1.5zm-36 2h1.5v1.5h-1.5zm18 0h1.5v1.5h-1.5zm8 0h1.5v1.5h-1.5zm8 0h1.5v1.5h-1.5zm8 0h1.5v1.5h-1.5zm-52 4h1.5v1.5h-1.5zm44 0h1.5v1.5h-1.5zm6 0h1.5v1.5h-1.5zm-50 4h1.5v1.5h-1.5zm0 2h1.5v1.5h-1.5zm2 0h1.5v1.5h-1.5zm32 0h1.5v1.5h-1.5zm-36 2h1.5v1.5h-1.5zm6 0h1.5v1.5h-1.5zm18 0h1.5v1.5h-1.5zm16 0h1.5v1.5h-1.5zm-32 4h1.5v1.5h-1.5zm-6 2h1.5v1.5h-1.5zm62 0h1.5v1.5h-1.5zm26 0h1.5v1.5h-1.5zm-90 4h1.5v1.5h-1.5zm64 0h1.5v1.5h-1.5zm22 0h1.5v1.5h-1.5zm-94 2h1.5v1.5h-1.5zm88 0h1.5v1.5h-1.5zm0 2h1.5v1.5h-1.5zm-106 2h1.5v1.5h-1.5zm30 4h1.5v1.5h-1.5zm62 4h1.5v1.5h-1.5zm2 0h1.5v1.5h-1.5zm-62 2h1.5v1.5h-1.5zm80 0h1.5v1.5h-1.5zm-84 2h1.5v1.5h-1.5zm66 0h1.5v1.5h-1.5zm14 2h1.5v1.5h-1.5zm-92 6h1.5v1.5h-1.5zm14 2h1.5v1.5h-1.5zm-10 2h1.5v1.5h-1.5zm10 4h1.5v1.5h-1.5zm82 0h1.5v1.5h-1.5zm-36 2h1.5v1.5h-1.5zm10 0h1.5v1.5h-1.5zm4 0h1.5v1.5h-1.5zm-44 2h1.5v1.5h-1.5zm36 0h1.5v1.5h-1.5zm-18 2h1.5v1.5h-1.5zm2 0h1.5v1.5h-1.5zm26 0h1.5v1.5h-1.5zm10 0h1.5v1.5h-1.5zm-26 2h1.5v1.5h-1.5zm-40 2h1.5v1.5h-1.5zm48 2h1.5v1.5h-1.5zm-44 2h1.5v1.5h-1.5zm68 0h1.5v1.5h-1.5zm-48 2h1.5v1.5h-1.5zm6 0h1.5v1.5h-1.5zm22 0h1.5v1.5h-1.5zm-52 2h1.5v1.5h-1.5zm16 2h1.5v1.5h-1.5zm-10 2h1.5v1.5h-1.5zm36 0h1.5v1.5h-1.5zm-10 8h1.5v1.5h-1.5zm-12 4h1.5v1.5h-1.5zm8 10h1.5v1.5h-1.5z"/>
<path fill="#b4b4b4" d="M1011.7 238.3h1.5v1.5h-1.5zm2 4h1.5v1.5h-1.5zm24 2h1.5v1.5h-1.5zm-36 4h1.5v1.5h-1.5zm12 0h1.5v1.5h-1.5zm34 0h1.5v1.5h-1.5zm-52 2h1.5v1.5h-1.5zm30 0h1.5v1.5h-1.5zm30 0h1.5v1.5h-1.5zm-58 2h1.5v1.5h-1.5zm40 0h1.5v1.5h-1.5zm-48 2h1.5v1.5h-1.5zm10 0h1.5v1.5h-1.5zm28 0h1.5v1.5h-1.5zm-22 2h1.5v1.5h-1.5zm38 0h1.5v1.5h-1.5zm-36 2h1.5v1.5h-1.5zm-2 2h1.5v1.5h-1.5zm24 0h1.5v1.5h-1.5zm-6 2h1.5v1.5h-1.5zm-44 2h1.5v1.5h-1.5zm64 0h1.5v1.5h-1.5zm-96 2h1.5v1.5h-1.5zm26 0h1.5v1.5h-1.5zm14 0h1.5v1.5h-1.5zm70 2h1.5v1.5h-1.5zm-56 2h1.5v1.5h-1.5zm16 0h1.5v1.5h-1.5zm-30 2h1.5v1.5h-1.5zm62 0h1.5v1.5h-1.5zm12 0h1.5v1.5h-1.5zm-70 2h1.5v1.5h-1.5zm8 0h1.5v1.5h-1.5zm-18 2h1.5v1.5h-1.5zm6 4h1.5v1.5h-1.5zm-18 4h1.5v1.5h-1.5zm76 0h1.5v1.5h-1.5zm-82 2h1.5v1.5h-1.5zm6 0h1.5v1.5h-1.5zm-8 2h1.5v1.5h-1.5zm94 0h1.5v1.5h-1.5zm-72 2h1.5v1.5h-1.5zm60 0h1.5v1.5h-1.5zm-76 2h1.5v1.5h-1.5zm-4 2h1.5v1.5h-1.5zm16 0h1.5v1.5h-1.5zm66 0h1.5v1.5h-1.5zm10 0h1.5v1.5h-1.5zm-20 4h1.5v1.5h-1.5zm0 2h1.5v1.5h-1.5zm16 0h1.5v1.5h-1.5zm12 2h1.5v1.5h-1.5zm-86 2h1.5v1.5h-1.5zm78 0h1.5v1.5h-1.5zm-82 2h1.5v1.5h-1.5zm66 0h1.5v1.5h-1.5zm8 0h1.5v1.5h-1.5zm-8 2h1.5v1.5h-1.5zm-54 2h1.5v1.5h-1.5zm80 0h1.5v1.5h-1.5zm-100 4h1.5v1.5h-1.5zm88 0h1.5v1.5h-1.5zm-26 2h1.5v1.5h-1.5zm6 0h1.5v1.5h-1.5zm22 0h1.5v1.5h-1.5zm-96 2h1.5v1.5h-1.5zm58 2h1.5v1.5h-1.5zm-50 2h1.5v1.5h-1.5zm8 2h1.5v1.5h-1.5zm6 0h1.5v1.5h-1.5zm28 0h1.5v1.5h-1.5zm42 0h1.5v1.5h-1.5zm-14 2h1.5v1.5h-1.5zm10 0h1.5v1.5h-1.5zm-72 2h1.5v1.5h-1.5zm66 0h1.5v1.5h-1.5zm-46 2h1.5v1.5h-1.5zm4 2h1.5v1.5h-1.5zm4 2h1.5v1.5h-1.5zm28 0h1.5v1.5h-1.5zm6 0h1.5v1.5h-1.5zm-70 2h1.5v1.5h-1.5zm42 0h1.5v1.5h-1.5zm20 0h1.5v1.5h-1.5zm-28 2h1.5v1.5h-1.5zm10 0h1.5v1.5h-1.5zm-2 2h1.5v1.5h-1.5zm4 0h1.5v1.5h-1.5zm24 0h1.5v1.5h-1.5zm-46 2h1.5v1.5h-1.5zm6 0h1.5v1.5h-1.5zm40 2h1.5v1.5h-1.5zm-8 10h1.5v1.5h-1.5z"/>
<path fill="#e2e2e2" d="M999.7 240.3h1.5v1.5h-1.5zm0 4h1.5v1.5h-1.5zm0 2h1.5v1.5h-1.5zm38 2h1.5v1.5h-1.5zm-34 2h1.5v1.5h-1.5zm18 0h1.5v1.5h-1.5zm-48 2h1.5v1.5h-1.5zm32 0h1.5v1.5h-1.5zm-6 4h1.5v1.5h-1.5zm0 2h1.5v1.5h-1.5zm10 2h1.5v1.5h-1.5zm16 0h1.5v1.5h-1.5zm12 0h1.5v1.5h-1.5zm-52 2h1.5v1.5h-1.5zm2 2h1.5v1.5h-1.5zm20 2h1.5v1.5h-1.5zm30 2h1.5v1.5h-1.5zm-66 2h1.5v1.5h-1.5zm14 2h1.5v1.5h-1.5zm-16 2h1.5v1.5h-1.5zm8 0h1.5v1.5h-1.5zm10 0h1.5v1.5h-1.5zm64 0h1.5v1.5h-1.5zm-6 2h1.5v1.5h-1.5zm-70 2h1.5v1.5h-1.5zm58 0h1.5v1.5h-1.5zm22 2h1.5v1.5h-1.5zm16 0h1.5v1.5h-1.5zm-100 2h1.5v1.5h-1.5zm66 0h1.5v1.5h-1.5zm-80 4h1.5v1.5h-1.5zm2 2h1.5v1.5h-1.5zm16 4h1.5v1.5h-1.5zm64 0h1.5v1.5h-1.5zm10 0h1.5v1.5h-1.5zm-14 4h1.5v1.5h-1.5zm12 0h1.5v1.5h-1.5zm2 0h1.5v1.5h-1.5zm-10 2h1.5v1.5h-1.5zm30 0h1.5v1.5h-1.5zm-82 2h1.5v1.5h-1.5zm60 0h1.5v1.5h-1.5zm-100 2h1.5v1.5h-1.5zm42 0h1.5v1.5h-1.5zm60 0h1.5v1.5h-1.5zm-70 2h1.5v1.5h-1.5zm-12 6h1.5v1.5h-1.5zm94 0h1.5v1.5h-1.5zm-88 4h1.5v1.5h-1.5zm66 0h1.5v1.5h-1.5zm6 0h1.5v1.5h-1.5zm-84 2h1.5v1.5h-1.5zm38 2h1.5v1.5h-1.5zm28 0h1.5v1.5h-1.5zm8 2h1.5v1.5h-1.5zm-58 2h1.5v1.5h-1.5zm60 0h1.5v1.5h-1.5zm-80 2h1.5v1.5h-1.5zm76 0h1.5v1.5h-1.5zm20 0h1.5v1.5h-1.5zm-4 2h1.5v1.5h-1.5zm-40 2h1.5v1.5h-1.5zm12 0h1.5v1.5h-1.5zm-36 2h1.5v1.5h-1.5zm2 0h1.5v1.5h-1.5zm10 0h1.5v1.5h-1.5zm44 0h1.5v1.5h-1.5zm-64 2h1.5v1.5h-1.5zm42 0h1.5v1.5h-1.5zm-30 2h1.5v1.5h-1.5zm28 0h1.5v1.5h-1.5zm2 0h1.5v1.5h-1.5zm-24 2h1.5v1.5h-1.5zm4 0h1.5v1.5h-1.5zm-4 2h1.5v1.5h-1.5zm66 0h1.5v1.5h-1.5zm-50 2h1.5v1.5h-1.5zm22 2h1.5v1.5h-1.5zm-64 2h1.5v1.5h-1.5zm56 2h1.5v1.5h-1.5z"/>
<path fill="#c6c6c6" d="M1007.7 240.3h1.5v1.5h-1.5zm2 2h1.5v1.5h-1.5zm18 2h1.5v1.5h-1.5zm18 0h1.5v1.5h-1.5zm-22 6h1.5v1.5h-1.5zm-8 4h1.5v1.5h-1.5zm4 0h1.5v1.5h-1.5zm18 0h1.5v1.5h-1.5zm-52 4h1.5v1.5h-1.5zm16 0h1.5v1.5h-1.5zm22 0h1.5v1.5h-1.5zm2 0h1.5v1.5h-1.5zm-42 2h1.5v1.5h-1.5zm4 0h1.5v1.5h-1.5zm2 0h1.5v1.5h-1.5zm54 0h1.5v1.5h-1.5zm-26 4h1.5v1.5h-1.5zm-44 6h1.5v1.5h-1.5zm64 0h1.5v1.5h-1.5zm-64 4h1.5v1.5h-1.5zm2 0h1.5v1.5h-1.5zm50 0h1.5v1.5h-1.5zm-54 2h1.5v1.5h-1.5zm2 0h1.5v1.5h-1.5zm64 0h1.5v1.5h-1.5zm-52 2h1.5v1.5h-1.5zm46 0h1.5v1.5h-1.5zm20 4h1.5v1.5h-1.5zm-2 2h1.5v1.5h-1.5zm-84 6h1.5v1.5h-1.5zm72 0h1.5v1.5h-1.5zm6 2h1.5v1.5h-1.5zm8 4h1.5v1.5h-1.5zm20 0h1.5v1.5h-1.5zm-6 2h1.5v1.5h-1.5zm-26 2h1.5v1.5h-1.5zm-60 2h1.5v1.5h-1.5zm68 0h1.5v1.5h-1.5zm4 0h1.5v1.5h-1.5zm18 0h1.5v1.5h-1.5zm-116 2h1.5v1.5h-1.5zm80 4h1.5v1.5h-1.5zm24 0h1.5v1.5h-1.5zm-108 2h1.5v1.5h-1.5zm40 0h1.5v1.5h-1.5zm58 0h1.5v1.5h-1.5zm-72 4h1.5v1.5h-1.5zm84 2h1.5v1.5h-1.5zm-86 2h1.5v1.5h-1.5zm16 0h1.5v1.5h-1.5zm30 0h1.5v1.5h-1.5zm-12 2h1.5v1.5h-1.5zm42 0h1.5v1.5h-1.5zm-74 2h1.5v1.5h-1.5zm14 0h1.5v1.5h-1.5zm16 0h1.5v1.5h-1.5zm-32 4h1.5v1.5h-1.5zm2 0h1.5v1.5h-1.5zm4 0h1.5v1.5h-1.5zm0 2h1.5v1.5h-1.5zm38 0h1.5v1.5h-1.5zm34 0h1.5v1.5h-1.5zm-84 2h1.5v1.5h-1.5zm14 0h1.5v1.5h-1.5zm8 2h1.5v1.5h-1.5zm22 0h1.5v1.5h-1.5zm6 0h1.5v1.5h-1.5zm18 0h1.5v1.5h-1.5zm-20 2h1.5v1.5h-1.5zm22 2h1.5v1.5h-1.5zm-36 6h1.5v1.5h-1.5zm14 2h1.5v1.5h-1.5zm-16 2h1.5v1.5h-1.5zm12 6h1.5v1.5h-1.5zm36 6h1.5v1.5h-1.5z"/>
<path fill="#9c9c9c" d="M1001.7 246.3h1.5v1.5h-1.5zm50 2h1.5v1.5h-1.5zm-2 4h1.5v1.5h-1.5zm-52 2h1.5v1.5h-1.5zm8 0h1.5v1.5h-1.5zm8 0h1.5v1.5h-1.5zm-36 2h1.5v1.5h-1.5zm60 0h1.5v1.5h-1.5zm-60 2h1.5v1.5h-1.5zm18 0h1.5v1.5h-1.5zm20 0h1.5v1.5h-1.5zm-22 2h1.5v1.5h-1.5zm50 2h1.5v1.5h-1.5zm-54 4h1.5v1.5h-1.5zm36 0h1.5v1.5h-1.5zm4 0h1.5v1.5h-1.5zm4 0h1.5v1.5h-1.5zm8 0h1.5v1.5h-1.5zm2 0h1.5v1.5h-1.5zm-20 2h1.5v1.5h-1.5zm-60 2h1.5v1.5h-1.5zm16 0h1.5v1.5h-1.5zm8 0h1.5v1.5h-1.5zm-30 2h1.5v1.5h-1.5zm18 0h1.5v1.5h-1.5zm72 0h1.5v1.5h-1.5zm-4 2h1.5v1.5h-1.5zm-80 2h1.5v1.5h-1.5zm26 0h1.5v1.5h-1.5zm60 0h1.5v1.5h-1.5zm6 2h1.5v1.5h-1.5zm-84 2h1.5v1.5h-1.5zm2 2h1.5v1.5h-1.5zm14 0h1.5v1.5h-1.5zm60 2h1.5v1.5h-1.5zm-10 2h1.5v1.5h-1.5zm6 0h1.5v1.5h-1.5zm4 0h1.5v1.5h-1.5zm4 6h1.5v1.5h-1.5zm-4 2h1.5v1.5h-1.5zm14 0h1.5v1.5h-1.5zm-16 2h1.5v1.5h-1.5zm8 0h1.5v1.5h-1.5zm12 0h1.5v1.5h-1.5zm-102 2h1.5v1.5h-1.5zm82 0h1.5v1.5h-1.5zm10 0h1.5v1.5h-1.5zm-2 4h1.5v1.5h-1.5zm-10 2h1.5v1.5h-1.5zm6 0h1.5v1.5h-1.5zm-110 2h1.5v1.5h-1.5zm90 2h1.5v1.5h-1.5zm20 0h1.5v1.5h-1.5zm-64 4h1.5v1.5h-1.5zm58 0h1.5v1.5h-1.5zm0 2h1.5v1.5h-1.5zm0 2h1.5v1.5h-1.5zm20 0h1.5v1.5h-1.5zm-78 2h1.5v1.5h-1.5zm56 0h1.5v1.5h-1.5zm-52 2h1.5v1.5h-1.5zm12 0h1.5v1.5h-1.5zm42 0h1.5v1.5h-1.5zm-62 2h1.5v1.5h-1.5zm18 0h1.5v1.5h-1.5zm54 0h1.5v1.5h-1.5zm-64 2h1.5v1.5h-1.5zm4 0h1.5v1.5h-1.5zm22 2h1.5v1.5h-1.5zm16 0h1.5v1.5h-1.5zm24 0h1.5v1.5h-1.5zm-70 2h1.5v1.5h-1.5zm52 0h1.5v1.5h-1.5zm-74 2h1.5v1.5h-1.5zm6 0h1.5v1.5h-1.5zm6 2h1.5v1.5h-1.5zm22 0h1.5v1.5h-1.5zm-12 2h1.5v1.5h-1.5zm6 0h1.5v1.5h-1.5zm30 0h1.5v1.5h-1.5zm-32 2h1.5v1.5h-1.5zm12 0h1.5v1.5h-1.5zm6 4h1.5v1.5h-1.5zm38 2h1.5v1.5h-1.5zm-48 4h1.5v1.5h-1.5zm20 2h1.5v1.5h-1.5z"/>
<path fill="#e8785a" d="M1001.7 264.3h1.5v1.5h-1.5zm6 0h1.5v1.5h-1.5zm-14 2h1.5v1.5h-1.5zm38 10h1.5v1.5h-1.5zm-44 2h1.5v1.5h-1.5zm2 4h1.5v1.5h-1.5zm-10 6h1.5v1.5h-1.5zm2 0h1.5v1.5h-1.5zm0 10h1.5v1.5h-1.5zm10 14h1.5v1.5h-1.5zm44 2h1.5v1.5h-1.5zm-44 2h1.5v1.5h-1.5zm6 2h1.5v1.5h-1.5zm24 0h1.5v1.5h-1.5zm2 6h1.5v1.5h-1.5zm-20 4h1.5v1.5h-1.5zm4 4h1.5v1.5h-1.5zm0 2h1.5v1.5h-1.5z"/>
<path fill="#f4a888" d="M997.7 268.3h1.5v1.5h-1.5zm18 0h1.5v1.5h-1.5zm4 0h1.5v1.5h-1.5zm6 0h1.5v1.5h-1.5zm-44 4h1.5v1.5h-1.5zm12 0h1.5v1.5h-1.5zm-10 6h1.5v1.5h-1.5zm8 0h1.5v1.5h-1.5zm36 0h1.5v1.5h-1.5zm-36 2h1.5v1.5h-1.5zm-8 2h1.5v1.5h-1.5zm-10 4h1.5v1.5h-1.5zm8 0h1.5v1.5h-1.5zm-4 2h1.5v1.5h-1.5zm6 4h1.5v1.5h-1.5zm0 4h1.5v1.5h-1.5zm-2 10h1.5v1.5h-1.5zm8 0h1.5v1.5h-1.5zm62 0h1.5v1.5h-1.5zm-62 2h1.5v1.5h-1.5zm52 0h1.5v1.5h-1.5zm-54 4h1.5v1.5h-1.5zm48 6h1.5v1.5h-1.5zm2 0h1.5v1.5h-1.5zm-46 2h1.5v1.5h-1.5zm4 0h1.5v1.5h-1.5zm2 0h1.5v1.5h-1.5zm28 0h1.5v1.5h-1.5zm-30 4h1.5v1.5h-1.5zm12 0h1.5v1.5h-1.5zm-16 2h1.5v1.5h-1.5zm34 0h1.5v1.5h-1.5zm0 4h1.5v1.5h-1.5z"/>
<path fill="#f09070" d="M1021.7 268.3h1.5v1.5h-1.5zm-32 4h1.5v1.5h-1.5zm-10 6h1.5v1.5h-1.5zm8 6h1.5v1.5h-1.5zm-4 2h1.5v1.5h-1.5zm4 0h1.5v1.5h-1.5zm-2 4h1.5v1.5h-1.5zm-4 2h1.5v1.5h-1.5zm4 0h1.5v1.5h-1.5zm-2 2h1.5v1.5h-1.5zm-2 8h1.5v1.5h-1.5zm2 0h1.5v1.5h-1.5zm0 2h1.5v1.5h-1.5zm0 2h1.5v1.5h-1.5zm0 2h1.5v1.5h-1.5zm2 0h1.5v1.5h-1.5zm50 0h1.5v1.5h-1.5zm-46 4h1.5v1.5h-1.5zm-6 2h1.5v1.5h-1.5zm10 2h1.5v1.5h-1.5zm16 6h1.5v1.5h-1.5zm10 2h1.5v1.5h-1.5zm-20 4h1.5v1.5h-1.5z"/>
<rect x="872.8" y="159.3" width="45.2" height="47.7" fill="#fff"/>
<rect x="872.7" y="159.3" width="271.8" height="272.2" fill="none" stroke="#262626" stroke-width="1.35"/>
<path d="M872.7 164.5h5M872.7 229.6h5M872.7 295.3h5M872.7 360.4h5M872.7 426.8h5" stroke="#262626" stroke-width="1.3"/>
<path d="M877.3 431.5v-5M943.7 431.5v-5M1008.8 431.5v-5M1074.5 431.5v-5M1139.6 431.5v-5" stroke="#262626" stroke-width="1.3"/>
<text x="887.2" y="198" font-size="38" textLength="24.97" lengthAdjust="spacingAndGlyphs" font-weight="bold" stroke="#000" stroke-width="1.1">c</text>
<path d="M1230 164H1448V424.4H1187V206.4H1230Z" fill="#3e5994"/>
<circle cx="1320.5" cy="292.4" r="31" fill="none" stroke="#4d7f4f" stroke-width="5.5" filter="url(#bl1)"/>
<ellipse cx="1320.5" cy="261.4" rx="10" ry="5.6" fill="url(#spR)" transform="rotate(0 1320.5 261.4)"/>
<ellipse cx="1320.5" cy="323.4" rx="10" ry="5.6" fill="url(#spR)" transform="rotate(-180 1320.5 323.4)"/>
<ellipse cx="1347.35" cy="276.9" rx="10.5" ry="5.2" fill="url(#spY)" transform="rotate(60 1347.35 276.9)"/>
<ellipse cx="1293.65" cy="276.9" rx="10.5" ry="5.2" fill="url(#spY)" transform="rotate(-60 1293.65 276.9)"/>
<ellipse cx="1293.65" cy="307.9" rx="10.5" ry="5.2" fill="url(#spY)" transform="rotate(-120 1293.65 307.9)"/>
<ellipse cx="1347.35" cy="307.9" rx="10.5" ry="5.2" fill="url(#spY)" transform="rotate(-240 1347.35 307.9)"/>
<rect x="1185.8" y="162.8" width="44.2" height="43.6" fill="#fff"/>
<rect x="1180" y="159.5" width="273" height="272" fill="none" stroke="#262626" stroke-width="1.35"/>
<path d="M1180 176h5M1180 235.5h5M1180 295.3h5M1180 355.2h5M1180 414.7h5" stroke="#262626" stroke-width="1.3"/>
<path d="M1197.4 431.5v-5M1256.9 431.5v-5M1316.7 431.5v-5M1376.3 431.5v-5M1436.1 431.5v-5" stroke="#262626" stroke-width="1.3"/>
<text x="1195.5" y="198.4" font-size="39.5" textLength="28.98" lengthAdjust="spacingAndGlyphs" font-weight="bold" stroke="#000" stroke-width="1.1">d</text>
<clipPath id="ce"><rect x="1578.7" y="165" width="263" height="262"/></clipPath>
<g clip-path="url(#ce)"><rect x="1578.7" y="165" width="263" height="262" fill="#7e293b"/>
<g fill="url(#sk)"><ellipse cx="1731.08" cy="210.25" rx="10.39" ry="8.96" transform="rotate(87 1731.08 210.25)"/><ellipse cx="1710.5" cy="190.29" rx="10.35" ry="8.76" transform="rotate(121 1710.5 190.29)"/><ellipse cx="1692.5" cy="200" rx="10.27" ry="9.17" transform="rotate(146 1692.5 200)"/><ellipse cx="1710.19" cy="249.22" rx="10.15" ry="9.44" transform="rotate(179 1710.19 249.22)"/><ellipse cx="1679.25" cy="173.93" rx="10.27" ry="10.07" transform="rotate(145 1679.25 173.93)"/><ellipse cx="1699.71" cy="173.16" rx="9.85" ry="8.66" transform="rotate(34 1699.71 173.16)"/><ellipse cx="1708.84" cy="155" rx="10.43" ry="9.88" transform="rotate(107 1708.84 155)"/><ellipse cx="1730.17" cy="245.97" rx="10.25" ry="9.23" transform="rotate(157 1730.17 245.97)"/><ellipse cx="1676.85" cy="213.22" rx="10.02" ry="9.84" transform="rotate(133 1676.85 213.22)"/><ellipse cx="1687.74" cy="155" rx="9.99" ry="8.66" transform="rotate(146 1687.74 155)"/><ellipse cx="1744.73" cy="225.79" rx="10.2" ry="8.85" transform="rotate(125 1744.73 225.79)"/><ellipse cx="1748.84" cy="197.54" rx="9.86" ry="9.64" transform="rotate(100 1748.84 197.54)"/><ellipse cx="1764.45" cy="183.9" rx="10.11" ry="8.78" transform="rotate(26 1764.45 183.9)"/><ellipse cx="1672.86" cy="193.27" rx="10.4" ry="9.51" transform="rotate(164 1672.86 193.27)"/><ellipse cx="1735.59" cy="156.54" rx="10.2" ry="8.86" transform="rotate(144 1735.59 156.54)"/><ellipse cx="1709.41" cy="280.79" rx="10.29" ry="8.86" transform="rotate(85 1709.41 280.79)"/><ellipse cx="1689.9" cy="287.11" rx="10.36" ry="8.78" transform="rotate(67 1689.9 287.11)"/><ellipse cx="1761.39" cy="213.08" rx="10.22" ry="9.32" transform="rotate(81 1761.39 213.08)"/><ellipse cx="1653.39" cy="186.5" rx="10.12" ry="8.94" transform="rotate(71 1653.39 186.5)"/><ellipse cx="1799.63" cy="213.76" rx="9.93" ry="9.24" transform="rotate(25 1799.63 213.76)"/><ellipse cx="1644.37" cy="168.09" rx="9.89" ry="9.14" transform="rotate(74 1644.37 168.09)"/><ellipse cx="1682.08" cy="306.2" rx="9.87" ry="9.71" transform="rotate(5 1682.08 306.2)"/><ellipse cx="1690.57" cy="246.17" rx="9.91" ry="9.03" transform="rotate(57 1690.57 246.17)"/><ellipse cx="1657" cy="206.76" rx="10.24" ry="9.12" transform="rotate(168 1657 206.76)"/><ellipse cx="1756.36" cy="157.35" rx="10.36" ry="10.22" transform="rotate(74 1756.36 157.35)"/><ellipse cx="1663.71" cy="160.27" rx="10.48" ry="9.33" transform="rotate(55 1663.71 160.27)"/><ellipse cx="1776.43" cy="161.78" rx="10.06" ry="8.92" transform="rotate(124 1776.43 161.78)"/><ellipse cx="1784.96" cy="180.46" rx="10.44" ry="9.63" transform="rotate(120 1784.96 180.46)"/><ellipse cx="1795.93" cy="155" rx="10.31" ry="9.87" transform="rotate(7 1795.93 155)"/><ellipse cx="1638.92" cy="217.33" rx="10.4" ry="10.22" transform="rotate(127 1638.92 217.33)"/><ellipse cx="1669.49" cy="290.45" rx="10.12" ry="8.57" transform="rotate(124 1669.49 290.45)"/><ellipse cx="1635.37" cy="196.78" rx="9.92" ry="8.93" transform="rotate(66 1635.37 196.78)"/><ellipse cx="1806.53" cy="173.02" rx="10.48" ry="9.4" transform="rotate(20 1806.53 173.02)"/><ellipse cx="1623.91" cy="179.27" rx="10.24" ry="8.93" transform="rotate(130 1623.91 179.27)"/><ellipse cx="1745.54" cy="175.18" rx="10.14" ry="9.17" transform="rotate(14 1745.54 175.18)"/><ellipse cx="1607.78" cy="192.66" rx="10.24" ry="10.07" transform="rotate(18 1607.78 192.66)"/><ellipse cx="1692.03" cy="323.39" rx="10.46" ry="9.77" transform="rotate(50 1692.03 323.39)"/><ellipse cx="1749.9" cy="245.84" rx="9.83" ry="9.54" transform="rotate(131 1749.9 245.84)"/><ellipse cx="1621.94" cy="229.69" rx="10.11" ry="9.67" transform="rotate(164 1621.94 229.69)"/><ellipse cx="1702.71" cy="304.99" rx="10.31" ry="10.03" transform="rotate(35 1702.71 304.99)"/><ellipse cx="1656.47" cy="274.96" rx="10.5" ry="10.1" transform="rotate(154 1656.47 274.96)"/><ellipse cx="1666.47" cy="250.83" rx="9.83" ry="9.81" transform="rotate(83 1666.47 250.83)"/><ellipse cx="1659.13" cy="335.98" rx="10.42" ry="10.02" transform="rotate(169 1659.13 335.98)"/><ellipse cx="1651.51" cy="300.58" rx="10.45" ry="8.79" transform="rotate(175 1651.51 300.58)"/><ellipse cx="1765.04" cy="233.04" rx="10.36" ry="9.65" transform="rotate(120 1765.04 233.04)"/><ellipse cx="1647.07" cy="256.8" rx="10.22" ry="9.68" transform="rotate(114 1647.07 256.8)"/><ellipse cx="1615.83" cy="267.79" rx="10" ry="9.18" transform="rotate(83 1615.83 267.79)"/><ellipse cx="1679.05" cy="337.78" rx="10.5" ry="8.88" transform="rotate(23 1679.05 337.78)"/><ellipse cx="1801.13" cy="192.97" rx="10.32" ry="9.14" transform="rotate(53 1801.13 192.97)"/><ellipse cx="1722.79" cy="265.16" rx="10.11" ry="10.1" transform="rotate(61 1722.79 265.16)"/><ellipse cx="1632.94" cy="292.7" rx="10.18" ry="9.31" transform="rotate(45 1632.94 292.7)"/><ellipse cx="1643.62" cy="320.05" rx="10.12" ry="9.34" transform="rotate(149 1643.62 320.05)"/><ellipse cx="1817.7" cy="204.8" rx="10.38" ry="9.5" transform="rotate(166 1817.7 204.8)"/><ellipse cx="1594.6" cy="257.93" rx="10.31" ry="9.65" transform="rotate(158 1594.6 257.93)"/><ellipse cx="1748.94" cy="265.95" rx="10.04" ry="9.52" transform="rotate(92 1748.94 265.95)"/><ellipse cx="1702.28" cy="342.33" rx="10.15" ry="8.73" transform="rotate(9 1702.28 342.33)"/><ellipse cx="1619.23" cy="209.67" rx="10.24" ry="10.06" transform="rotate(19 1619.23 209.67)"/><ellipse cx="1769.03" cy="253.29" rx="10.16" ry="9.81" transform="rotate(150 1769.03 253.29)"/><ellipse cx="1624.79" cy="310.78" rx="10.38" ry="9.79" transform="rotate(151 1624.79 310.78)"/><ellipse cx="1592.56" cy="178.66" rx="10.34" ry="9.83" transform="rotate(71 1592.56 178.66)"/><ellipse cx="1612.9" cy="288.46" rx="9.96" ry="9.39" transform="rotate(14 1612.9 288.46)"/><ellipse cx="1754.66" cy="285.49" rx="9.87" ry="9.4" transform="rotate(82 1754.66 285.49)"/><ellipse cx="1591.16" cy="237.78" rx="10.04" ry="9.56" transform="rotate(136 1591.16 237.78)"/><ellipse cx="1587.66" cy="158.35" rx="10.41" ry="9.6" transform="rotate(171 1587.66 158.35)"/><ellipse cx="1607.98" cy="164.62" rx="10.32" ry="10.31" transform="rotate(10 1607.98 164.62)"/><ellipse cx="1627.2" cy="156.53" rx="10.21" ry="9.75" transform="rotate(121 1627.2 156.53)"/><ellipse cx="1734.91" cy="281.24" rx="10.34" ry="8.9" transform="rotate(49 1734.91 281.24)"/><ellipse cx="1635.71" cy="273.12" rx="10.01" ry="9.15" transform="rotate(75 1635.71 273.12)"/><ellipse cx="1771.03" cy="273.27" rx="10.19" ry="9.69" transform="rotate(57 1771.03 273.27)"/><ellipse cx="1793.7" cy="257.46" rx="9.91" ry="9.68" transform="rotate(113 1793.7 257.46)"/><ellipse cx="1791.09" cy="277.5" rx="10.17" ry="9.66" transform="rotate(71 1791.09 277.5)"/><ellipse cx="1649.75" cy="358.85" rx="10.2" ry="9.25" transform="rotate(144 1649.75 358.85)"/><ellipse cx="1727.75" cy="340.45" rx="10.13" ry="9.71" transform="rotate(119 1727.75 340.45)"/><ellipse cx="1568.7" cy="247.89" rx="10.11" ry="9.89" transform="rotate(22 1568.7 247.89)"/><ellipse cx="1633.13" cy="368.9" rx="10.14" ry="8.77" transform="rotate(24 1633.13 368.9)"/><ellipse cx="1588.98" cy="202.24" rx="10.11" ry="9.59" transform="rotate(84 1588.98 202.24)"/><ellipse cx="1772.85" cy="293.61" rx="10.01" ry="9.19" transform="rotate(97 1772.85 293.61)"/><ellipse cx="1784.55" cy="239.71" rx="10.39" ry="9.27" transform="rotate(125 1784.55 239.71)"/><ellipse cx="1600.83" cy="219.48" rx="9.87" ry="9.23" transform="rotate(24 1600.83 219.48)"/><ellipse cx="1805.29" cy="238.69" rx="10.31" ry="9.23" transform="rotate(48 1805.29 238.69)"/><ellipse cx="1826.46" cy="244.81" rx="10.16" ry="9.76" transform="rotate(134 1826.46 244.81)"/><ellipse cx="1648.92" cy="382.69" rx="10.08" ry="9.72" transform="rotate(70 1648.92 382.69)"/><ellipse cx="1813.81" cy="261.11" rx="10.21" ry="9.77" transform="rotate(81 1813.81 261.11)"/><ellipse cx="1721.49" cy="296.49" rx="9.95" ry="8.75" transform="rotate(13 1721.49 296.49)"/><ellipse cx="1636.55" cy="399.34" rx="10.08" ry="8.99" transform="rotate(146 1636.55 399.34)"/><ellipse cx="1664.37" cy="316.41" rx="10.45" ry="9.54" transform="rotate(86 1664.37 316.41)"/><ellipse cx="1741.76" cy="300.95" rx="10.08" ry="9.63" transform="rotate(86 1741.76 300.95)"/><ellipse cx="1604.5" cy="307.27" rx="10.07" ry="8.84" transform="rotate(41 1604.5 307.27)"/><ellipse cx="1777.71" cy="199.87" rx="10.09" ry="8.67" transform="rotate(178 1777.71 199.87)"/><ellipse cx="1748.41" cy="342.88" rx="9.81" ry="9.38" transform="rotate(33 1748.41 342.88)"/><ellipse cx="1623.36" cy="330.61" rx="10.34" ry="9.54" transform="rotate(144 1623.36 330.61)"/><ellipse cx="1809.35" cy="287" rx="10.14" ry="9.67" transform="rotate(169 1809.35 287)"/><ellipse cx="1573.05" cy="227.67" rx="10.32" ry="10.12" transform="rotate(129 1573.05 227.67)"/><ellipse cx="1821" cy="224.99" rx="10.03" ry="8.45" transform="rotate(94 1821 224.99)"/><ellipse cx="1745.95" cy="323.02" rx="10.23" ry="9.54" transform="rotate(83 1745.95 323.02)"/><ellipse cx="1839.7" cy="155" rx="10.2" ry="9.26" transform="rotate(142 1839.7 155)"/><ellipse cx="1767.98" cy="328.57" rx="10.19" ry="8.76" transform="rotate(111 1767.98 328.57)"/><ellipse cx="1586.4" cy="317.17" rx="10.31" ry="10.15" transform="rotate(118 1586.4 317.17)"/><ellipse cx="1777.99" cy="346.56" rx="10.11" ry="9.49" transform="rotate(117 1777.99 346.56)"/><ellipse cx="1576.17" cy="267.14" rx="10.46" ry="9.2" transform="rotate(31 1576.17 267.14)"/><ellipse cx="1827.35" cy="276.69" rx="9.82" ry="8.66" transform="rotate(17 1827.35 276.69)"/><ellipse cx="1848.37" cy="228.68" rx="10.27" ry="9.25" transform="rotate(4 1848.37 228.68)"/><ellipse cx="1780.62" cy="220" rx="9.86" ry="8.36" transform="rotate(61 1780.62 220)"/><ellipse cx="1688.27" cy="356.68" rx="9.95" ry="9.24" transform="rotate(178 1688.27 356.68)"/><ellipse cx="1595.11" cy="278.14" rx="10.15" ry="8.86" transform="rotate(58 1595.11 278.14)"/><ellipse cx="1612.12" cy="247.42" rx="9.83" ry="9.8" transform="rotate(135 1612.12 247.42)"/><ellipse cx="1668.53" cy="354.56" rx="9.9" ry="9.17" transform="rotate(8 1668.53 354.56)"/><ellipse cx="1846.78" cy="249.15" rx="10.48" ry="9.09" transform="rotate(93 1846.78 249.15)"/><ellipse cx="1666.02" cy="395.49" rx="9.97" ry="8.85" transform="rotate(99 1666.02 395.49)"/><ellipse cx="1568.7" cy="286.18" rx="10.03" ry="9.21" transform="rotate(135 1568.7 286.18)"/><ellipse cx="1760.64" cy="309.37" rx="10.5" ry="9.26" transform="rotate(5 1760.64 309.37)"/><ellipse cx="1668.29" cy="374.99" rx="9.87" ry="8.53" transform="rotate(54 1668.29 374.99)"/><ellipse cx="1684.98" cy="387.52" rx="10.24" ry="9.45" transform="rotate(93 1684.98 387.52)"/><ellipse cx="1795.52" cy="336.12" rx="9.87" ry="9.55" transform="rotate(2 1795.52 336.12)"/><ellipse cx="1837.1" cy="211.54" rx="10.02" ry="9.68" transform="rotate(139 1837.1 211.54)"/><ellipse cx="1689.56" cy="407.72" rx="10.2" ry="10.18" transform="rotate(18 1689.56 407.72)"/><ellipse cx="1622.71" cy="385.25" rx="9.93" ry="9.33" transform="rotate(92 1622.71 385.25)"/><ellipse cx="1623.99" cy="437" rx="10.33" ry="8.73" transform="rotate(32 1623.99 437)"/><ellipse cx="1594.23" cy="376.79" rx="10.28" ry="9.1" transform="rotate(81 1594.23 376.79)"/><ellipse cx="1603.78" cy="348.52" rx="9.89" ry="9.18" transform="rotate(115 1603.78 348.52)"/><ellipse cx="1568.7" cy="306.75" rx="10.07" ry="9.88" transform="rotate(144 1568.7 306.75)"/><ellipse cx="1718.87" cy="378.71" rx="10.26" ry="8.71" transform="rotate(163 1718.87 378.71)"/><ellipse cx="1586.7" cy="296.63" rx="10.3" ry="10.07" transform="rotate(44 1586.7 296.63)"/><ellipse cx="1568.7" cy="327.37" rx="10.11" ry="8.63" transform="rotate(151 1568.7 327.37)"/><ellipse cx="1785.87" cy="317.71" rx="10.34" ry="9.88" transform="rotate(45 1785.87 317.71)"/><ellipse cx="1595.73" cy="412.1" rx="10.43" ry="9.56" transform="rotate(171 1595.73 412.1)"/><ellipse cx="1606.29" cy="429.21" rx="10.26" ry="10.15" transform="rotate(128 1606.29 429.21)"/><ellipse cx="1761.42" cy="358.23" rx="10.24" ry="9.68" transform="rotate(27 1761.42 358.23)"/><ellipse cx="1568.7" cy="388.67" rx="10.48" ry="10.2" transform="rotate(134 1568.7 388.67)"/><ellipse cx="1827.94" cy="344.42" rx="10.11" ry="8.51" transform="rotate(27 1827.94 344.42)"/><ellipse cx="1736.02" cy="388.51" rx="9.93" ry="8.51" transform="rotate(142 1736.02 388.51)"/><ellipse cx="1705.09" cy="394.19" rx="10.17" ry="8.83" transform="rotate(105 1705.09 394.19)"/><ellipse cx="1643.98" cy="437" rx="10.41" ry="10.4" transform="rotate(98 1643.98 437)"/><ellipse cx="1663.68" cy="437" rx="9.95" ry="8.59" transform="rotate(117 1663.68 437)"/><ellipse cx="1752.26" cy="376.2" rx="9.83" ry="9.44" transform="rotate(16 1752.26 376.2)"/><ellipse cx="1699.58" cy="373.29" rx="10.24" ry="9.9" transform="rotate(20 1699.58 373.29)"/><ellipse cx="1790.42" cy="363.17" rx="9.84" ry="8.8" transform="rotate(42 1790.42 363.17)"/><ellipse cx="1672.2" cy="418.36" rx="10.19" ry="9.51" transform="rotate(75 1672.2 418.36)"/><ellipse cx="1612.25" cy="367.6" rx="10.4" ry="9.91" transform="rotate(93 1612.25 367.6)"/><ellipse cx="1700.68" cy="425.22" rx="9.93" ry="9.21" transform="rotate(43 1700.68 425.22)"/><ellipse cx="1586.23" cy="358.41" rx="10.33" ry="9.38" transform="rotate(174 1586.23 358.41)"/><ellipse cx="1791.99" cy="383.96" rx="10.46" ry="8.83" transform="rotate(74 1791.99 383.96)"/><ellipse cx="1737.06" cy="408.95" rx="10" ry="9.04" transform="rotate(152 1737.06 408.95)"/><ellipse cx="1825.58" cy="299.74" rx="10.2" ry="9.72" transform="rotate(49 1825.58 299.74)"/><ellipse cx="1816.32" cy="401.73" rx="9.81" ry="9.38" transform="rotate(38 1816.32 401.73)"/><ellipse cx="1794.22" cy="404.74" rx="10.06" ry="8.84" transform="rotate(160 1794.22 404.74)"/><ellipse cx="1808.46" cy="352.51" rx="10.13" ry="9.12" transform="rotate(122 1808.46 352.51)"/><ellipse cx="1571.12" cy="409.75" rx="9.98" ry="9.61" transform="rotate(175 1571.12 409.75)"/><ellipse cx="1568.7" cy="368.54" rx="9.91" ry="9.8" transform="rotate(62 1568.7 368.54)"/><ellipse cx="1825.31" cy="364.96" rx="9.89" ry="8.82" transform="rotate(178 1825.31 364.96)"/><ellipse cx="1775.24" cy="396.28" rx="10.14" ry="8.75" transform="rotate(156 1775.24 396.28)"/><ellipse cx="1756.38" cy="417.15" rx="10.49" ry="10.02" transform="rotate(145 1756.38 417.15)"/><ellipse cx="1716.42" cy="411.79" rx="9.96" ry="9.54" transform="rotate(76 1716.42 411.79)"/><ellipse cx="1776.87" cy="421.78" rx="9.94" ry="8.63" transform="rotate(38 1776.87 421.78)"/><ellipse cx="1739.5" cy="429.54" rx="9.95" ry="9.89" transform="rotate(108 1739.5 429.54)"/><ellipse cx="1719.23" cy="434.49" rx="9.84" ry="9.44" transform="rotate(107 1719.23 434.49)"/><ellipse cx="1683.86" cy="436.79" rx="9.82" ry="8.25" transform="rotate(163 1683.86 436.79)"/><ellipse cx="1586.55" cy="430.04" rx="10.38" ry="10.27" transform="rotate(48 1586.55 430.04)"/><ellipse cx="1773.17" cy="375.24" rx="10.11" ry="9.03" transform="rotate(127 1773.17 375.24)"/><ellipse cx="1791.32" cy="437" rx="10.44" ry="9.52" transform="rotate(167 1791.32 437)"/><ellipse cx="1845.22" cy="371.34" rx="10.14" ry="9.29" transform="rotate(130 1845.22 371.34)"/><ellipse cx="1805.9" cy="421.92" rx="10.11" ry="8.58" transform="rotate(54 1805.9 421.92)"/><ellipse cx="1585.99" cy="395.22" rx="10.28" ry="9.31" transform="rotate(99 1585.99 395.22)"/><ellipse cx="1812.51" cy="381.23" rx="10.04" ry="9.59" transform="rotate(111 1812.51 381.23)"/><ellipse cx="1837.92" cy="391.02" rx="9.95" ry="8.99" transform="rotate(157 1837.92 391.02)"/><ellipse cx="1761.75" cy="437" rx="10.3" ry="10.04" transform="rotate(67 1761.75 437)"/><ellipse cx="1754.7" cy="396.74" rx="10.4" ry="10.4" transform="rotate(112 1754.7 396.74)"/><ellipse cx="1848.16" cy="409.36" rx="10.47" ry="10.27" transform="rotate(25 1848.16 409.36)"/><ellipse cx="1847.79" cy="350.53" rx="10.2" ry="9.99" transform="rotate(107 1847.79 350.53)"/><ellipse cx="1568.7" cy="437" rx="10.01" ry="9.32" transform="rotate(83 1568.7 437)"/><ellipse cx="1829.18" cy="418.18" rx="9.84" ry="9.53" transform="rotate(173 1829.18 418.18)"/><ellipse cx="1820.25" cy="437" rx="9.87" ry="9.21" transform="rotate(77 1820.25 437)"/><ellipse cx="1851.07" cy="430.63" rx="9.8" ry="9.32" transform="rotate(40 1851.07 430.63)"/></g>
<g fill="none" stroke-linecap="round" stroke-linejoin="round" filter="url(#bl07)"><path d="M1569.47 170.35Q1573.8 187.54 1569.47 204.55M1848.81 196L1834.88 191.92M1722.42 174.17L1729.35 187.21M1818.29 157.53Q1827.63 171.84 1847.23 172.68M1571.33 346.48Q1586.22 337.86 1601.12 329.34M1650.29 412.51Q1634.47 419.48 1625.41 415.24Q1616.35 410.99 1607.12 396.53M1732.55 361.57L1717.64 358.98M1679.49 268.43L1694.16 265.78M1713.9 323.28L1725.74 316.53M1711.37 213.63L1716.69 227.38M1813.68 326.05Q1807.68 309.95 1794.26 299.72M1850.48 305.86Q1843.57 289.71 1846.92 272.61M1692.9 226.82Q1676.35 233.04 1666.83 230.11Q1657.3 227.17 1642.84 236.46M1848.29 328.2L1835.39 320.44M1626.12 349.45L1638.26 342.01" stroke="#9a4650" stroke-width="17.75"/><path d="M1569.47 170.35Q1573.8 187.54 1569.47 204.55M1848.81 196L1834.88 191.92M1722.42 174.17L1729.35 187.21M1818.29 157.53Q1827.63 171.84 1847.23 172.68M1571.33 346.48Q1586.22 337.86 1601.12 329.34M1650.29 412.51Q1634.47 419.48 1625.41 415.24Q1616.35 410.99 1607.12 396.53M1732.55 361.57L1717.64 358.98M1679.49 268.43L1694.16 265.78M1713.9 323.28L1725.74 316.53M1711.37 213.63L1716.69 227.38M1813.68 326.05Q1807.68 309.95 1794.26 299.72M1850.48 305.86Q1843.57 289.71 1846.92 272.61M1692.9 226.82Q1676.35 233.04 1666.83 230.11Q1657.3 227.17 1642.84 236.46M1848.29 328.2L1835.39 320.44M1626.12 349.45L1638.26 342.01" stroke="#bb6c66" stroke-width="16.24"/><path d="M1569.47 170.35Q1573.8 187.54 1569.47 204.55M1848.81 196L1834.88 191.92M1722.42 174.17L1729.35 187.21M1818.29 157.53Q1827.63 171.84 1847.23 172.68M1571.33 346.48Q1586.22 337.86 1601.12 329.34M1650.29 412.51Q1634.47 419.48 1625.41 415.24Q1616.35 410.99 1607.12 396.53M1732.55 361.57L1717.64 358.98M1679.49 268.43L1694.16 265.78M1713.9 323.28L1725.74 316.53M1711.37 213.63L1716.69 227.38M1813.68 326.05Q1807.68 309.95 1794.26 299.72M1850.48 305.86Q1843.57 289.71 1846.92 272.61M1692.9 226.82Q1676.35 233.04 1666.83 230.11Q1657.3 227.17 1642.84 236.46M1848.29 328.2L1835.39 320.44M1626.12 349.45L1638.26 342.01" stroke="#d9a088" stroke-width="14.35"/><path d="M1569.47 170.35Q1573.8 187.54 1569.47 204.55M1848.81 196L1834.88 191.92M1722.42 174.17L1729.35 187.21M1818.29 157.53Q1827.63 171.84 1847.23 172.68M1571.33 346.48Q1586.22 337.86 1601.12 329.34M1650.29 412.51Q1634.47 419.48 1625.41 415.24Q1616.35 410.99 1607.12 396.53M1732.55 361.57L1717.64 358.98M1679.49 268.43L1694.16 265.78M1713.9 323.28L1725.74 316.53M1711.37 213.63L1716.69 227.38M1813.68 326.05Q1807.68 309.95 1794.26 299.72M1850.48 305.86Q1843.57 289.71 1846.92 272.61M1692.9 226.82Q1676.35 233.04 1666.83 230.11Q1657.3 227.17 1642.84 236.46M1848.29 328.2L1835.39 320.44M1626.12 349.45L1638.26 342.01" stroke="#e8d6b6" stroke-width="12.46"/><path d="M1569.47 170.35Q1573.8 187.54 1569.47 204.55M1848.81 196L1834.88 191.92M1722.42 174.17L1729.35 187.21M1818.29 157.53Q1827.63 171.84 1847.23 172.68M1571.33 346.48Q1586.22 337.86 1601.12 329.34M1650.29 412.51Q1634.47 419.48 1625.41 415.24Q1616.35 410.99 1607.12 396.53M1732.55 361.57L1717.64 358.98M1679.49 268.43L1694.16 265.78M1713.9 323.28L1725.74 316.53M1711.37 213.63L1716.69 227.38M1813.68 326.05Q1807.68 309.95 1794.26 299.72M1850.48 305.86Q1843.57 289.71 1846.92 272.61M1692.9 226.82Q1676.35 233.04 1666.83 230.11Q1657.3 227.17 1642.84 236.46M1848.29 328.2L1835.39 320.44M1626.12 349.45L1638.26 342.01" stroke="#e2e2d2" stroke-width="10.76"/><path d="M1569.47 170.35Q1573.8 187.54 1569.47 204.55M1848.81 196L1834.88 191.92M1722.42 174.17L1729.35 187.21M1818.29 157.53Q1827.63 171.84 1847.23 172.68M1571.33 346.48Q1586.22 337.86 1601.12 329.34M1650.29 412.51Q1634.47 419.48 1625.41 415.24Q1616.35 410.99 1607.12 396.53M1732.55 361.57L1717.64 358.98M1679.49 268.43L1694.16 265.78M1713.9 323.28L1725.74 316.53M1711.37 213.63L1716.69 227.38M1813.68 326.05Q1807.68 309.95 1794.26 299.72M1850.48 305.86Q1843.57 289.71 1846.92 272.61M1692.9 226.82Q1676.35 233.04 1666.83 230.11Q1657.3 227.17 1642.84 236.46M1848.29 328.2L1835.39 320.44M1626.12 349.45L1638.26 342.01" stroke="#bcd6dc" stroke-width="9.06"/><path d="M1569.47 170.35Q1573.8 187.54 1569.47 204.55M1848.81 196L1834.88 191.92M1722.42 174.17L1729.35 187.21M1818.29 157.53Q1827.63 171.84 1847.23 172.68M1571.33 346.48Q1586.22 337.86 1601.12 329.34M1650.29 412.51Q1634.47 419.48 1625.41 415.24Q1616.35 410.99 1607.12 396.53M1732.55 361.57L1717.64 358.98M1679.49 268.43L1694.16 265.78M1713.9 323.28L1725.74 316.53M1711.37 213.63L1716.69 227.38M1813.68 326.05Q1807.68 309.95 1794.26 299.72M1850.48 305.86Q1843.57 289.71 1846.92 272.61M1692.9 226.82Q1676.35 233.04 1666.83 230.11Q1657.3 227.17 1642.84 236.46M1848.29 328.2L1835.39 320.44M1626.12 349.45L1638.26 342.01" stroke="#5f9ac8" stroke-width="6.8"/><path d="M1569.47 170.35Q1573.8 187.54 1569.47 204.55M1848.81 196L1834.88 191.92M1722.42 174.17L1729.35 187.21M1818.29 157.53Q1827.63 171.84 1847.23 172.68M1571.33 346.48Q1586.22 337.86 1601.12 329.34M1650.29 412.51Q1634.47 419.48 1625.41 415.24Q1616.35 410.99 1607.12 396.53M1732.55 361.57L1717.64 358.98M1679.49 268.43L1694.16 265.78M1713.9 323.28L1725.74 316.53M1711.37 213.63L1716.69 227.38M1813.68 326.05Q1807.68 309.95 1794.26 299.72M1850.48 305.86Q1843.57 289.71 1846.92 272.61M1692.9 226.82Q1676.35 233.04 1666.83 230.11Q1657.3 227.17 1642.84 236.46M1848.29 328.2L1835.39 320.44M1626.12 349.45L1638.26 342.01" stroke="#3468a8" stroke-width="3.4"/></g>
</g>
<rect x="1577.5" y="163.8" width="44.5" height="43.3" fill="#fff"/>
<rect x="1573.5" y="159.3" width="273" height="272.9" fill="none" stroke="#262626" stroke-width="1.35"/>
<path d="M1573.5 212.3h5M1573.5 285h5M1573.5 356.6h5M1573.5 426.8h5" stroke="#262626" stroke-width="1.3"/>
<path d="M1578.7 432.2v-5M1649 432.2v-5M1720 432.2v-5M1793 432.2v-5" stroke="#262626" stroke-width="1.3"/>
<text x="1531.07" y="220.64" font-size="23.5" textLength="30.1" lengthAdjust="spacingAndGlyphs">1.5</text>
<text x="1528.62" y="293.34" font-size="23.5" textLength="32.62" lengthAdjust="spacingAndGlyphs">1.0</text>
<text x="1527.12" y="364.94" font-size="23.5" textLength="34.17" lengthAdjust="spacingAndGlyphs">0.5</text>
<text x="1546.76" y="435.14" font-size="23.5" textLength="14.48" lengthAdjust="spacingAndGlyphs">0</text>
<text x="1589.02" y="198.4" font-size="38" textLength="24.79" lengthAdjust="spacingAndGlyphs" font-weight="bold" stroke="#000" stroke-width="1.1">e</text>
<g transform="translate(1878.7 154)"><rect x="10" y="10" width="261.3" height="261" filter="url(#stf)"/></g>
<rect x="1887.5" y="162.8" width="41.5" height="42.2" fill="#fff"/>
<rect x="1882.8" y="159.5" width="271.7" height="272.7" fill="none" stroke="#262626" stroke-width="1.35"/>
<path d="M1882.8 211.6h5M1882.8 285h5M1882.8 354.8h5M1882.8 426.8h5" stroke="#262626" stroke-width="1.3"/>
<path d="M1887.7 432.2v-5M1959.7 432.2v-5M2029.5 432.2v-5M2102.2 432.2v-5" stroke="#262626" stroke-width="1.3"/>
<text x="1902.38" y="197.8" font-size="39.5" textLength="15.4" lengthAdjust="spacingAndGlyphs" font-weight="bold" stroke="#000" stroke-width="1.1">f</text>
<clipPath id="cg"><rect x="152.3" y="449.5" width="261.4" height="262.8"/></clipPath>
<g clip-path="url(#cg)"><rect x="152.3" y="449.5" width="261.4" height="262.8" fill="#7e293b"/>
<g fill="url(#sk)"><ellipse cx="357.82" cy="617.83" rx="10.32" ry="9.24" transform="rotate(64 357.82 617.83)"/><ellipse cx="371.32" cy="602.97" rx="10.39" ry="9.45" transform="rotate(126 371.32 602.97)"/><ellipse cx="398.16" cy="599.82" rx="10.03" ry="8.47" transform="rotate(161 398.16 599.82)"/><ellipse cx="373.76" cy="633.9" rx="10.7" ry="10.17" transform="rotate(81 373.76 633.9)"/><ellipse cx="361.95" cy="582.09" rx="10.52" ry="9.06" transform="rotate(72 361.95 582.09)"/><ellipse cx="333.55" cy="619.52" rx="10.41" ry="10.2" transform="rotate(130 333.55 619.52)"/><ellipse cx="350.77" cy="636.43" rx="10.15" ry="9.42" transform="rotate(88 350.77 636.43)"/><ellipse cx="350.04" cy="598.72" rx="10.06" ry="9.11" transform="rotate(12 350.04 598.72)"/><ellipse cx="403.05" cy="629.57" rx="10.39" ry="9.01" transform="rotate(31 403.05 629.57)"/><ellipse cx="329.5" cy="599.22" rx="10.41" ry="9.36" transform="rotate(48 329.5 599.22)"/><ellipse cx="311.35" cy="609.59" rx="10.64" ry="9.25" transform="rotate(79 311.35 609.59)"/><ellipse cx="397.85" cy="649.44" rx="10.06" ry="9.41" transform="rotate(160 397.85 649.44)"/><ellipse cx="341.42" cy="579.24" rx="10" ry="9.75" transform="rotate(53 341.42 579.24)"/><ellipse cx="303.12" cy="590.01" rx="10.51" ry="10.23" transform="rotate(143 303.12 590.01)"/><ellipse cx="386.42" cy="617.29" rx="10.56" ry="10.1" transform="rotate(173 386.42 617.29)"/><ellipse cx="418.75" cy="651.87" rx="10.16" ry="9.18" transform="rotate(15 418.75 651.87)"/><ellipse cx="414.94" cy="612.37" rx="10.31" ry="9.38" transform="rotate(11 414.94 612.37)"/><ellipse cx="423.7" cy="562.78" rx="10.6" ry="9.08" transform="rotate(58 423.7 562.78)"/><ellipse cx="297.01" cy="625.22" rx="10.58" ry="10.19" transform="rotate(109 297.01 625.22)"/><ellipse cx="321.11" cy="580.99" rx="10.66" ry="9.7" transform="rotate(57 321.11 580.99)"/><ellipse cx="402.88" cy="669.77" rx="10.42" ry="9.4" transform="rotate(63 402.88 669.77)"/><ellipse cx="370.87" cy="563.81" rx="10.58" ry="10.49" transform="rotate(89 370.87 563.81)"/><ellipse cx="363.97" cy="544.43" rx="10.42" ry="10.28" transform="rotate(108 363.97 544.43)"/><ellipse cx="393.1" cy="529.67" rx="10.02" ry="9.15" transform="rotate(101 393.1 529.67)"/><ellipse cx="350.46" cy="560.52" rx="10.54" ry="8.87" transform="rotate(114 350.46 560.52)"/><ellipse cx="339.03" cy="699.15" rx="10.42" ry="10.17" transform="rotate(176 339.03 699.15)"/><ellipse cx="412.35" cy="536.86" rx="10.22" ry="9.62" transform="rotate(111 412.35 536.86)"/><ellipse cx="329.06" cy="672.31" rx="10.19" ry="9.48" transform="rotate(73 329.06 672.31)"/><ellipse cx="336.46" cy="545.38" rx="10.4" ry="10.36" transform="rotate(14 336.46 545.38)"/><ellipse cx="323.88" cy="561.19" rx="10.43" ry="9.61" transform="rotate(32 323.88 561.19)"/><ellipse cx="300.54" cy="645.39" rx="10.15" ry="8.66" transform="rotate(126 300.54 645.39)"/><ellipse cx="303.82" cy="700.69" rx="10.02" ry="9.72" transform="rotate(167 303.82 700.69)"/><ellipse cx="356.39" cy="709.82" rx="10.49" ry="10.43" transform="rotate(76 356.39 709.82)"/><ellipse cx="304.46" cy="569.15" rx="10.03" ry="8.44" transform="rotate(61 304.46 569.15)"/><ellipse cx="315.56" cy="542.43" rx="10.51" ry="10.34" transform="rotate(158 315.56 542.43)"/><ellipse cx="287.64" cy="661.93" rx="10.61" ry="9.11" transform="rotate(140 287.64 661.93)"/><ellipse cx="281.6" cy="640.15" rx="10.64" ry="9.69" transform="rotate(113 281.6 640.15)"/><ellipse cx="349.37" cy="529.82" rx="10.34" ry="9.02" transform="rotate(9 349.37 529.82)"/><ellipse cx="321.83" cy="711.29" rx="10.37" ry="10.3" transform="rotate(72 321.83 711.29)"/><ellipse cx="423.7" cy="520.97" rx="10.54" ry="10.21" transform="rotate(51 423.7 520.97)"/><ellipse cx="262.6" cy="582.57" rx="10.7" ry="9.9" transform="rotate(114 262.6 582.57)"/><ellipse cx="303.54" cy="721.74" rx="10.69" ry="9.07" transform="rotate(114 303.54 721.74)"/><ellipse cx="350.57" cy="681.79" rx="10.02" ry="9.26" transform="rotate(134 350.57 681.79)"/><ellipse cx="375.32" cy="700.93" rx="10.48" ry="9" transform="rotate(125 375.32 700.93)"/><ellipse cx="327.94" cy="526.57" rx="10" ry="9.61" transform="rotate(158 327.94 526.57)"/><ellipse cx="290.56" cy="605.97" rx="10.53" ry="10.02" transform="rotate(124 290.56 605.97)"/><ellipse cx="307.42" cy="523.1" rx="10.4" ry="9.39" transform="rotate(76 307.42 523.1)"/><ellipse cx="340.26" cy="511.24" rx="10.15" ry="9.71" transform="rotate(175 340.26 511.24)"/><ellipse cx="422.86" cy="696.06" rx="10" ry="9.32" transform="rotate(25 422.86 696.06)"/><ellipse cx="306.38" cy="675.04" rx="10.23" ry="9.2" transform="rotate(89 306.38 675.04)"/><ellipse cx="373.42" cy="526.13" rx="10.66" ry="9.08" transform="rotate(125 373.42 526.13)"/><ellipse cx="373.77" cy="499.31" rx="10.34" ry="9.03" transform="rotate(99 373.77 499.31)"/><ellipse cx="261.54" cy="635.17" rx="10.57" ry="9.79" transform="rotate(66 261.54 635.17)"/><ellipse cx="355.14" cy="492.09" rx="10.62" ry="9.81" transform="rotate(90 355.14 492.09)"/><ellipse cx="391.12" cy="687.04" rx="10.16" ry="9.74" transform="rotate(156 391.12 687.04)"/><ellipse cx="267.88" cy="654.91" rx="10.01" ry="9.94" transform="rotate(172 267.88 654.91)"/><ellipse cx="320.41" cy="506.96" rx="10.23" ry="8.69" transform="rotate(106 320.41 506.96)"/><ellipse cx="288.65" cy="531.28" rx="10.12" ry="8.55" transform="rotate(117 288.65 531.28)"/><ellipse cx="372.71" cy="722.3" rx="10.64" ry="9.04" transform="rotate(171 372.71 722.3)"/><ellipse cx="372.9" cy="479.28" rx="10.15" ry="9.5" transform="rotate(52 372.9 479.28)"/><ellipse cx="392.41" cy="500.76" rx="10.62" ry="9.09" transform="rotate(70 392.41 500.76)"/><ellipse cx="343.06" cy="457.25" rx="10.17" ry="9.53" transform="rotate(145 343.06 457.25)"/><ellipse cx="392" cy="474.44" rx="10.1" ry="9.11" transform="rotate(9 392 474.44)"/><ellipse cx="339.54" cy="722.3" rx="10.28" ry="10" transform="rotate(135 339.54 722.3)"/><ellipse cx="422.47" cy="472.99" rx="10.62" ry="10.57" transform="rotate(33 422.47 472.99)"/><ellipse cx="371.3" cy="680.23" rx="10.03" ry="9.4" transform="rotate(3 371.3 680.23)"/><ellipse cx="282.43" cy="722.3" rx="10.21" ry="9.01" transform="rotate(108 282.43 722.3)"/><ellipse cx="244.39" cy="646.27" rx="10.46" ry="9.48" transform="rotate(65 244.39 646.27)"/><ellipse cx="423.7" cy="500.25" rx="10.52" ry="9.85" transform="rotate(74 423.7 500.25)"/><ellipse cx="276.67" cy="547.64" rx="10.42" ry="10.07" transform="rotate(63 276.67 547.64)"/><ellipse cx="252.36" cy="617.01" rx="10.07" ry="9.45" transform="rotate(120 252.36 617.01)"/><ellipse cx="233.15" cy="629.82" rx="10.27" ry="9.87" transform="rotate(159 233.15 629.82)"/><ellipse cx="284.15" cy="702.82" rx="10.03" ry="8.87" transform="rotate(95 284.15 702.82)"/><ellipse cx="403.41" cy="703.99" rx="10.11" ry="8.88" transform="rotate(175 403.41 703.99)"/><ellipse cx="393.55" cy="722.3" rx="10.6" ry="9.51" transform="rotate(108 393.55 722.3)"/><ellipse cx="320.72" cy="690.3" rx="10.53" ry="10.14" transform="rotate(63 320.72 690.3)"/><ellipse cx="335.3" cy="492.46" rx="10.63" ry="10.44" transform="rotate(4 335.3 492.46)"/><ellipse cx="265.55" cy="695.96" rx="10.52" ry="10.4" transform="rotate(67 265.55 695.96)"/><ellipse cx="263.6" cy="563.01" rx="10.2" ry="8.88" transform="rotate(35 263.6 563.01)"/><ellipse cx="247.93" cy="685.14" rx="10.16" ry="9.12" transform="rotate(139 247.93 685.14)"/><ellipse cx="281.85" cy="512.29" rx="10.32" ry="9.41" transform="rotate(18 281.85 512.29)"/><ellipse cx="283.23" cy="491.98" rx="10.1" ry="9" transform="rotate(159 283.23 491.98)"/><ellipse cx="244.08" cy="572.18" rx="10.24" ry="9.2" transform="rotate(179 244.08 572.18)"/><ellipse cx="248.73" cy="596.82" rx="10.46" ry="9.33" transform="rotate(142 248.73 596.82)"/><ellipse cx="423.7" cy="631.44" rx="10.39" ry="9.74" transform="rotate(149 423.7 631.44)"/><ellipse cx="287.38" cy="682.8" rx="10.42" ry="10.3" transform="rotate(125 287.38 682.8)"/><ellipse cx="232.82" cy="609.61" rx="10.39" ry="9.85" transform="rotate(165 232.82 609.61)"/><ellipse cx="261.4" cy="721.71" rx="10.34" ry="9.93" transform="rotate(109 261.4 721.71)"/><ellipse cx="260.98" cy="535.19" rx="10.55" ry="10.1" transform="rotate(10 260.98 535.19)"/><ellipse cx="406.09" cy="514.16" rx="10.56" ry="10.55" transform="rotate(0 406.09 514.16)"/><ellipse cx="230.27" cy="589.07" rx="10.4" ry="9.37" transform="rotate(115 230.27 589.07)"/><ellipse cx="209.78" cy="586.65" rx="10.17" ry="8.65" transform="rotate(87 209.78 586.65)"/><ellipse cx="354.67" cy="472.1" rx="10.31" ry="8.86" transform="rotate(176 354.67 472.1)"/><ellipse cx="248.43" cy="550.32" rx="10.4" ry="9.76" transform="rotate(149 248.43 550.32)"/><ellipse cx="419.3" cy="718.44" rx="10.25" ry="8.89" transform="rotate(122 419.3 718.44)"/><ellipse cx="268.23" cy="675.57" rx="10.32" ry="8.99" transform="rotate(65 268.23 675.57)"/><ellipse cx="261.93" cy="515.89" rx="10.39" ry="9.35" transform="rotate(87 261.93 515.89)"/><ellipse cx="229.59" cy="694.83" rx="10.44" ry="9.81" transform="rotate(25 229.59 694.83)"/><ellipse cx="296.88" cy="550.23" rx="10.28" ry="9.57" transform="rotate(103 296.88 550.23)"/><ellipse cx="332.34" cy="473.2" rx="10.53" ry="10.03" transform="rotate(61 332.34 473.2)"/><ellipse cx="236.49" cy="722.3" rx="10.34" ry="9.04" transform="rotate(38 236.49 722.3)"/><ellipse cx="300.47" cy="503.23" rx="10.2" ry="8.57" transform="rotate(127 300.47 503.23)"/><ellipse cx="212.96" cy="626.64" rx="10.23" ry="10.17" transform="rotate(59 212.96 626.64)"/><ellipse cx="198.91" cy="657.86" rx="10.59" ry="10.56" transform="rotate(52 198.91 657.86)"/><ellipse cx="365.03" cy="441.61" rx="10.63" ry="8.99" transform="rotate(17 365.03 441.61)"/><ellipse cx="229.3" cy="532.38" rx="10.19" ry="9.64" transform="rotate(125 229.3 532.38)"/><ellipse cx="405.76" cy="460.04" rx="10.61" ry="10.04" transform="rotate(99 405.76 460.04)"/><ellipse cx="222.04" cy="570.7" rx="10.38" ry="9.18" transform="rotate(113 222.04 570.7)"/><ellipse cx="298.74" cy="478.17" rx="10.14" ry="8.73" transform="rotate(24 298.74 478.17)"/><ellipse cx="208.67" cy="694.02" rx="10.64" ry="9.02" transform="rotate(96 208.67 694.02)"/><ellipse cx="423.7" cy="672.39" rx="10.05" ry="9.7" transform="rotate(56 423.7 672.39)"/><ellipse cx="251.02" cy="467.66" rx="10.2" ry="9.21" transform="rotate(73 251.02 467.66)"/><ellipse cx="359.43" cy="512.21" rx="10.34" ry="8.95" transform="rotate(161 359.43 512.21)"/><ellipse cx="316.18" cy="656.92" rx="10.17" ry="9.26" transform="rotate(178 316.18 656.92)"/><ellipse cx="280.27" cy="471.49" rx="10.27" ry="8.91" transform="rotate(145 280.27 471.49)"/><ellipse cx="377.25" cy="458.78" rx="10.53" ry="9.96" transform="rotate(102 377.25 458.78)"/><ellipse cx="385.62" cy="439.5" rx="10.15" ry="9.39" transform="rotate(98 385.62 439.5)"/><ellipse cx="344.6" cy="439.5" rx="10.43" ry="9.48" transform="rotate(67 344.6 439.5)"/><ellipse cx="229.53" cy="552.83" rx="10.37" ry="9.59" transform="rotate(156 229.53 552.83)"/><ellipse cx="250.59" cy="665.37" rx="10.07" ry="9.67" transform="rotate(178 250.59 665.37)"/><ellipse cx="218.2" cy="712.62" rx="10.47" ry="9.95" transform="rotate(145 218.2 712.62)"/><ellipse cx="423.7" cy="450.41" rx="10.3" ry="9.88" transform="rotate(25 423.7 450.41)"/><ellipse cx="406.28" cy="439.5" rx="10.56" ry="9.57" transform="rotate(158 406.28 439.5)"/><ellipse cx="325.17" cy="446.67" rx="10.07" ry="8.7" transform="rotate(108 325.17 446.67)"/><ellipse cx="194.84" cy="616.3" rx="10.26" ry="10.05" transform="rotate(179 194.84 616.3)"/><ellipse cx="195.41" cy="637.16" rx="10.13" ry="8.52" transform="rotate(80 195.41 637.16)"/><ellipse cx="314.21" cy="464.34" rx="10.69" ry="10.67" transform="rotate(46 314.21 464.34)"/><ellipse cx="173.96" cy="719.46" rx="10.44" ry="10.16" transform="rotate(8 173.96 719.46)"/><ellipse cx="407.71" cy="487.58" rx="10.63" ry="9.49" transform="rotate(127 407.71 487.58)"/><ellipse cx="212.75" cy="606.32" rx="10.39" ry="10.18" transform="rotate(93 212.75 606.32)"/><ellipse cx="211.79" cy="544.32" rx="10.5" ry="9.13" transform="rotate(29 211.79 544.32)"/><ellipse cx="202.76" cy="563.08" rx="10.25" ry="8.68" transform="rotate(44 202.76 563.08)"/><ellipse cx="271.04" cy="454.05" rx="10.29" ry="9.35" transform="rotate(151 271.04 454.05)"/><ellipse cx="219.76" cy="513.82" rx="10.39" ry="10.05" transform="rotate(45 219.76 513.82)"/><ellipse cx="384.71" cy="548.39" rx="10.68" ry="10.05" transform="rotate(49 384.71 548.39)"/><ellipse cx="202.71" cy="526.29" rx="10.05" ry="8.69" transform="rotate(12 202.71 526.29)"/><ellipse cx="194.4" cy="678.39" rx="10.37" ry="10.05" transform="rotate(104 194.4 678.39)"/><ellipse cx="295.05" cy="457.39" rx="10.03" ry="8.85" transform="rotate(4 295.05 457.39)"/><ellipse cx="175.4" cy="686.67" rx="10.09" ry="9.34" transform="rotate(151 175.4 686.67)"/><ellipse cx="177.13" cy="646.08" rx="10.23" ry="9.18" transform="rotate(66 177.13 646.08)"/><ellipse cx="183.08" cy="599.21" rx="10.6" ry="9.73" transform="rotate(154 183.08 599.21)"/><ellipse cx="174.41" cy="618.3" rx="10.12" ry="9.92" transform="rotate(19 174.41 618.3)"/><ellipse cx="182" cy="562.11" rx="10.5" ry="10.26" transform="rotate(35 182 562.11)"/><ellipse cx="149.46" cy="579.53" rx="10.15" ry="9.4" transform="rotate(173 149.46 579.53)"/><ellipse cx="232.73" cy="451.37" rx="10.67" ry="10.11" transform="rotate(18 232.73 451.37)"/><ellipse cx="156.44" cy="677.36" rx="10.34" ry="9.09" transform="rotate(88 156.44 677.36)"/><ellipse cx="316.34" cy="486.55" rx="10.47" ry="9.22" transform="rotate(82 316.34 486.55)"/><ellipse cx="161.95" cy="702.08" rx="10.15" ry="8.89" transform="rotate(159 161.95 702.08)"/><ellipse cx="190.95" cy="580.34" rx="10.52" ry="9.81" transform="rotate(163 190.95 580.34)"/><ellipse cx="215.41" cy="493.36" rx="10.68" ry="9.34" transform="rotate(94 215.41 493.36)"/><ellipse cx="142.69" cy="693.46" rx="10.28" ry="9.63" transform="rotate(91 142.69 693.46)"/><ellipse cx="175.24" cy="666.32" rx="10.03" ry="9.7" transform="rotate(88 175.24 666.32)"/><ellipse cx="200.08" cy="506.21" rx="10.07" ry="9.07" transform="rotate(7 200.08 506.21)"/><ellipse cx="160.99" cy="633.63" rx="10.3" ry="9.51" transform="rotate(30 160.99 633.63)"/><ellipse cx="214.6" cy="674.12" rx="10.32" ry="9.66" transform="rotate(70 214.6 674.12)"/><ellipse cx="162.52" cy="601.22" rx="10.3" ry="9.83" transform="rotate(8 162.52 601.22)"/><ellipse cx="142.3" cy="558.44" rx="10.38" ry="9.22" transform="rotate(146 142.3 558.44)"/><ellipse cx="285.09" cy="439.5" rx="10.15" ry="8.83" transform="rotate(47 285.09 439.5)"/><ellipse cx="247.7" cy="705.68" rx="10.49" ry="10.25" transform="rotate(116 247.7 705.68)"/><ellipse cx="252.47" cy="446.42" rx="10.54" ry="10.52" transform="rotate(74 252.47 446.42)"/><ellipse cx="170.43" cy="543.21" rx="10.41" ry="9.54" transform="rotate(49 170.43 543.21)"/><ellipse cx="180.08" cy="504.3" rx="10.25" ry="9.32" transform="rotate(152 180.08 504.3)"/><ellipse cx="202.78" cy="477.73" rx="10.62" ry="9.89" transform="rotate(96 202.78 477.73)"/><ellipse cx="170.36" cy="581.76" rx="10.41" ry="9.88" transform="rotate(147 170.36 581.76)"/><ellipse cx="144.99" cy="620.11" rx="10.4" ry="9.22" transform="rotate(89 144.99 620.11)"/><ellipse cx="164.76" cy="490.35" rx="10.22" ry="9.63" transform="rotate(11 164.76 490.35)"/><ellipse cx="142.3" cy="599.25" rx="10.02" ry="8.96" transform="rotate(15 142.3 599.25)"/><ellipse cx="156.78" cy="656.27" rx="10.01" ry="9.83" transform="rotate(160 156.78 656.27)"/><ellipse cx="149.95" cy="538.98" rx="10.54" ry="9.05" transform="rotate(98 149.95 538.98)"/><ellipse cx="142.3" cy="641.28" rx="10.01" ry="8.53" transform="rotate(63 142.3 641.28)"/><ellipse cx="161.91" cy="562.54" rx="10.01" ry="9.71" transform="rotate(151 161.91 562.54)"/><ellipse cx="182.07" cy="478.59" rx="10.24" ry="9.27" transform="rotate(37 182.07 478.59)"/><ellipse cx="165.54" cy="465.53" rx="10.01" ry="9.02" transform="rotate(48 165.54 465.53)"/><ellipse cx="213.36" cy="459.91" rx="10.57" ry="9.18" transform="rotate(162 213.36 459.91)"/><ellipse cx="175.7" cy="446.98" rx="10.66" ry="9.65" transform="rotate(54 175.7 446.98)"/><ellipse cx="160.78" cy="511.06" rx="10.23" ry="9.09" transform="rotate(120 160.78 511.06)"/><ellipse cx="142.3" cy="519.63" rx="10.58" ry="9.32" transform="rotate(163 142.3 519.63)"/><ellipse cx="192.17" cy="460.03" rx="10.4" ry="9.28" transform="rotate(57 192.17 460.03)"/><ellipse cx="142.3" cy="457.76" rx="10.32" ry="8.85" transform="rotate(112 142.3 457.76)"/><ellipse cx="216.08" cy="439.5" rx="10.2" ry="9.59" transform="rotate(14 216.08 439.5)"/><ellipse cx="148" cy="478.01" rx="10.51" ry="9.73" transform="rotate(152 148 478.01)"/><ellipse cx="195.29" cy="439.5" rx="10.05" ry="9.6" transform="rotate(140 195.29 439.5)"/><ellipse cx="149.47" cy="718.77" rx="10.42" ry="10.15" transform="rotate(77 149.47 718.77)"/><ellipse cx="305.9" cy="439.5" rx="10.6" ry="9.62" transform="rotate(137 305.9 439.5)"/><ellipse cx="142.3" cy="498.43" rx="10.66" ry="10.47" transform="rotate(143 142.3 498.43)"/><ellipse cx="155.53" cy="441.05" rx="10.35" ry="9.63" transform="rotate(2 155.53 441.05)"/></g>
<g fill="none" stroke-linecap="round" stroke-linejoin="round" filter="url(#bl07)"><path d="M379.19 660.85Q364.02 652.23 348.64 659.98M319.08 633.92L330.62 643.49M410.75 581.43L421.76 591.65M197.42 717.98L190.61 704.42M269.66 605.15L275.4 618.45M282.82 584.09L283.81 569.42M231.12 474.86L234.42 489.24M262.85 485.5Q253.12 498.69 242.64 512.71M402.65 557Q390.68 568.5 383.57 583.67M183.08 528.06L190.06 541.48M218.91 649.13L228.97 660.05" stroke="#9a4650" stroke-width="18.1"/><path d="M379.19 660.85Q364.02 652.23 348.64 659.98M319.08 633.92L330.62 643.49M410.75 581.43L421.76 591.65M197.42 717.98L190.61 704.42M269.66 605.15L275.4 618.45M282.82 584.09L283.81 569.42M231.12 474.86L234.42 489.24M262.85 485.5Q253.12 498.69 242.64 512.71M402.65 557Q390.68 568.5 383.57 583.67M183.08 528.06L190.06 541.48M218.91 649.13L228.97 660.05" stroke="#bb6c66" stroke-width="16.56"/><path d="M379.19 660.85Q364.02 652.23 348.64 659.98M319.08 633.92L330.62 643.49M410.75 581.43L421.76 591.65M197.42 717.98L190.61 704.42M269.66 605.15L275.4 618.45M282.82 584.09L283.81 569.42M231.12 474.86L234.42 489.24M262.85 485.5Q253.12 498.69 242.64 512.71M402.65 557Q390.68 568.5 383.57 583.67M183.08 528.06L190.06 541.48M218.91 649.13L228.97 660.05" stroke="#d9a088" stroke-width="14.63"/><path d="M379.19 660.85Q364.02 652.23 348.64 659.98M319.08 633.92L330.62 643.49M410.75 581.43L421.76 591.65M197.42 717.98L190.61 704.42M269.66 605.15L275.4 618.45M282.82 584.09L283.81 569.42M231.12 474.86L234.42 489.24M262.85 485.5Q253.12 498.69 242.64 512.71M402.65 557Q390.68 568.5 383.57 583.67M183.08 528.06L190.06 541.48M218.91 649.13L228.97 660.05" stroke="#e8d6b6" stroke-width="12.71"/><path d="M379.19 660.85Q364.02 652.23 348.64 659.98M319.08 633.92L330.62 643.49M410.75 581.43L421.76 591.65M197.42 717.98L190.61 704.42M269.66 605.15L275.4 618.45M282.82 584.09L283.81 569.42M231.12 474.86L234.42 489.24M262.85 485.5Q253.12 498.69 242.64 512.71M402.65 557Q390.68 568.5 383.57 583.67M183.08 528.06L190.06 541.48M218.91 649.13L228.97 660.05" stroke="#e2e2d2" stroke-width="10.97"/><path d="M379.19 660.85Q364.02 652.23 348.64 659.98M319.08 633.92L330.62 643.49M410.75 581.43L421.76 591.65M197.42 717.98L190.61 704.42M269.66 605.15L275.4 618.45M282.82 584.09L283.81 569.42M231.12 474.86L234.42 489.24M262.85 485.5Q253.12 498.69 242.64 512.71M402.65 557Q390.68 568.5 383.57 583.67M183.08 528.06L190.06 541.48M218.91 649.13L228.97 660.05" stroke="#bcd6dc" stroke-width="9.24"/><path d="M379.19 660.85Q364.02 652.23 348.64 659.98M319.08 633.92L330.62 643.49M410.75 581.43L421.76 591.65M197.42 717.98L190.61 704.42M269.66 605.15L275.4 618.45M282.82 584.09L283.81 569.42M231.12 474.86L234.42 489.24M262.85 485.5Q253.12 498.69 242.64 512.71M402.65 557Q390.68 568.5 383.57 583.67M183.08 528.06L190.06 541.48M218.91 649.13L228.97 660.05" stroke="#5f9ac8" stroke-width="6.93"/><path d="M379.19 660.85Q364.02 652.23 348.64 659.98M319.08 633.92L330.62 643.49M410.75 581.43L421.76 591.65M197.42 717.98L190.61 704.42M269.66 605.15L275.4 618.45M282.82 584.09L283.81 569.42M231.12 474.86L234.42 489.24M262.85 485.5Q253.12 498.69 242.64 512.71M402.65 557Q390.68 568.5 383.57 583.67M183.08 528.06L190.06 541.48M218.91 649.13L228.97 660.05" stroke="#3468a8" stroke-width="3.47"/></g>
</g>
<rect x="151.1" y="448.3" width="43.6" height="45" fill="#fff"/>
<rect x="147.5" y="445.6" width="270.1" height="271.6" fill="none" stroke="#262626" stroke-width="1.35"/>
<path d="M147.5 499.6h5M147.5 571.6h5M147.5 642.7h5M147.5 713.3h5" stroke="#262626" stroke-width="1.3"/>
<path d="M150.3 717.2v-5M222.2 717.2v-5M292.5 717.2v-5M365.9 717.2v-5" stroke="#262626" stroke-width="1.3"/>
<text x="104.67" y="507.94" font-size="23.5" textLength="30.1" lengthAdjust="spacingAndGlyphs">1.5</text>
<text x="102.22" y="579.94" font-size="23.5" textLength="32.62" lengthAdjust="spacingAndGlyphs">1.0</text>
<text x="100.72" y="651.04" font-size="23.5" textLength="34.17" lengthAdjust="spacingAndGlyphs">0.5</text>
<text x="120.36" y="721.64" font-size="23.5" textLength="14.48" lengthAdjust="spacingAndGlyphs">0</text>
<g transform="translate(162.3 743.9) rotate(-45)"><text x="-14.06" y="0" font-size="24.4" textLength="15.04" lengthAdjust="spacingAndGlyphs">0</text></g>
<g transform="translate(234.2 743.9) rotate(-45)"><text x="-34.45" y="0" font-size="24.4" textLength="35.47" lengthAdjust="spacingAndGlyphs">0.5</text></g>
<g transform="translate(304.5 743.9) rotate(-45)"><text x="-32.89" y="0" font-size="24.4" textLength="33.86" lengthAdjust="spacingAndGlyphs">1.0</text></g>
<g transform="translate(377.9 743.9) rotate(-45)"><text x="-30.35" y="0" font-size="24.4" textLength="31.25" lengthAdjust="spacingAndGlyphs">1.5</text></g>
<text x="159.04" y="479.7" font-size="38" textLength="28.34" lengthAdjust="spacingAndGlyphs" font-weight="bold" stroke="#000" stroke-width="1.1">g</text>
<path d="M617 453.2H835.2V712.5H574V494.8H617Z" fill="#3e5994"/>
<ellipse cx="735.06" cy="565.3" rx="7.3" ry="7.3" fill="url(#spR)"/>
<ellipse cx="707" cy="549.1" rx="7.8" ry="6.3" fill="url(#spY)"/>
<ellipse cx="678.94" cy="565.3" rx="7.3" ry="7.3" fill="url(#spR)"/>
<ellipse cx="678.94" cy="597.7" rx="7.3" ry="7.3" fill="url(#spR)"/>
<ellipse cx="707" cy="613.9" rx="7.8" ry="6.3" fill="url(#spY)"/>
<ellipse cx="735.06" cy="597.7" rx="7.3" ry="7.3" fill="url(#spR)"/>
<rect x="572.8" y="452" width="44.2" height="42.8" fill="#fff"/>
<rect x="567.8" y="447.6" width="272" height="272.8" fill="none" stroke="#262626" stroke-width="1.35"/>
<path d="M567.8 464h5M567.8 524h5M567.8 584h5M567.8 643.3h5M567.8 702.7h5" stroke="#262626" stroke-width="1.3"/>
<path d="M584.3 720.4v-5M644.6 720.4v-5M703.4 720.4v-5M763.5 720.4v-5M823.3 720.4v-5" stroke="#262626" stroke-width="1.3"/>
<text x="503.97" y="472.34" font-size="23.5" textLength="50.33" lengthAdjust="spacingAndGlyphs">0.02</text>
<text x="507.34" y="532.34" font-size="23.5" textLength="46.87" lengthAdjust="spacingAndGlyphs">0.01</text>
<text x="539.56" y="592.34" font-size="23.5" textLength="14.48" lengthAdjust="spacingAndGlyphs">0</text>
<text x="495.23" y="651.64" font-size="23.5" textLength="59.04" lengthAdjust="spacingAndGlyphs">−0.01</text>
<text x="491.76" y="711.04" font-size="23.5" textLength="62.58" lengthAdjust="spacingAndGlyphs">−0.02</text>
<g transform="translate(596.5 742.1) rotate(-45)"><text x="-59.77" y="0" font-size="22.9" textLength="60.98" lengthAdjust="spacingAndGlyphs">−0.02</text></g>
<g transform="translate(656.8 742.1) rotate(-45)"><text x="-56.39" y="0" font-size="22.9" textLength="57.53" lengthAdjust="spacingAndGlyphs">−0.01</text></g>
<g transform="translate(715.6 742.1) rotate(-45)"><text x="-13.2" y="0" font-size="22.9" textLength="14.11" lengthAdjust="spacingAndGlyphs">0</text></g>
<g transform="translate(775.7 742.1) rotate(-45)"><text x="-44.6" y="0" font-size="22.9" textLength="45.68" lengthAdjust="spacingAndGlyphs">0.01</text></g>
<g transform="translate(835.5 742.1) rotate(-45)"><text x="-47.88" y="0" font-size="22.9" textLength="49.04" lengthAdjust="spacingAndGlyphs">0.02</text></g>
<text x="581.36" y="485" font-size="39.5" textLength="30.92" lengthAdjust="spacingAndGlyphs" font-weight="bold" stroke="#000" stroke-width="1.1">h</text>
<rect x="872.7" y="447.6" width="272.1" height="273" fill="url(#nti)"/>
<circle cx="1011.8" cy="586" r="22.5" fill="#fff"/>
<path fill="#f9d2c2" d="M881.7 448.6h1.5v1.5h-1.5zm88 2h1.5v1.5h-1.5zm34 4h1.5v1.5h-1.5zm88 0h1.5v1.5h-1.5zm-156 4h1.5v1.5h-1.5zm62 2h1.5v1.5h-1.5zm18 0h1.5v1.5h-1.5zm80 2h1.5v1.5h-1.5zm-34 6h1.5v1.5h-1.5zm-118 2h1.5v1.5h-1.5zm82 2h1.5v1.5h-1.5zm48 2h1.5v1.5h-1.5zm22 0h1.5v1.5h-1.5zm-54 4h1.5v1.5h-1.5zm-100 6h1.5v1.5h-1.5zm8 0h1.5v1.5h-1.5zm14 0h1.5v1.5h-1.5zm40 2h1.5v1.5h-1.5zm82 0h1.5v1.5h-1.5zm-170 4h1.5v1.5h-1.5zm132 0h1.5v1.5h-1.5zm28 0h1.5v1.5h-1.5zm58 2h1.5v1.5h-1.5zm-106 2h1.5v1.5h-1.5zm-58 2h1.5v1.5h-1.5zm16 0h1.5v1.5h-1.5zm38 0h1.5v1.5h-1.5zm-78 2h1.5v1.5h-1.5zm54 0h1.5v1.5h-1.5zm64 0h1.5v1.5h-1.5zm40 0h1.5v1.5h-1.5zm-142 2h1.5v1.5h-1.5zm6 0h1.5v1.5h-1.5zm48 0h1.5v1.5h-1.5zm-28 2h1.5v1.5h-1.5zm-66 2h1.5v1.5h-1.5zm52 0h1.5v1.5h-1.5zm64 0h1.5v1.5h-1.5zm-80 2h1.5v1.5h-1.5zm70 0h1.5v1.5h-1.5zm2 2h1.5v1.5h-1.5zm24 0h1.5v1.5h-1.5zm-46 4h1.5v1.5h-1.5zm94 0h1.5v1.5h-1.5zm6 0h1.5v1.5h-1.5zm-112 2h1.5v1.5h-1.5zm-78 2h1.5v1.5h-1.5zm12 0h1.5v1.5h-1.5zm14 0h1.5v1.5h-1.5zm100 0h1.5v1.5h-1.5zm28 0h1.5v1.5h-1.5zm52 0h1.5v1.5h-1.5zm-154 2h1.5v1.5h-1.5zm4 0h1.5v1.5h-1.5zm-8 2h1.5v1.5h-1.5zm94 0h1.5v1.5h-1.5zm-168 2h1.5v1.5h-1.5zm48 0h1.5v1.5h-1.5zm100 0h1.5v1.5h-1.5zm42 0h1.5v1.5h-1.5zm14 0h1.5v1.5h-1.5zm-86 2h1.5v1.5h-1.5zm6 0h1.5v1.5h-1.5zm6 0h1.5v1.5h-1.5zm112 0h1.5v1.5h-1.5zm-218 2h1.5v1.5h-1.5zm226 0h1.5v1.5h-1.5zm-130 2h1.5v1.5h-1.5zm-94 2h1.5v1.5h-1.5zm66 0h1.5v1.5h-1.5zm8 0h1.5v1.5h-1.5zm72 0h1.5v1.5h-1.5zm10 0h1.5v1.5h-1.5zm18 0h1.5v1.5h-1.5zm-162 2h1.5v1.5h-1.5zm42 0h1.5v1.5h-1.5zm20 0h1.5v1.5h-1.5zm46 0h1.5v1.5h-1.5zm16 0h1.5v1.5h-1.5zm4 0h1.5v1.5h-1.5zm2 0h1.5v1.5h-1.5zm12 0h1.5v1.5h-1.5zm-124 2h1.5v1.5h-1.5zm26 0h1.5v1.5h-1.5zm-60 2h1.5v1.5h-1.5zm40 0h1.5v1.5h-1.5zm56 0h1.5v1.5h-1.5zm10 0h1.5v1.5h-1.5zm6 0h1.5v1.5h-1.5zm60 0h1.5v1.5h-1.5zm20 0h1.5v1.5h-1.5zm26 0h1.5v1.5h-1.5zm-130 2h1.5v1.5h-1.5zm24 0h1.5v1.5h-1.5zm96 0h1.5v1.5h-1.5zm-226 2h1.5v1.5h-1.5zm46 0h1.5v1.5h-1.5zm40 0h1.5v1.5h-1.5zm30 0h1.5v1.5h-1.5zm12 0h1.5v1.5h-1.5zm42 0h1.5v1.5h-1.5zm76 0h1.5v1.5h-1.5zm-246 2h1.5v1.5h-1.5zm66 0h1.5v1.5h-1.5zm-74 2h1.5v1.5h-1.5zm92 0h1.5v1.5h-1.5zm6 0h1.5v1.5h-1.5zm32 0h1.5v1.5h-1.5zm40 0h1.5v1.5h-1.5zm18 0h1.5v1.5h-1.5zm-150 2h1.5v1.5h-1.5zm22 0h1.5v1.5h-1.5zm6 0h1.5v1.5h-1.5zm118 0h1.5v1.5h-1.5zm-116 2h1.5v1.5h-1.5zm28 0h1.5v1.5h-1.5zm4 0h1.5v1.5h-1.5zm24 0h1.5v1.5h-1.5zm2 0h1.5v1.5h-1.5zm14 0h1.5v1.5h-1.5zm26 0h1.5v1.5h-1.5zm2 0h1.5v1.5h-1.5zm12 0h1.5v1.5h-1.5zm2 0h1.5v1.5h-1.5zm-140 2h1.5v1.5h-1.5zm16 0h1.5v1.5h-1.5zm96 0h1.5v1.5h-1.5zm24 0h1.5v1.5h-1.5zm26 0h1.5v1.5h-1.5zm24 0h1.5v1.5h-1.5zm-144 2h1.5v1.5h-1.5zm18 0h1.5v1.5h-1.5zm68 0h1.5v1.5h-1.5zm-132 2h1.5v1.5h-1.5zm38 0h1.5v1.5h-1.5zm10 0h1.5v1.5h-1.5zm6 0h1.5v1.5h-1.5zm50 0h1.5v1.5h-1.5zm12 0h1.5v1.5h-1.5zm-116 2h1.5v1.5h-1.5zm54 0h1.5v1.5h-1.5zm16 0h1.5v1.5h-1.5zm2 0h1.5v1.5h-1.5zm32 0h1.5v1.5h-1.5zm60 0h1.5v1.5h-1.5zm-158 2h1.5v1.5h-1.5zm26 0h1.5v1.5h-1.5zm10 0h1.5v1.5h-1.5zm4 0h1.5v1.5h-1.5zm2 0h1.5v1.5h-1.5zm36 0h1.5v1.5h-1.5zm50 0h1.5v1.5h-1.5zm-142 2h1.5v1.5h-1.5zm44 0h1.5v1.5h-1.5zm56 0h1.5v1.5h-1.5zm24 0h1.5v1.5h-1.5zm-94 2h1.5v1.5h-1.5zm30 0h1.5v1.5h-1.5zm50 0h1.5v1.5h-1.5zm-102 2h1.5v1.5h-1.5zm48 0h1.5v1.5h-1.5zm14 0h1.5v1.5h-1.5zm2 0h1.5v1.5h-1.5zm46 0h1.5v1.5h-1.5zm10 0h1.5v1.5h-1.5zm-80 2h1.5v1.5h-1.5zm6 0h1.5v1.5h-1.5zm24 0h1.5v1.5h-1.5zm64 0h1.5v1.5h-1.5zm6 0h1.5v1.5h-1.5zm18 0h1.5v1.5h-1.5zm-194 2h1.5v1.5h-1.5zm12 0h1.5v1.5h-1.5zm48 0h1.5v1.5h-1.5zm18 0h1.5v1.5h-1.5zm14 0h1.5v1.5h-1.5zm2 0h1.5v1.5h-1.5zm150 0h1.5v1.5h-1.5zm-164 2h1.5v1.5h-1.5zm84 0h1.5v1.5h-1.5zm4 0h1.5v1.5h-1.5zm4 0h1.5v1.5h-1.5zm4 0h1.5v1.5h-1.5zm4 0h1.5v1.5h-1.5zm2 0h1.5v1.5h-1.5zm-196 2h1.5v1.5h-1.5zm66 0h1.5v1.5h-1.5zm38 0h1.5v1.5h-1.5zm120 0h1.5v1.5h-1.5zm-226 2h1.5v1.5h-1.5zm8 0h1.5v1.5h-1.5zm74 0h1.5v1.5h-1.5zm82 0h1.5v1.5h-1.5zm36 0h1.5v1.5h-1.5zm-114 2h1.5v1.5h-1.5zm24 0h1.5v1.5h-1.5zm52 0h1.5v1.5h-1.5zm-162 2h1.5v1.5h-1.5zm100 0h1.5v1.5h-1.5zm72 0h1.5v1.5h-1.5zm34 0h1.5v1.5h-1.5zm-44 2h1.5v1.5h-1.5zm32 0h1.5v1.5h-1.5zm8 0h1.5v1.5h-1.5zm8 0h1.5v1.5h-1.5zm8 0h1.5v1.5h-1.5zm-122 2h1.5v1.5h-1.5zm4 0h1.5v1.5h-1.5zm4 0h1.5v1.5h-1.5zm80 0h1.5v1.5h-1.5zm20 0h1.5v1.5h-1.5zm-96 2h1.5v1.5h-1.5zm6 0h1.5v1.5h-1.5zm50 0h1.5v1.5h-1.5zm18 0h1.5v1.5h-1.5zm24 0h1.5v1.5h-1.5zm-182 2h1.5v1.5h-1.5zm18 0h1.5v1.5h-1.5zm62 0h1.5v1.5h-1.5zm6 0h1.5v1.5h-1.5zm52 0h1.5v1.5h-1.5zm12 0h1.5v1.5h-1.5zm26 0h1.5v1.5h-1.5zm26 0h1.5v1.5h-1.5zm-182 4h1.5v1.5h-1.5zm14 0h1.5v1.5h-1.5zm114 0h1.5v1.5h-1.5zm6 0h1.5v1.5h-1.5zm10 0h1.5v1.5h-1.5zm-128 2h1.5v1.5h-1.5zm100 0h1.5v1.5h-1.5zm30 0h1.5v1.5h-1.5zm34 0h1.5v1.5h-1.5zm-126 2h1.5v1.5h-1.5zm4 0h1.5v1.5h-1.5zm60 0h1.5v1.5h-1.5zm18 0h1.5v1.5h-1.5zm2 0h1.5v1.5h-1.5zm22 0h1.5v1.5h-1.5zm26 0h1.5v1.5h-1.5zm-162 2h1.5v1.5h-1.5zm6 0h1.5v1.5h-1.5zm36 0h1.5v1.5h-1.5zm2 0h1.5v1.5h-1.5zm120 0h1.5v1.5h-1.5zm-220 2h1.5v1.5h-1.5zm32 0h1.5v1.5h-1.5zm12 0h1.5v1.5h-1.5zm48 0h1.5v1.5h-1.5zm4 0h1.5v1.5h-1.5zm72 0h1.5v1.5h-1.5zm-92 2h1.5v1.5h-1.5zm18 0h1.5v1.5h-1.5zm2 0h1.5v1.5h-1.5zm4 0h1.5v1.5h-1.5zm-68 2h1.5v1.5h-1.5zm30 0h1.5v1.5h-1.5zm2 0h1.5v1.5h-1.5zm4 0h1.5v1.5h-1.5zm20 0h1.5v1.5h-1.5zm16 0h1.5v1.5h-1.5zm58 0h1.5v1.5h-1.5zm20 0h1.5v1.5h-1.5zm36 0h1.5v1.5h-1.5zm-200 2h1.5v1.5h-1.5zm32 0h1.5v1.5h-1.5zm20 0h1.5v1.5h-1.5zm26 0h1.5v1.5h-1.5zm44 0h1.5v1.5h-1.5zm22 0h1.5v1.5h-1.5zm8 0h1.5v1.5h-1.5zm6 0h1.5v1.5h-1.5zm20 0h1.5v1.5h-1.5zm-108 2h1.5v1.5h-1.5zm2 0h1.5v1.5h-1.5zm20 0h1.5v1.5h-1.5zm42 0h1.5v1.5h-1.5zm4 0h1.5v1.5h-1.5zm-86 2h1.5v1.5h-1.5zm26 0h1.5v1.5h-1.5zm42 0h1.5v1.5h-1.5zm10 0h1.5v1.5h-1.5zm18 0h1.5v1.5h-1.5zm6 0h1.5v1.5h-1.5zm-94 2h1.5v1.5h-1.5zm18 0h1.5v1.5h-1.5zm32 0h1.5v1.5h-1.5zm70 0h1.5v1.5h-1.5zm14 0h1.5v1.5h-1.5zm-160 2h1.5v1.5h-1.5zm18 0h1.5v1.5h-1.5zm38 0h1.5v1.5h-1.5zm16 0h1.5v1.5h-1.5zm38 0h1.5v1.5h-1.5zm46 0h1.5v1.5h-1.5zm26 0h1.5v1.5h-1.5zm-132 2h1.5v1.5h-1.5zm54 0h1.5v1.5h-1.5zm18 0h1.5v1.5h-1.5zm20 0h1.5v1.5h-1.5zm-116 2h1.5v1.5h-1.5zm68 0h1.5v1.5h-1.5zm30 0h1.5v1.5h-1.5zm-132 2h1.5v1.5h-1.5zm26 0h1.5v1.5h-1.5zm28 0h1.5v1.5h-1.5zm66 0h1.5v1.5h-1.5zm8 0h1.5v1.5h-1.5zm-86 2h1.5v1.5h-1.5zm16 0h1.5v1.5h-1.5zm6 0h1.5v1.5h-1.5zm62 0h1.5v1.5h-1.5zm-86 2h1.5v1.5h-1.5zm64 0h1.5v1.5h-1.5zm48 0h1.5v1.5h-1.5zm56 0h1.5v1.5h-1.5zm-144 2h1.5v1.5h-1.5zm8 0h1.5v1.5h-1.5zm22 0h1.5v1.5h-1.5zm38 0h1.5v1.5h-1.5zm10 0h1.5v1.5h-1.5zm48 0h1.5v1.5h-1.5zm-184 2h1.5v1.5h-1.5zm14 0h1.5v1.5h-1.5zm26 0h1.5v1.5h-1.5zm4 0h1.5v1.5h-1.5zm78 0h1.5v1.5h-1.5zm-76 2h1.5v1.5h-1.5zm16 0h1.5v1.5h-1.5zm10 0h1.5v1.5h-1.5zm-64 2h1.5v1.5h-1.5zm34 0h1.5v1.5h-1.5zm104 0h1.5v1.5h-1.5zm2 0h1.5v1.5h-1.5zm32 0h1.5v1.5h-1.5zm-120 2h1.5v1.5h-1.5zm28 0h1.5v1.5h-1.5zm30 0h1.5v1.5h-1.5zm-88 2h1.5v1.5h-1.5zm30 0h1.5v1.5h-1.5zm40 0h1.5v1.5h-1.5zm-92 2h1.5v1.5h-1.5zm12 0h1.5v1.5h-1.5zm2 0h1.5v1.5h-1.5zm4 0h1.5v1.5h-1.5zm68 0h1.5v1.5h-1.5zm-10 2h1.5v1.5h-1.5zm-74 2h1.5v1.5h-1.5zm88 0h1.5v1.5h-1.5zm14 0h1.5v1.5h-1.5zm22 0h1.5v1.5h-1.5zm-102 2h1.5v1.5h-1.5zm4 0h1.5v1.5h-1.5zm38 0h1.5v1.5h-1.5zm-72 2h1.5v1.5h-1.5zm16 0h1.5v1.5h-1.5zm4 0h1.5v1.5h-1.5zm16 2h1.5v1.5h-1.5zm102 0h1.5v1.5h-1.5zm-76 2h1.5v1.5h-1.5zm6 0h1.5v1.5h-1.5zm48 0h1.5v1.5h-1.5zm-28 2h1.5v1.5h-1.5zm106 0h1.5v1.5h-1.5zm-150 2h1.5v1.5h-1.5zm-74 4h1.5v1.5h-1.5zm130 0h1.5v1.5h-1.5zm20 0h1.5v1.5h-1.5zm18 0h1.5v1.5h-1.5zm44 0h1.5v1.5h-1.5zm-56 2h1.5v1.5h-1.5zm-94 2h1.5v1.5h-1.5zm52 0h1.5v1.5h-1.5zm-100 2h1.5v1.5h-1.5zm114 0h1.5v1.5h-1.5zm-22 2h1.5v1.5h-1.5zm48 0h1.5v1.5h-1.5zm-94 2h1.5v1.5h-1.5zm50 0h1.5v1.5h-1.5zm2 0h1.5v1.5h-1.5zm94 0h1.5v1.5h-1.5zm-172 2h1.5v1.5h-1.5zm112 0h1.5v1.5h-1.5zm-22 2h1.5v1.5h-1.5zm-98 2h1.5v1.5h-1.5zm40 2h1.5v1.5h-1.5zm40 0h1.5v1.5h-1.5zm-138 2h1.5v1.5h-1.5zm38 0h1.5v1.5h-1.5zm84 0h1.5v1.5h-1.5zm28 0h1.5v1.5h-1.5zm32 2h1.5v1.5h-1.5zm-60 6h1.5v1.5h-1.5zm4 0h1.5v1.5h-1.5zm44 0h1.5v1.5h-1.5zm-68 2h1.5v1.5h-1.5zm-48 2h1.5v1.5h-1.5zm2 2h1.5v1.5h-1.5zm60 0h1.5v1.5h-1.5zm42 0h1.5v1.5h-1.5zm8 0h1.5v1.5h-1.5zm-4 2h1.5v1.5h-1.5zm-104 2h1.5v1.5h-1.5zm16 0h1.5v1.5h-1.5zm-74 4h1.5v1.5h-1.5zm152 0h1.5v1.5h-1.5zm10 0h1.5v1.5h-1.5zm-106 2h1.5v1.5h-1.5zm46 0h1.5v1.5h-1.5zm28 0h1.5v1.5h-1.5zm134 2h1.5v1.5h-1.5zm-106 6h1.5v1.5h-1.5zm74 0h1.5v1.5h-1.5zm-160 2h1.5v1.5h-1.5zm16 2h1.5v1.5h-1.5zm-44 2h1.5v1.5h-1.5z"/>
<path fill="#fbdcd0" d="M893.7 448.6h1.5v1.5h-1.5zm-4 2h1.5v1.5h-1.5zm-12 2h1.5v1.5h-1.5zm54 0h1.5v1.5h-1.5zm138 2h1.5v1.5h-1.5zm-18 2h1.5v1.5h-1.5zm-146 2h1.5v1.5h-1.5zm16 4h1.5v1.5h-1.5zm40 0h1.5v1.5h-1.5zm80 2h1.5v1.5h-1.5zm-114 2h1.5v1.5h-1.5zm78 0h1.5v1.5h-1.5zm-84 8h1.5v1.5h-1.5zm108 4h1.5v1.5h-1.5zm24 4h1.5v1.5h-1.5zm-92 2h1.5v1.5h-1.5zm10 0h1.5v1.5h-1.5zm78 0h1.5v1.5h-1.5zm28 0h1.5v1.5h-1.5zm-116 6h1.5v1.5h-1.5zm78 0h1.5v1.5h-1.5zm-6 4h1.5v1.5h-1.5zm-20 2h1.5v1.5h-1.5zm-26 2h1.5v1.5h-1.5zm80 4h1.5v1.5h-1.5zm14 0h1.5v1.5h-1.5zm-70 2h1.5v1.5h-1.5zm114 0h1.5v1.5h-1.5zm-178 2h1.5v1.5h-1.5zm52 0h1.5v1.5h-1.5zm-42 2h1.5v1.5h-1.5zm14 0h1.5v1.5h-1.5zm2 0h1.5v1.5h-1.5zm14 0h1.5v1.5h-1.5zm52 0h1.5v1.5h-1.5zm-112 4h1.5v1.5h-1.5zm18 0h1.5v1.5h-1.5zm30 0h1.5v1.5h-1.5zm102 0h1.5v1.5h-1.5zm-124 2h1.5v1.5h-1.5zm32 0h1.5v1.5h-1.5zm22 0h1.5v1.5h-1.5zm64 0h1.5v1.5h-1.5zm-122 2h1.5v1.5h-1.5zm128 0h1.5v1.5h-1.5zm-170 2h1.5v1.5h-1.5zm88 0h1.5v1.5h-1.5zm18 0h1.5v1.5h-1.5zm16 0h1.5v1.5h-1.5zm2 0h1.5v1.5h-1.5zm34 0h1.5v1.5h-1.5zm4 0h1.5v1.5h-1.5zm30 0h1.5v1.5h-1.5zm-148 2h1.5v1.5h-1.5zm24 0h1.5v1.5h-1.5zm46 0h1.5v1.5h-1.5zm34 0h1.5v1.5h-1.5zm-152 2h1.5v1.5h-1.5zm20 0h1.5v1.5h-1.5zm56 0h1.5v1.5h-1.5zm18 0h1.5v1.5h-1.5zm2 0h1.5v1.5h-1.5zm18 0h1.5v1.5h-1.5zm62 0h1.5v1.5h-1.5zm8 0h1.5v1.5h-1.5zm-96 2h1.5v1.5h-1.5zm4 0h1.5v1.5h-1.5zm34 0h1.5v1.5h-1.5zm-112 2h1.5v1.5h-1.5zm22 0h1.5v1.5h-1.5zm6 0h1.5v1.5h-1.5zm32 0h1.5v1.5h-1.5zm28 0h1.5v1.5h-1.5zm28 0h1.5v1.5h-1.5zm6 0h1.5v1.5h-1.5zm-84 2h1.5v1.5h-1.5zm92 0h1.5v1.5h-1.5zm-160 2h1.5v1.5h-1.5zm50 0h1.5v1.5h-1.5zm48 0h1.5v1.5h-1.5zm30 0h1.5v1.5h-1.5zm66 0h1.5v1.5h-1.5zm-120 2h1.5v1.5h-1.5zm-34 2h1.5v1.5h-1.5zm88 0h1.5v1.5h-1.5zm30 0h1.5v1.5h-1.5zm-34 2h1.5v1.5h-1.5zm2 0h1.5v1.5h-1.5zm8 0h1.5v1.5h-1.5zm8 0h1.5v1.5h-1.5zm8 0h1.5v1.5h-1.5zm8 0h1.5v1.5h-1.5zm4 0h1.5v1.5h-1.5zm-104 2h1.5v1.5h-1.5zm30 0h1.5v1.5h-1.5zm6 0h1.5v1.5h-1.5zm14 0h1.5v1.5h-1.5zm8 0h1.5v1.5h-1.5zm6 0h1.5v1.5h-1.5zm6 0h1.5v1.5h-1.5zm100 0h1.5v1.5h-1.5zm-168 2h1.5v1.5h-1.5zm16 0h1.5v1.5h-1.5zm28 0h1.5v1.5h-1.5zm58 0h1.5v1.5h-1.5zm52 0h1.5v1.5h-1.5zm4 0h1.5v1.5h-1.5zm-108 2h1.5v1.5h-1.5zm6 0h1.5v1.5h-1.5zm4 0h1.5v1.5h-1.5zm18 0h1.5v1.5h-1.5zm8 0h1.5v1.5h-1.5zm2 0h1.5v1.5h-1.5zm14 0h1.5v1.5h-1.5zm-126 2h1.5v1.5h-1.5zm110 0h1.5v1.5h-1.5zm54 0h1.5v1.5h-1.5zm-92 2h1.5v1.5h-1.5zm2 0h1.5v1.5h-1.5zm8 0h1.5v1.5h-1.5zm2 0h1.5v1.5h-1.5zm10 0h1.5v1.5h-1.5zm2 0h1.5v1.5h-1.5zm18 0h1.5v1.5h-1.5zm8 0h1.5v1.5h-1.5zm4 0h1.5v1.5h-1.5zm-106 2h1.5v1.5h-1.5zm26 0h1.5v1.5h-1.5zm4 0h1.5v1.5h-1.5zm18 0h1.5v1.5h-1.5zm16 0h1.5v1.5h-1.5zm18 0h1.5v1.5h-1.5zm6 0h1.5v1.5h-1.5zm28 0h1.5v1.5h-1.5zm42 0h1.5v1.5h-1.5zm26 0h1.5v1.5h-1.5zm-150 2h1.5v1.5h-1.5zm22 0h1.5v1.5h-1.5zm2 0h1.5v1.5h-1.5zm32 0h1.5v1.5h-1.5zm14 0h1.5v1.5h-1.5zm-50 2h1.5v1.5h-1.5zm54 0h1.5v1.5h-1.5zm52 0h1.5v1.5h-1.5zm-176 2h1.5v1.5h-1.5zm60 0h1.5v1.5h-1.5zm6 0h1.5v1.5h-1.5zm40 0h1.5v1.5h-1.5zm74 0h1.5v1.5h-1.5zm-152 2h1.5v1.5h-1.5zm4 0h1.5v1.5h-1.5zm10 0h1.5v1.5h-1.5zm8 0h1.5v1.5h-1.5zm24 0h1.5v1.5h-1.5zm26 0h1.5v1.5h-1.5zm38 0h1.5v1.5h-1.5zm4 0h1.5v1.5h-1.5zm40 0h1.5v1.5h-1.5zm-180 2h1.5v1.5h-1.5zm10 0h1.5v1.5h-1.5zm62 0h1.5v1.5h-1.5zm42 0h1.5v1.5h-1.5zm30 0h1.5v1.5h-1.5zm-128 2h1.5v1.5h-1.5zm10 0h1.5v1.5h-1.5zm38 0h1.5v1.5h-1.5zm2 0h1.5v1.5h-1.5zm4 0h1.5v1.5h-1.5zm14 0h1.5v1.5h-1.5zm6 0h1.5v1.5h-1.5zm10 0h1.5v1.5h-1.5zm26 0h1.5v1.5h-1.5zm-116 2h1.5v1.5h-1.5zm6 0h1.5v1.5h-1.5zm18 0h1.5v1.5h-1.5zm32 0h1.5v1.5h-1.5zm34 0h1.5v1.5h-1.5zm2 0h1.5v1.5h-1.5zm40 0h1.5v1.5h-1.5zm-126 2h1.5v1.5h-1.5zm80 0h1.5v1.5h-1.5zm40 0h1.5v1.5h-1.5zm-102 2h1.5v1.5h-1.5zm26 0h1.5v1.5h-1.5zm60 0h1.5v1.5h-1.5zm4 0h1.5v1.5h-1.5zm4 0h1.5v1.5h-1.5zm10 0h1.5v1.5h-1.5zm30 0h1.5v1.5h-1.5zm-204 2h1.5v1.5h-1.5zm2 0h1.5v1.5h-1.5zm12 0h1.5v1.5h-1.5zm82 0h1.5v1.5h-1.5zm44 0h1.5v1.5h-1.5zm2 0h1.5v1.5h-1.5zm14 0h1.5v1.5h-1.5zm16 0h1.5v1.5h-1.5zm-106 2h1.5v1.5h-1.5zm-56 2h1.5v1.5h-1.5zm8 0h1.5v1.5h-1.5zm124 0h1.5v1.5h-1.5zm4 0h1.5v1.5h-1.5zm12 0h1.5v1.5h-1.5zm-118 2h1.5v1.5h-1.5zm50 0h1.5v1.5h-1.5zm4 0h1.5v1.5h-1.5zm46 0h1.5v1.5h-1.5zm6 0h1.5v1.5h-1.5zm50 0h1.5v1.5h-1.5zm-170 2h1.5v1.5h-1.5zm26 0h1.5v1.5h-1.5zm30 0h1.5v1.5h-1.5zm62 0h1.5v1.5h-1.5zm-156 2h1.5v1.5h-1.5zm58 0h1.5v1.5h-1.5zm36 0h1.5v1.5h-1.5zm-50 2h1.5v1.5h-1.5zm20 0h1.5v1.5h-1.5zm36 0h1.5v1.5h-1.5zm2 0h1.5v1.5h-1.5zm4 0h1.5v1.5h-1.5zm60 0h1.5v1.5h-1.5zm64 0h1.5v1.5h-1.5zm-156 2h1.5v1.5h-1.5zm106 0h1.5v1.5h-1.5zm-98 2h1.5v1.5h-1.5zm152 0h1.5v1.5h-1.5zm-158 2h1.5v1.5h-1.5zm108 0h1.5v1.5h-1.5zm-106 2h1.5v1.5h-1.5zm8 0h1.5v1.5h-1.5zm68 0h1.5v1.5h-1.5zm10 0h1.5v1.5h-1.5zm6 0h1.5v1.5h-1.5zm6 0h1.5v1.5h-1.5zm36 0h1.5v1.5h-1.5zm-152 2h1.5v1.5h-1.5zm10 0h1.5v1.5h-1.5zm22 0h1.5v1.5h-1.5zm-12 2h1.5v1.5h-1.5zm74 0h1.5v1.5h-1.5zm4 0h1.5v1.5h-1.5zm38 0h1.5v1.5h-1.5zm22 0h1.5v1.5h-1.5zm8 0h1.5v1.5h-1.5zm-138 2h1.5v1.5h-1.5zm14 0h1.5v1.5h-1.5zm4 0h1.5v1.5h-1.5zm-84 2h1.5v1.5h-1.5zm204 0h1.5v1.5h-1.5zm-170 2h1.5v1.5h-1.5zm20 0h1.5v1.5h-1.5zm2 0h1.5v1.5h-1.5zm20 0h1.5v1.5h-1.5zm4 0h1.5v1.5h-1.5zm94 0h1.5v1.5h-1.5zm-142 2h1.5v1.5h-1.5zm6 0h1.5v1.5h-1.5zm42 0h1.5v1.5h-1.5zm-24 2h1.5v1.5h-1.5zm26 0h1.5v1.5h-1.5zm58 0h1.5v1.5h-1.5zm-106 2h1.5v1.5h-1.5zm48 0h1.5v1.5h-1.5zm12 0h1.5v1.5h-1.5zm36 0h1.5v1.5h-1.5zm18 0h1.5v1.5h-1.5zm36 0h1.5v1.5h-1.5zm8 0h1.5v1.5h-1.5zm4 0h1.5v1.5h-1.5zm16 0h1.5v1.5h-1.5zm-166 2h1.5v1.5h-1.5zm112 0h1.5v1.5h-1.5zm-76 2h1.5v1.5h-1.5zm8 0h1.5v1.5h-1.5zm6 0h1.5v1.5h-1.5zm2 0h1.5v1.5h-1.5zm6 0h1.5v1.5h-1.5zm88 0h1.5v1.5h-1.5zm-150 2h1.5v1.5h-1.5zm16 0h1.5v1.5h-1.5zm44 0h1.5v1.5h-1.5zm18 0h1.5v1.5h-1.5zm8 0h1.5v1.5h-1.5zm4 0h1.5v1.5h-1.5zm36 0h1.5v1.5h-1.5zm-132 2h1.5v1.5h-1.5zm22 0h1.5v1.5h-1.5zm52 0h1.5v1.5h-1.5zm6 0h1.5v1.5h-1.5zm-120 2h1.5v1.5h-1.5zm52 0h1.5v1.5h-1.5zm2 0h1.5v1.5h-1.5zm8 0h1.5v1.5h-1.5zm20 0h1.5v1.5h-1.5zm28 0h1.5v1.5h-1.5zm-88 2h1.5v1.5h-1.5zm84 0h1.5v1.5h-1.5zm50 0h1.5v1.5h-1.5zm20 0h1.5v1.5h-1.5zm-124 2h1.5v1.5h-1.5zm24 0h1.5v1.5h-1.5zm2 0h1.5v1.5h-1.5zm8 0h1.5v1.5h-1.5zm24 0h1.5v1.5h-1.5zm46 0h1.5v1.5h-1.5zm76 0h1.5v1.5h-1.5zm-132 2h1.5v1.5h-1.5zm22 0h1.5v1.5h-1.5zm8 0h1.5v1.5h-1.5zm6 0h1.5v1.5h-1.5zm38 0h1.5v1.5h-1.5zm-86 2h1.5v1.5h-1.5zm4 0h1.5v1.5h-1.5zm20 0h1.5v1.5h-1.5zm26 0h1.5v1.5h-1.5zm34 0h1.5v1.5h-1.5zm26 0h1.5v1.5h-1.5zm10 0h1.5v1.5h-1.5zm-124 2h1.5v1.5h-1.5zm34 0h1.5v1.5h-1.5zm24 0h1.5v1.5h-1.5zm24 0h1.5v1.5h-1.5zm-114 2h1.5v1.5h-1.5zm14 0h1.5v1.5h-1.5zm2 0h1.5v1.5h-1.5zm74 0h1.5v1.5h-1.5zm52 0h1.5v1.5h-1.5zm-170 2h1.5v1.5h-1.5zm30 0h1.5v1.5h-1.5zm60 0h1.5v1.5h-1.5zm12 0h1.5v1.5h-1.5zm20 0h1.5v1.5h-1.5zm22 0h1.5v1.5h-1.5zm4 0h1.5v1.5h-1.5zm48 0h1.5v1.5h-1.5zm-150 2h1.5v1.5h-1.5zm2 0h1.5v1.5h-1.5zm58 0h1.5v1.5h-1.5zm18 0h1.5v1.5h-1.5zm-78 2h1.5v1.5h-1.5zm34 0h1.5v1.5h-1.5zm22 0h1.5v1.5h-1.5zm32 0h1.5v1.5h-1.5zm-104 2h1.5v1.5h-1.5zm62 0h1.5v1.5h-1.5zm6 0h1.5v1.5h-1.5zm16 0h1.5v1.5h-1.5zm4 0h1.5v1.5h-1.5zm-138 2h1.5v1.5h-1.5zm38 0h1.5v1.5h-1.5zm28 0h1.5v1.5h-1.5zm56 0h1.5v1.5h-1.5zm12 0h1.5v1.5h-1.5zm6 0h1.5v1.5h-1.5zm2 0h1.5v1.5h-1.5zm-16 2h1.5v1.5h-1.5zm14 0h1.5v1.5h-1.5zm34 0h1.5v1.5h-1.5zm-88 2h1.5v1.5h-1.5zm22 0h1.5v1.5h-1.5zm26 0h1.5v1.5h-1.5zm-104 4h1.5v1.5h-1.5zm14 0h1.5v1.5h-1.5zm12 0h1.5v1.5h-1.5zm24 0h1.5v1.5h-1.5zm32 0h1.5v1.5h-1.5zm8 0h1.5v1.5h-1.5zm-76 2h1.5v1.5h-1.5zm34 0h1.5v1.5h-1.5zm40 0h1.5v1.5h-1.5zm-6 2h1.5v1.5h-1.5zm-84 2h1.5v1.5h-1.5zm42 0h1.5v1.5h-1.5zm16 0h1.5v1.5h-1.5zm32 0h1.5v1.5h-1.5zm8 0h1.5v1.5h-1.5zm-24 2h1.5v1.5h-1.5zm40 0h1.5v1.5h-1.5zm-36 2h1.5v1.5h-1.5zm24 0h1.5v1.5h-1.5zm42 0h1.5v1.5h-1.5zm-164 2h1.5v1.5h-1.5zm100 0h1.5v1.5h-1.5zm10 0h1.5v1.5h-1.5zm20 0h1.5v1.5h-1.5zm-124 2h1.5v1.5h-1.5zm132 0h1.5v1.5h-1.5zm20 0h1.5v1.5h-1.5zm42 0h1.5v1.5h-1.5zm-78 2h1.5v1.5h-1.5zm-46 4h1.5v1.5h-1.5zm18 0h1.5v1.5h-1.5zm22 0h1.5v1.5h-1.5zm32 0h1.5v1.5h-1.5zm-96 2h1.5v1.5h-1.5zm24 0h1.5v1.5h-1.5zm-50 2h1.5v1.5h-1.5zm48 0h1.5v1.5h-1.5zm120 0h1.5v1.5h-1.5zm-112 2h1.5v1.5h-1.5zm20 0h1.5v1.5h-1.5zm44 0h1.5v1.5h-1.5zm-76 2h1.5v1.5h-1.5zm32 0h1.5v1.5h-1.5zm44 0h1.5v1.5h-1.5zm-48 2h1.5v1.5h-1.5zm14 0h1.5v1.5h-1.5zm-22 2h1.5v1.5h-1.5zm28 0h1.5v1.5h-1.5zm30 0h1.5v1.5h-1.5zm-154 2h1.5v1.5h-1.5zm2 0h1.5v1.5h-1.5zm18 2h1.5v1.5h-1.5zm172 0h1.5v1.5h-1.5zm18 0h1.5v1.5h-1.5zm-190 2h1.5v1.5h-1.5zm118 0h1.5v1.5h-1.5zm8 0h1.5v1.5h-1.5zm38 4h1.5v1.5h-1.5zm-214 2h1.5v1.5h-1.5zm118 0h1.5v1.5h-1.5zm6 0h1.5v1.5h-1.5zm12 0h1.5v1.5h-1.5zm6 2h1.5v1.5h-1.5zm4 0h1.5v1.5h-1.5zm-94 4h1.5v1.5h-1.5zm98 0h1.5v1.5h-1.5zm-18 2h1.5v1.5h-1.5zm-34 2h1.5v1.5h-1.5zm58 2h1.5v1.5h-1.5zm16 2h1.5v1.5h-1.5zm2 0h1.5v1.5h-1.5zm8 0h1.5v1.5h-1.5zm-28 6h1.5v1.5h-1.5zm-108 2h1.5v1.5h-1.5zm-42 2h1.5v1.5h-1.5zm54 0h1.5v1.5h-1.5zm170 2h1.5v1.5h-1.5zm38 0h1.5v1.5h-1.5zm-246 2h1.5v1.5h-1.5z"/>
<path fill="#fef0ea" d="M997.7 448.6h1.5v1.5h-1.5zm26 2h1.5v1.5h-1.5zm-96 8h1.5v1.5h-1.5zm76 2h1.5v1.5h-1.5zm-98 4h1.5v1.5h-1.5zm96 0h1.5v1.5h-1.5zm-124 4h1.5v1.5h-1.5zm174 2h1.5v1.5h-1.5zm-96 2h1.5v1.5h-1.5zm180 6h1.5v1.5h-1.5zm-226 2h1.5v1.5h-1.5zm74 0h1.5v1.5h-1.5zm74 4h1.5v1.5h-1.5zm-166 2h1.5v1.5h-1.5zm36 0h1.5v1.5h-1.5zm136 2h1.5v1.5h-1.5zm-136 2h1.5v1.5h-1.5zm172 2h1.5v1.5h-1.5zm-182 2h1.5v1.5h-1.5zm96 0h1.5v1.5h-1.5zm58 0h1.5v1.5h-1.5zm62 0h1.5v1.5h-1.5zm-240 2h1.5v1.5h-1.5zm148 0h1.5v1.5h-1.5zm-18 4h1.5v1.5h-1.5zm2 0h1.5v1.5h-1.5zm-8 2h1.5v1.5h-1.5zm34 0h1.5v1.5h-1.5zm-86 2h1.5v1.5h-1.5zm-20 2h1.5v1.5h-1.5zm46 0h1.5v1.5h-1.5zm82 0h1.5v1.5h-1.5zm-172 2h1.5v1.5h-1.5zm96 0h1.5v1.5h-1.5zm68 0h1.5v1.5h-1.5zm6 0h1.5v1.5h-1.5zm-52 2h1.5v1.5h-1.5zm26 0h1.5v1.5h-1.5zm-66 2h1.5v1.5h-1.5zm94 0h1.5v1.5h-1.5zm20 0h1.5v1.5h-1.5zm-76 2h1.5v1.5h-1.5zm10 0h1.5v1.5h-1.5zm-152 2h1.5v1.5h-1.5zm84 0h1.5v1.5h-1.5zm8 0h1.5v1.5h-1.5zm124 0h1.5v1.5h-1.5zm-162 2h1.5v1.5h-1.5zm12 0h1.5v1.5h-1.5zm56 0h1.5v1.5h-1.5zm50 0h1.5v1.5h-1.5zm2 0h1.5v1.5h-1.5zm-112 2h1.5v1.5h-1.5zm-38 2h1.5v1.5h-1.5zm6 0h1.5v1.5h-1.5zm62 0h1.5v1.5h-1.5zm46 0h1.5v1.5h-1.5zm-30 2h1.5v1.5h-1.5zm16 0h1.5v1.5h-1.5zm6 0h1.5v1.5h-1.5zm52 0h1.5v1.5h-1.5zm16 0h1.5v1.5h-1.5zm-122 2h1.5v1.5h-1.5zm18 0h1.5v1.5h-1.5zm14 0h1.5v1.5h-1.5zm16 0h1.5v1.5h-1.5zm62 0h1.5v1.5h-1.5zm18 0h1.5v1.5h-1.5zm-136 2h1.5v1.5h-1.5zm120 0h1.5v1.5h-1.5zm-98 2h1.5v1.5h-1.5zm38 0h1.5v1.5h-1.5zm14 0h1.5v1.5h-1.5zm16 0h1.5v1.5h-1.5zm28 0h1.5v1.5h-1.5zm62 0h1.5v1.5h-1.5zm12 0h1.5v1.5h-1.5zm-186 2h1.5v1.5h-1.5zm6 0h1.5v1.5h-1.5zm4 0h1.5v1.5h-1.5zm58 0h1.5v1.5h-1.5zm8 0h1.5v1.5h-1.5zm-46 2h1.5v1.5h-1.5zm6 0h1.5v1.5h-1.5zm6 0h1.5v1.5h-1.5zm2 0h1.5v1.5h-1.5zm88 0h1.5v1.5h-1.5zm-120 2h1.5v1.5h-1.5zm22 0h1.5v1.5h-1.5zm2 0h1.5v1.5h-1.5zm18 0h1.5v1.5h-1.5zm58 0h1.5v1.5h-1.5zm-92 2h1.5v1.5h-1.5zm36 0h1.5v1.5h-1.5zm52 0h1.5v1.5h-1.5zm10 0h1.5v1.5h-1.5zm-80 2h1.5v1.5h-1.5zm22 0h1.5v1.5h-1.5zm10 0h1.5v1.5h-1.5zm16 0h1.5v1.5h-1.5zm-134 2h1.5v1.5h-1.5zm64 0h1.5v1.5h-1.5zm26 0h1.5v1.5h-1.5zm10 0h1.5v1.5h-1.5zm40 0h1.5v1.5h-1.5zm12 0h1.5v1.5h-1.5zm24 0h1.5v1.5h-1.5zm-138 2h1.5v1.5h-1.5zm34 0h1.5v1.5h-1.5zm20 0h1.5v1.5h-1.5zm10 0h1.5v1.5h-1.5zm2 0h1.5v1.5h-1.5zm16 0h1.5v1.5h-1.5zm4 0h1.5v1.5h-1.5zm44 0h1.5v1.5h-1.5zm2 0h1.5v1.5h-1.5zm32 2h1.5v1.5h-1.5zm-226 2h1.5v1.5h-1.5zm62 0h1.5v1.5h-1.5zm70 0h1.5v1.5h-1.5zm10 0h1.5v1.5h-1.5zm2 0h1.5v1.5h-1.5zm14 0h1.5v1.5h-1.5zm4 0h1.5v1.5h-1.5zm10 0h1.5v1.5h-1.5zm8 0h1.5v1.5h-1.5zm18 0h1.5v1.5h-1.5zm54 0h1.5v1.5h-1.5zm-162 2h1.5v1.5h-1.5zm24 0h1.5v1.5h-1.5zm30 0h1.5v1.5h-1.5zm88 0h1.5v1.5h-1.5zm-104 2h1.5v1.5h-1.5zm28 0h1.5v1.5h-1.5zm-120 2h1.5v1.5h-1.5zm24 0h1.5v1.5h-1.5zm58 0h1.5v1.5h-1.5zm20 0h1.5v1.5h-1.5zm4 0h1.5v1.5h-1.5zm12 0h1.5v1.5h-1.5zm6 0h1.5v1.5h-1.5zm2 0h1.5v1.5h-1.5zm-96 2h1.5v1.5h-1.5zm30 0h1.5v1.5h-1.5zm30 0h1.5v1.5h-1.5zm12 0h1.5v1.5h-1.5zm6 0h1.5v1.5h-1.5zm12 0h1.5v1.5h-1.5zm30 0h1.5v1.5h-1.5zm-142 2h1.5v1.5h-1.5zm4 0h1.5v1.5h-1.5zm20 0h1.5v1.5h-1.5zm50 0h1.5v1.5h-1.5zm72 0h1.5v1.5h-1.5zm-126 2h1.5v1.5h-1.5zm16 0h1.5v1.5h-1.5zm12 0h1.5v1.5h-1.5zm6 0h1.5v1.5h-1.5zm2 0h1.5v1.5h-1.5zm6 0h1.5v1.5h-1.5zm6 0h1.5v1.5h-1.5zm32 0h1.5v1.5h-1.5zm38 0h1.5v1.5h-1.5zm-122 2h1.5v1.5h-1.5zm6 0h1.5v1.5h-1.5zm44 0h1.5v1.5h-1.5zm46 0h1.5v1.5h-1.5zm28 0h1.5v1.5h-1.5zm4 0h1.5v1.5h-1.5zm22 0h1.5v1.5h-1.5zm6 0h1.5v1.5h-1.5zm-144 2h1.5v1.5h-1.5zm22 0h1.5v1.5h-1.5zm10 0h1.5v1.5h-1.5zm50 0h1.5v1.5h-1.5zm24 0h1.5v1.5h-1.5zm-76 2h1.5v1.5h-1.5zm64 0h1.5v1.5h-1.5zm28 0h1.5v1.5h-1.5zm-152 2h1.5v1.5h-1.5zm42 0h1.5v1.5h-1.5zm18 0h1.5v1.5h-1.5zm12 0h1.5v1.5h-1.5zm36 0h1.5v1.5h-1.5zm16 0h1.5v1.5h-1.5zm10 0h1.5v1.5h-1.5zm-96 2h1.5v1.5h-1.5zm22 0h1.5v1.5h-1.5zm50 0h1.5v1.5h-1.5zm20 0h1.5v1.5h-1.5zm36 0h1.5v1.5h-1.5zm4 0h1.5v1.5h-1.5zm-120 2h1.5v1.5h-1.5zm76 0h1.5v1.5h-1.5zm14 0h1.5v1.5h-1.5zm78 0h1.5v1.5h-1.5zm-200 2h1.5v1.5h-1.5zm24 2h1.5v1.5h-1.5zm8 0h1.5v1.5h-1.5zm82 0h1.5v1.5h-1.5zm14 0h1.5v1.5h-1.5zm20 0h1.5v1.5h-1.5zm14 0h1.5v1.5h-1.5zm-184 2h1.5v1.5h-1.5zm48 0h1.5v1.5h-1.5zm2 0h1.5v1.5h-1.5zm4 0h1.5v1.5h-1.5zm66 0h1.5v1.5h-1.5zm4 0h1.5v1.5h-1.5zm58 0h1.5v1.5h-1.5zm-182 2h1.5v1.5h-1.5zm24 0h1.5v1.5h-1.5zm32 0h1.5v1.5h-1.5zm62 0h1.5v1.5h-1.5zm4 0h1.5v1.5h-1.5zm12 0h1.5v1.5h-1.5zm4 0h1.5v1.5h-1.5zm42 0h1.5v1.5h-1.5zm-170 2h1.5v1.5h-1.5zm60 0h1.5v1.5h-1.5zm62 0h1.5v1.5h-1.5zm-62 2h1.5v1.5h-1.5zm76 0h1.5v1.5h-1.5zm8 0h1.5v1.5h-1.5zm-98 2h1.5v1.5h-1.5zm10 0h1.5v1.5h-1.5zm64 0h1.5v1.5h-1.5zm8 0h1.5v1.5h-1.5zm24 0h1.5v1.5h-1.5zm-120 2h1.5v1.5h-1.5zm4 0h1.5v1.5h-1.5zm16 0h1.5v1.5h-1.5zm62 0h1.5v1.5h-1.5zm20 0h1.5v1.5h-1.5zm42 0h1.5v1.5h-1.5zm-172 2h1.5v1.5h-1.5zm126 0h1.5v1.5h-1.5zm24 0h1.5v1.5h-1.5zm14 0h1.5v1.5h-1.5zm-148 2h1.5v1.5h-1.5zm116 0h1.5v1.5h-1.5zm14 0h1.5v1.5h-1.5zm-138 2h1.5v1.5h-1.5zm10 0h1.5v1.5h-1.5zm-18 2h1.5v1.5h-1.5zm10 0h1.5v1.5h-1.5zm94 0h1.5v1.5h-1.5zm12 0h1.5v1.5h-1.5zm-84 2h1.5v1.5h-1.5zm70 0h1.5v1.5h-1.5zm16 0h1.5v1.5h-1.5zm32 0h1.5v1.5h-1.5zm18 0h1.5v1.5h-1.5zm-130 2h1.5v1.5h-1.5zm96 0h1.5v1.5h-1.5zm34 0h1.5v1.5h-1.5zm-224 2h1.5v1.5h-1.5zm162 0h1.5v1.5h-1.5zm34 0h1.5v1.5h-1.5zm-112 2h1.5v1.5h-1.5zm72 0h1.5v1.5h-1.5zm36 0h1.5v1.5h-1.5zm20 0h1.5v1.5h-1.5zm16 0h1.5v1.5h-1.5zm-218 2h1.5v1.5h-1.5zm78 0h1.5v1.5h-1.5zm2 0h1.5v1.5h-1.5zm8 0h1.5v1.5h-1.5zm26 0h1.5v1.5h-1.5zm46 0h1.5v1.5h-1.5zm30 0h1.5v1.5h-1.5zm32 0h1.5v1.5h-1.5zm14 0h1.5v1.5h-1.5zm-162 2h1.5v1.5h-1.5zm6 0h1.5v1.5h-1.5zm4 0h1.5v1.5h-1.5zm36 0h1.5v1.5h-1.5zm24 0h1.5v1.5h-1.5zm48 0h1.5v1.5h-1.5zm8 0h1.5v1.5h-1.5zm22 0h1.5v1.5h-1.5zm-168 2h1.5v1.5h-1.5zm48 0h1.5v1.5h-1.5zm36 0h1.5v1.5h-1.5zm12 0h1.5v1.5h-1.5zm10 0h1.5v1.5h-1.5zm30 0h1.5v1.5h-1.5zm-104 2h1.5v1.5h-1.5zm16 0h1.5v1.5h-1.5zm10 0h1.5v1.5h-1.5zm22 0h1.5v1.5h-1.5zm10 0h1.5v1.5h-1.5zm2 0h1.5v1.5h-1.5zm16 0h1.5v1.5h-1.5zm6 0h1.5v1.5h-1.5zm12 0h1.5v1.5h-1.5zm-116 2h1.5v1.5h-1.5zm44 0h1.5v1.5h-1.5zm22 0h1.5v1.5h-1.5zm26 0h1.5v1.5h-1.5zm10 0h1.5v1.5h-1.5zm-98 2h1.5v1.5h-1.5zm6 0h1.5v1.5h-1.5zm16 0h1.5v1.5h-1.5zm20 0h1.5v1.5h-1.5zm4 0h1.5v1.5h-1.5zm54 0h1.5v1.5h-1.5zm18 0h1.5v1.5h-1.5zm12 0h1.5v1.5h-1.5zm20 0h1.5v1.5h-1.5zm34 0h1.5v1.5h-1.5zm-242 2h1.5v1.5h-1.5zm70 0h1.5v1.5h-1.5zm36 0h1.5v1.5h-1.5zm16 0h1.5v1.5h-1.5zm20 0h1.5v1.5h-1.5zm6 0h1.5v1.5h-1.5zm30 0h1.5v1.5h-1.5zm-126 2h1.5v1.5h-1.5zm16 0h1.5v1.5h-1.5zm4 0h1.5v1.5h-1.5zm52 0h1.5v1.5h-1.5zm24 0h1.5v1.5h-1.5zm6 0h1.5v1.5h-1.5zm12 0h1.5v1.5h-1.5zm44 0h1.5v1.5h-1.5zm16 0h1.5v1.5h-1.5zm-240 2h1.5v1.5h-1.5zm120 0h1.5v1.5h-1.5zm4 0h1.5v1.5h-1.5zm-44 2h1.5v1.5h-1.5zm16 0h1.5v1.5h-1.5zm28 0h1.5v1.5h-1.5zm12 0h1.5v1.5h-1.5zm4 0h1.5v1.5h-1.5zm28 0h1.5v1.5h-1.5zm64 0h1.5v1.5h-1.5zm-164 2h1.5v1.5h-1.5zm12 0h1.5v1.5h-1.5zm18 0h1.5v1.5h-1.5zm34 0h1.5v1.5h-1.5zm22 0h1.5v1.5h-1.5zm2 0h1.5v1.5h-1.5zm38 0h1.5v1.5h-1.5zm-134 2h1.5v1.5h-1.5zm20 0h1.5v1.5h-1.5zm6 0h1.5v1.5h-1.5zm2 0h1.5v1.5h-1.5zm12 0h1.5v1.5h-1.5zm72 0h1.5v1.5h-1.5zm-98 2h1.5v1.5h-1.5zm4 0h1.5v1.5h-1.5zm10 0h1.5v1.5h-1.5zm8 0h1.5v1.5h-1.5zm24 0h1.5v1.5h-1.5zm8 0h1.5v1.5h-1.5zm16 0h1.5v1.5h-1.5zm-90 2h1.5v1.5h-1.5zm48 0h1.5v1.5h-1.5zm12 0h1.5v1.5h-1.5zm12 0h1.5v1.5h-1.5zm2 0h1.5v1.5h-1.5zm20 0h1.5v1.5h-1.5zm38 0h1.5v1.5h-1.5zm14 2h1.5v1.5h-1.5zm-102 2h1.5v1.5h-1.5zm26 0h1.5v1.5h-1.5zm2 0h1.5v1.5h-1.5zm80 0h1.5v1.5h-1.5zm-172 2h1.5v1.5h-1.5zm34 0h1.5v1.5h-1.5zm74 0h1.5v1.5h-1.5zm14 0h1.5v1.5h-1.5zm4 0h1.5v1.5h-1.5zm-64 2h1.5v1.5h-1.5zm8 0h1.5v1.5h-1.5zm10 0h1.5v1.5h-1.5zm16 0h1.5v1.5h-1.5zm16 2h1.5v1.5h-1.5zm4 0h1.5v1.5h-1.5zm26 0h1.5v1.5h-1.5zm8 0h1.5v1.5h-1.5zm-58 2h1.5v1.5h-1.5zm4 0h1.5v1.5h-1.5zm20 0h1.5v1.5h-1.5zm-64 2h1.5v1.5h-1.5zm60 0h1.5v1.5h-1.5zm48 0h1.5v1.5h-1.5zm-114 2h1.5v1.5h-1.5zm12 0h1.5v1.5h-1.5zm16 0h1.5v1.5h-1.5zm70 0h1.5v1.5h-1.5zm54 0h1.5v1.5h-1.5zm8 0h1.5v1.5h-1.5zm-210 2h1.5v1.5h-1.5zm68 0h1.5v1.5h-1.5zm60 0h1.5v1.5h-1.5zm34 0h1.5v1.5h-1.5zm-80 2h1.5v1.5h-1.5zm46 0h1.5v1.5h-1.5zm44 0h1.5v1.5h-1.5zm24 0h1.5v1.5h-1.5zm-200 2h1.5v1.5h-1.5zm102 0h1.5v1.5h-1.5zm18 0h1.5v1.5h-1.5zm70 0h1.5v1.5h-1.5zm-142 2h1.5v1.5h-1.5zm114 0h1.5v1.5h-1.5zm-80 2h1.5v1.5h-1.5zm30 0h1.5v1.5h-1.5zm-124 2h1.5v1.5h-1.5zm116 0h1.5v1.5h-1.5zm98 2h1.5v1.5h-1.5zm-30 2h1.5v1.5h-1.5zm-188 6h1.5v1.5h-1.5zm132 0h1.5v1.5h-1.5zm-70 2h1.5v1.5h-1.5zm28 0h1.5v1.5h-1.5zm10 0h1.5v1.5h-1.5zm140 0h1.5v1.5h-1.5zm-130 2h1.5v1.5h-1.5zm-10 2h1.5v1.5h-1.5zm44 0h1.5v1.5h-1.5zm-24 2h1.5v1.5h-1.5zm-54 2h1.5v1.5h-1.5zm20 0h1.5v1.5h-1.5zm62 2h1.5v1.5h-1.5zm-134 2h1.5v1.5h-1.5zm184 0h1.5v1.5h-1.5zm-208 2h1.5v1.5h-1.5zm12 6h1.5v1.5h-1.5zm126 0h1.5v1.5h-1.5zm30 0h1.5v1.5h-1.5zm26 0h1.5v1.5h-1.5zm56 0h1.5v1.5h-1.5zm-134 2h1.5v1.5h-1.5zm-116 2h1.5v1.5h-1.5zm174 0h1.5v1.5h-1.5zm-66 4h1.5v1.5h-1.5zm48 6h1.5v1.5h-1.5zm-140 2h1.5v1.5h-1.5zm70 4h1.5v1.5h-1.5zm6 0h1.5v1.5h-1.5z"/>
<path fill="#fde8de" d="M1117.7 448.6h1.5v1.5h-1.5zm20 2h1.5v1.5h-1.5zm-56 6h1.5v1.5h-1.5zm50 0h1.5v1.5h-1.5zm-12 2h1.5v1.5h-1.5zm-242 4h1.5v1.5h-1.5zm18 2h1.5v1.5h-1.5zm50 4h1.5v1.5h-1.5zm142 2h1.5v1.5h-1.5zm22 2h1.5v1.5h-1.5zm-204 2h1.5v1.5h-1.5zm26 0h1.5v1.5h-1.5zm164 2h1.5v1.5h-1.5zm-108 6h1.5v1.5h-1.5zm8 0h1.5v1.5h-1.5zm38 0h1.5v1.5h-1.5zm70 0h1.5v1.5h-1.5zm-80 2h1.5v1.5h-1.5zm100 0h1.5v1.5h-1.5zm-22 4h1.5v1.5h-1.5zm-88 2h1.5v1.5h-1.5zm-34 4h1.5v1.5h-1.5zm-96 2h1.5v1.5h-1.5zm118 0h1.5v1.5h-1.5zm90 0h1.5v1.5h-1.5zm-120 2h1.5v1.5h-1.5zm80 0h1.5v1.5h-1.5zm-166 2h1.5v1.5h-1.5zm144 0h1.5v1.5h-1.5zm-92 2h1.5v1.5h-1.5zm20 2h1.5v1.5h-1.5zm118 0h1.5v1.5h-1.5zm46 0h1.5v1.5h-1.5zm-112 2h1.5v1.5h-1.5zm68 0h1.5v1.5h-1.5zm-114 2h1.5v1.5h-1.5zm120 0h1.5v1.5h-1.5zm-98 4h1.5v1.5h-1.5zm48 0h1.5v1.5h-1.5zm32 0h1.5v1.5h-1.5zm-68 2h1.5v1.5h-1.5zm44 0h1.5v1.5h-1.5zm10 0h1.5v1.5h-1.5zm-40 2h1.5v1.5h-1.5zm28 0h1.5v1.5h-1.5zm-52 2h1.5v1.5h-1.5zm24 0h1.5v1.5h-1.5zm30 0h1.5v1.5h-1.5zm-34 2h1.5v1.5h-1.5zm2 0h1.5v1.5h-1.5zm-16 2h1.5v1.5h-1.5zm-12 2h1.5v1.5h-1.5zm22 0h1.5v1.5h-1.5zm-44 2h1.5v1.5h-1.5zm8 0h1.5v1.5h-1.5zm26 0h1.5v1.5h-1.5zm30 0h1.5v1.5h-1.5zm60 0h1.5v1.5h-1.5zm20 0h1.5v1.5h-1.5zm-162 2h1.5v1.5h-1.5zm54 0h1.5v1.5h-1.5zm44 0h1.5v1.5h-1.5zm10 0h1.5v1.5h-1.5zm16 0h1.5v1.5h-1.5zm-36 2h1.5v1.5h-1.5zm18 0h1.5v1.5h-1.5zm12 0h1.5v1.5h-1.5zm-58 2h1.5v1.5h-1.5zm60 0h1.5v1.5h-1.5zm-86 2h1.5v1.5h-1.5zm64 0h1.5v1.5h-1.5zm-112 2h1.5v1.5h-1.5zm42 0h1.5v1.5h-1.5zm6 0h1.5v1.5h-1.5zm58 0h1.5v1.5h-1.5zm10 0h1.5v1.5h-1.5zm-66 2h1.5v1.5h-1.5zm64 0h1.5v1.5h-1.5zm-134 2h1.5v1.5h-1.5zm78 0h1.5v1.5h-1.5zm12 0h1.5v1.5h-1.5zm2 0h1.5v1.5h-1.5zm18 0h1.5v1.5h-1.5zm20 0h1.5v1.5h-1.5zm8 2h1.5v1.5h-1.5zm-92 2h1.5v1.5h-1.5zm62 0h1.5v1.5h-1.5zm14 0h1.5v1.5h-1.5zm72 0h1.5v1.5h-1.5zm-160 2h1.5v1.5h-1.5zm20 0h1.5v1.5h-1.5zm54 0h1.5v1.5h-1.5zm12 0h1.5v1.5h-1.5zm14 0h1.5v1.5h-1.5zm32 0h1.5v1.5h-1.5zm-184 2h1.5v1.5h-1.5zm42 0h1.5v1.5h-1.5zm20 0h1.5v1.5h-1.5zm24 0h1.5v1.5h-1.5zm4 0h1.5v1.5h-1.5zm62 0h1.5v1.5h-1.5zm10 0h1.5v1.5h-1.5zm54 0h1.5v1.5h-1.5zm18 0h1.5v1.5h-1.5zm-126 2h1.5v1.5h-1.5zm40 0h1.5v1.5h-1.5zm18 0h1.5v1.5h-1.5zm44 0h1.5v1.5h-1.5zm24 0h1.5v1.5h-1.5zm-224 2h1.5v1.5h-1.5zm46 0h1.5v1.5h-1.5zm34 0h1.5v1.5h-1.5zm48 0h1.5v1.5h-1.5zm8 0h1.5v1.5h-1.5zm18 0h1.5v1.5h-1.5zm24 0h1.5v1.5h-1.5zm2 0h1.5v1.5h-1.5zm14 0h1.5v1.5h-1.5zm-126 2h1.5v1.5h-1.5zm18 0h1.5v1.5h-1.5zm40 0h1.5v1.5h-1.5zm44 0h1.5v1.5h-1.5zm-118 2h1.5v1.5h-1.5zm58 0h1.5v1.5h-1.5zm22 0h1.5v1.5h-1.5zm10 0h1.5v1.5h-1.5zm16 0h1.5v1.5h-1.5zm-124 2h1.5v1.5h-1.5zm84 0h1.5v1.5h-1.5zm22 0h1.5v1.5h-1.5zm2 0h1.5v1.5h-1.5zm40 0h1.5v1.5h-1.5zm-208 2h1.5v1.5h-1.5zm76 0h1.5v1.5h-1.5zm66 0h1.5v1.5h-1.5zm50 0h1.5v1.5h-1.5zm28 0h1.5v1.5h-1.5zm48 0h1.5v1.5h-1.5zm-212 2h1.5v1.5h-1.5zm54 0h1.5v1.5h-1.5zm20 0h1.5v1.5h-1.5zm16 0h1.5v1.5h-1.5zm-52 2h1.5v1.5h-1.5zm60 0h1.5v1.5h-1.5zm6 0h1.5v1.5h-1.5zm-80 2h1.5v1.5h-1.5zm72 0h1.5v1.5h-1.5zm2 0h1.5v1.5h-1.5zm-90 2h1.5v1.5h-1.5zm14 0h1.5v1.5h-1.5zm110 0h1.5v1.5h-1.5zm24 0h1.5v1.5h-1.5zm2 0h1.5v1.5h-1.5zm-28 2h1.5v1.5h-1.5zm14 0h1.5v1.5h-1.5zm-156 2h1.5v1.5h-1.5zm26 0h1.5v1.5h-1.5zm88 0h1.5v1.5h-1.5zm-112 2h1.5v1.5h-1.5zm28 0h1.5v1.5h-1.5zm22 0h1.5v1.5h-1.5zm10 0h1.5v1.5h-1.5zm56 0h1.5v1.5h-1.5zm26 0h1.5v1.5h-1.5zm10 0h1.5v1.5h-1.5zm-114 2h1.5v1.5h-1.5zm8 0h1.5v1.5h-1.5zm78 0h1.5v1.5h-1.5zm24 0h1.5v1.5h-1.5zm64 0h1.5v1.5h-1.5zm-180 2h1.5v1.5h-1.5zm112 0h1.5v1.5h-1.5zm2 0h1.5v1.5h-1.5zm-14 2h1.5v1.5h-1.5zm12 0h1.5v1.5h-1.5zm34 0h1.5v1.5h-1.5zm-162 2h1.5v1.5h-1.5zm16 0h1.5v1.5h-1.5zm6 0h1.5v1.5h-1.5zm8 0h1.5v1.5h-1.5zm2 0h1.5v1.5h-1.5zm76 0h1.5v1.5h-1.5zm10 0h1.5v1.5h-1.5zm62 0h1.5v1.5h-1.5zm-168 2h1.5v1.5h-1.5zm36 0h1.5v1.5h-1.5zm80 0h1.5v1.5h-1.5zm30 0h1.5v1.5h-1.5zm34 0h1.5v1.5h-1.5zm-206 2h1.5v1.5h-1.5zm18 0h1.5v1.5h-1.5zm6 0h1.5v1.5h-1.5zm8 0h1.5v1.5h-1.5zm84 0h1.5v1.5h-1.5zm6 0h1.5v1.5h-1.5zm-68 2h1.5v1.5h-1.5zm12 0h1.5v1.5h-1.5zm108 0h1.5v1.5h-1.5zm-58 2h1.5v1.5h-1.5zm4 0h1.5v1.5h-1.5zm28 0h1.5v1.5h-1.5zm-156 2h1.5v1.5h-1.5zm58 0h1.5v1.5h-1.5zm70 0h1.5v1.5h-1.5zm14 0h1.5v1.5h-1.5zm4 0h1.5v1.5h-1.5zm26 0h1.5v1.5h-1.5zm-156 2h1.5v1.5h-1.5zm30 2h1.5v1.5h-1.5zm22 0h1.5v1.5h-1.5zm62 0h1.5v1.5h-1.5zm4 0h1.5v1.5h-1.5zm12 0h1.5v1.5h-1.5zm10 0h1.5v1.5h-1.5zm12 0h1.5v1.5h-1.5zm-186 2h1.5v1.5h-1.5zm48 0h1.5v1.5h-1.5zm22 0h1.5v1.5h-1.5zm84 0h1.5v1.5h-1.5zm24 0h1.5v1.5h-1.5zm10 0h1.5v1.5h-1.5zm6 0h1.5v1.5h-1.5zm-152 2h1.5v1.5h-1.5zm12 0h1.5v1.5h-1.5zm10 0h1.5v1.5h-1.5zm14 0h1.5v1.5h-1.5zm14 0h1.5v1.5h-1.5zm42 0h1.5v1.5h-1.5zm18 0h1.5v1.5h-1.5zm12 0h1.5v1.5h-1.5zm-146 2h1.5v1.5h-1.5zm52 0h1.5v1.5h-1.5zm66 0h1.5v1.5h-1.5zm22 0h1.5v1.5h-1.5zm2 0h1.5v1.5h-1.5zm10 0h1.5v1.5h-1.5zm14 0h1.5v1.5h-1.5zm-106 2h1.5v1.5h-1.5zm10 0h1.5v1.5h-1.5zm48 0h1.5v1.5h-1.5zm22 0h1.5v1.5h-1.5zm30 0h1.5v1.5h-1.5zm-38 2h1.5v1.5h-1.5zm18 0h1.5v1.5h-1.5zm-134 2h1.5v1.5h-1.5zm68 0h1.5v1.5h-1.5zm12 0h1.5v1.5h-1.5zm8 0h1.5v1.5h-1.5zm22 0h1.5v1.5h-1.5zm2 0h1.5v1.5h-1.5zm6 0h1.5v1.5h-1.5zm8 0h1.5v1.5h-1.5zm-156 2h1.5v1.5h-1.5zm34 0h1.5v1.5h-1.5zm82 0h1.5v1.5h-1.5zm74 0h1.5v1.5h-1.5zm-210 2h1.5v1.5h-1.5zm56 0h1.5v1.5h-1.5zm56 0h1.5v1.5h-1.5zm96 0h1.5v1.5h-1.5zm-132 2h1.5v1.5h-1.5zm14 0h1.5v1.5h-1.5zm6 0h1.5v1.5h-1.5zm2 0h1.5v1.5h-1.5zm2 0h1.5v1.5h-1.5zm4 0h1.5v1.5h-1.5zm2 0h1.5v1.5h-1.5zm8 0h1.5v1.5h-1.5zm4 0h1.5v1.5h-1.5zm18 0h1.5v1.5h-1.5zm4 0h1.5v1.5h-1.5zm4 0h1.5v1.5h-1.5zm54 0h1.5v1.5h-1.5zm-116 2h1.5v1.5h-1.5zm6 0h1.5v1.5h-1.5zm4 0h1.5v1.5h-1.5zm6 0h1.5v1.5h-1.5zm10 0h1.5v1.5h-1.5zm14 0h1.5v1.5h-1.5zm46 0h1.5v1.5h-1.5zm-98 2h1.5v1.5h-1.5zm82 0h1.5v1.5h-1.5zm6 0h1.5v1.5h-1.5zm38 0h1.5v1.5h-1.5zm30 0h1.5v1.5h-1.5zm-174 2h1.5v1.5h-1.5zm2 0h1.5v1.5h-1.5zm2 0h1.5v1.5h-1.5zm16 0h1.5v1.5h-1.5zm4 0h1.5v1.5h-1.5zm14 0h1.5v1.5h-1.5zm74 0h1.5v1.5h-1.5zm6 0h1.5v1.5h-1.5zm20 0h1.5v1.5h-1.5zm32 0h1.5v1.5h-1.5zm-174 2h1.5v1.5h-1.5zm2 0h1.5v1.5h-1.5zm44 0h1.5v1.5h-1.5zm62 0h1.5v1.5h-1.5zm12 0h1.5v1.5h-1.5zm30 0h1.5v1.5h-1.5zm34 0h1.5v1.5h-1.5zm-162 2h1.5v1.5h-1.5zm4 0h1.5v1.5h-1.5zm32 0h1.5v1.5h-1.5zm14 0h1.5v1.5h-1.5zm26 0h1.5v1.5h-1.5zm44 0h1.5v1.5h-1.5zm-148 2h1.5v1.5h-1.5zm36 0h1.5v1.5h-1.5zm28 0h1.5v1.5h-1.5zm20 0h1.5v1.5h-1.5zm44 0h1.5v1.5h-1.5zm-108 2h1.5v1.5h-1.5zm16 0h1.5v1.5h-1.5zm6 0h1.5v1.5h-1.5zm26 0h1.5v1.5h-1.5zm12 0h1.5v1.5h-1.5zm4 0h1.5v1.5h-1.5zm36 0h1.5v1.5h-1.5zm38 0h1.5v1.5h-1.5zm-128 2h1.5v1.5h-1.5zm38 0h1.5v1.5h-1.5zm-26 2h1.5v1.5h-1.5zm108 0h1.5v1.5h-1.5zm-130 2h1.5v1.5h-1.5zm56 0h1.5v1.5h-1.5zm2 0h1.5v1.5h-1.5zm10 0h1.5v1.5h-1.5zm16 0h1.5v1.5h-1.5zm18 0h1.5v1.5h-1.5zm20 0h1.5v1.5h-1.5zm10 0h1.5v1.5h-1.5zm-76 2h1.5v1.5h-1.5zm2 0h1.5v1.5h-1.5zm56 0h1.5v1.5h-1.5zm10 0h1.5v1.5h-1.5zm8 0h1.5v1.5h-1.5zm-124 2h1.5v1.5h-1.5zm32 0h1.5v1.5h-1.5zm10 0h1.5v1.5h-1.5zm-60 2h1.5v1.5h-1.5zm42 0h1.5v1.5h-1.5zm26 0h1.5v1.5h-1.5zm4 0h1.5v1.5h-1.5zm2 0h1.5v1.5h-1.5zm18 0h1.5v1.5h-1.5zm12 0h1.5v1.5h-1.5zm18 0h1.5v1.5h-1.5zm30 0h1.5v1.5h-1.5zm2 0h1.5v1.5h-1.5zm6 0h1.5v1.5h-1.5zm-118 2h1.5v1.5h-1.5zm16 0h1.5v1.5h-1.5zm50 0h1.5v1.5h-1.5zm-78 2h1.5v1.5h-1.5zm18 0h1.5v1.5h-1.5zm62 0h1.5v1.5h-1.5zm98 0h1.5v1.5h-1.5zm-214 2h1.5v1.5h-1.5zm46 0h1.5v1.5h-1.5zm18 0h1.5v1.5h-1.5zm4 0h1.5v1.5h-1.5zm6 0h1.5v1.5h-1.5zm-34 2h1.5v1.5h-1.5zm4 0h1.5v1.5h-1.5zm8 0h1.5v1.5h-1.5zm48 0h1.5v1.5h-1.5zm36 0h1.5v1.5h-1.5zm-160 2h1.5v1.5h-1.5zm100 0h1.5v1.5h-1.5zm14 0h1.5v1.5h-1.5zm86 0h1.5v1.5h-1.5zm-172 4h1.5v1.5h-1.5zm90 0h1.5v1.5h-1.5zm36 0h1.5v1.5h-1.5zm-54 2h1.5v1.5h-1.5zm8 0h1.5v1.5h-1.5zm8 0h1.5v1.5h-1.5zm-42 2h1.5v1.5h-1.5zm46 0h1.5v1.5h-1.5zm10 0h1.5v1.5h-1.5zm14 0h1.5v1.5h-1.5zm-50 2h1.5v1.5h-1.5zm52 0h1.5v1.5h-1.5zm32 0h1.5v1.5h-1.5zm-104 2h1.5v1.5h-1.5zm4 0h1.5v1.5h-1.5zm8 0h1.5v1.5h-1.5zm32 0h1.5v1.5h-1.5zm12 0h1.5v1.5h-1.5zm90 0h1.5v1.5h-1.5zm-74 2h1.5v1.5h-1.5zm-42 2h1.5v1.5h-1.5zm30 0h1.5v1.5h-1.5zm6 0h1.5v1.5h-1.5zm-132 2h1.5v1.5h-1.5zm82 2h1.5v1.5h-1.5zm20 0h1.5v1.5h-1.5zm48 2h1.5v1.5h-1.5zm-24 4h1.5v1.5h-1.5zm-24 2h1.5v1.5h-1.5zm62 2h1.5v1.5h-1.5zm-62 4h1.5v1.5h-1.5zm8 0h1.5v1.5h-1.5zm104 0h1.5v1.5h-1.5zm-60 2h1.5v1.5h-1.5zm-76 2h1.5v1.5h-1.5zm-12 2h1.5v1.5h-1.5zm154 0h1.5v1.5h-1.5zm-36 2h1.5v1.5h-1.5zm-140 4h1.5v1.5h-1.5zm78 0h1.5v1.5h-1.5zm-140 6h1.5v1.5h-1.5zm14 0h1.5v1.5h-1.5zm180 0h1.5v1.5h-1.5zm-48 2h1.5v1.5h-1.5zm-46 2h1.5v1.5h-1.5zm76 4h1.5v1.5h-1.5zm-146 4h1.5v1.5h-1.5zm-12 2h1.5v1.5h-1.5z"/>
<path fill="#c6c6c6" d="M1033.7 486.6h1.5v1.5h-1.5zm-54 16h1.5v1.5h-1.5zm20 10h1.5v1.5h-1.5zm-18 10h1.5v1.5h-1.5zm6 0h1.5v1.5h-1.5zm-30 4h1.5v1.5h-1.5zm30 0h1.5v1.5h-1.5zm-34 2h1.5v1.5h-1.5zm36 0h1.5v1.5h-1.5zm40 0h1.5v1.5h-1.5zm-42 2h1.5v1.5h-1.5zm-24 2h1.5v1.5h-1.5zm22 0h1.5v1.5h-1.5zm14 4h1.5v1.5h-1.5zm-38 4h1.5v1.5h-1.5zm8 0h1.5v1.5h-1.5zm8 0h1.5v1.5h-1.5zm64 0h1.5v1.5h-1.5zm-20 2h1.5v1.5h-1.5zm-54 2h1.5v1.5h-1.5zm30 0h1.5v1.5h-1.5zm-22 2h1.5v1.5h-1.5zm12 0h1.5v1.5h-1.5zm-26 2h1.5v1.5h-1.5zm32 0h1.5v1.5h-1.5zm-4 2h1.5v1.5h-1.5zm28 0h1.5v1.5h-1.5zm-56 4h1.5v1.5h-1.5zm30 0h1.5v1.5h-1.5zm10 0h1.5v1.5h-1.5zm-36 4h1.5v1.5h-1.5zm68 0h1.5v1.5h-1.5zm-2 2h1.5v1.5h-1.5zm-70 2h1.5v1.5h-1.5zm14 0h1.5v1.5h-1.5zm74 0h1.5v1.5h-1.5zm-114 2h1.5v1.5h-1.5zm8 0h1.5v1.5h-1.5zm28 4h1.5v1.5h-1.5zm14 0h1.5v1.5h-1.5zm-30 2h1.5v1.5h-1.5zm8 2h1.5v1.5h-1.5zm10 0h1.5v1.5h-1.5zm-2 2h1.5v1.5h-1.5zm2 0h1.5v1.5h-1.5zm-36 2h1.5v1.5h-1.5zm114 2h1.5v1.5h-1.5zm4 0h1.5v1.5h-1.5zm-114 2h1.5v1.5h-1.5zm14 0h1.5v1.5h-1.5zm-18 2h1.5v1.5h-1.5zm38 0h1.5v1.5h-1.5zm60 0h1.5v1.5h-1.5zm32 0h1.5v1.5h-1.5zm-116 2h1.5v1.5h-1.5zm14 0h1.5v1.5h-1.5zm12 0h1.5v1.5h-1.5zm68 0h1.5v1.5h-1.5zm-102 2h1.5v1.5h-1.5zm2 2h1.5v1.5h-1.5zm24 0h1.5v1.5h-1.5zm-32 2h1.5v1.5h-1.5zm14 4h1.5v1.5h-1.5zm-2 2h1.5v1.5h-1.5zm-10 2h1.5v1.5h-1.5zm14 2h1.5v1.5h-1.5zm12 0h1.5v1.5h-1.5zm-4 2h1.5v1.5h-1.5zm4 2h1.5v1.5h-1.5zm24 0h1.5v1.5h-1.5zm-48 2h1.5v1.5h-1.5zm10 0h1.5v1.5h-1.5zm4 0h1.5v1.5h-1.5zm20 2h1.5v1.5h-1.5zm2 0h1.5v1.5h-1.5zm18 0h1.5v1.5h-1.5zm20 0h1.5v1.5h-1.5zm-26 2h1.5v1.5h-1.5zm18 0h1.5v1.5h-1.5zm42 0h1.5v1.5h-1.5zm-84 2h1.5v1.5h-1.5zm-30 2h1.5v1.5h-1.5zm90 0h1.5v1.5h-1.5zm-56 2h1.5v1.5h-1.5zm10 2h1.5v1.5h-1.5zm-32 2h1.5v1.5h-1.5zm66 0h1.5v1.5h-1.5zm-56 2h1.5v1.5h-1.5zm28 0h1.5v1.5h-1.5zm-54 2h1.5v1.5h-1.5zm52 2h1.5v1.5h-1.5zm42 0h1.5v1.5h-1.5zm-26 2h1.5v1.5h-1.5zm12 0h1.5v1.5h-1.5zm48 0h1.5v1.5h-1.5zm-94 2h1.5v1.5h-1.5zm40 0h1.5v1.5h-1.5zm-62 2h1.5v1.5h-1.5zm16 0h1.5v1.5h-1.5zm10 2h1.5v1.5h-1.5zm24 0h1.5v1.5h-1.5zm-6 2h1.5v1.5h-1.5zm14 10h1.5v1.5h-1.5zm14 10h1.5v1.5h-1.5zm-38 4h1.5v1.5h-1.5z"/>
<path fill="#9c9c9c" d="M1021.7 494.6h1.5v1.5h-1.5zm-36 28h1.5v1.5h-1.5zm-6 2h1.5v1.5h-1.5zm34 4h1.5v1.5h-1.5zm2 0h1.5v1.5h-1.5zm-46 4h1.5v1.5h-1.5zm14 0h1.5v1.5h-1.5zm20 0h1.5v1.5h-1.5zm6 2h1.5v1.5h-1.5zm20 0h1.5v1.5h-1.5zm-48 2h1.5v1.5h-1.5zm16 0h1.5v1.5h-1.5zm2 2h1.5v1.5h-1.5zm-4 2h1.5v1.5h-1.5zm-40 2h1.5v1.5h-1.5zm22 0h1.5v1.5h-1.5zm12 0h1.5v1.5h-1.5zm16 0h1.5v1.5h-1.5zm24 0h1.5v1.5h-1.5zm-30 2h1.5v1.5h-1.5zm14 2h1.5v1.5h-1.5zm-54 2h1.5v1.5h-1.5zm6 0h1.5v1.5h-1.5zm38 2h1.5v1.5h-1.5zm-48 2h1.5v1.5h-1.5zm84 0h1.5v1.5h-1.5zm-70 2h1.5v1.5h-1.5zm44 0h1.5v1.5h-1.5zm-48 2h1.5v1.5h-1.5zm78 0h1.5v1.5h-1.5zm-20 2h1.5v1.5h-1.5zm2 0h1.5v1.5h-1.5zm10 0h1.5v1.5h-1.5zm10 0h1.5v1.5h-1.5zm6 0h1.5v1.5h-1.5zm-88 2h1.5v1.5h-1.5zm80 0h1.5v1.5h-1.5zm-76 2h1.5v1.5h-1.5zm34 0h1.5v1.5h-1.5zm-38 2h1.5v1.5h-1.5zm84 4h1.5v1.5h-1.5zm-66 2h1.5v1.5h-1.5zm-10 2h1.5v1.5h-1.5zm4 0h1.5v1.5h-1.5zm80 2h1.5v1.5h-1.5zm-112 2h1.5v1.5h-1.5zm4 0h1.5v1.5h-1.5zm94 0h1.5v1.5h-1.5zm-80 2h1.5v1.5h-1.5zm-10 2h1.5v1.5h-1.5zm-22 6h1.5v1.5h-1.5zm132 0h1.5v1.5h-1.5zm-112 4h1.5v1.5h-1.5zm8 0h1.5v1.5h-1.5zm30 0h1.5v1.5h-1.5zm-32 2h1.5v1.5h-1.5zm-24 2h1.5v1.5h-1.5zm28 0h1.5v1.5h-1.5zm98 0h1.5v1.5h-1.5zm-80 2h1.5v1.5h-1.5zm54 0h1.5v1.5h-1.5zm-42 2h1.5v1.5h-1.5zm-38 2h1.5v1.5h-1.5zm26 0h1.5v1.5h-1.5zm60 2h1.5v1.5h-1.5zm-68 2h1.5v1.5h-1.5zm78 6h1.5v1.5h-1.5zm-76 2h1.5v1.5h-1.5zm4 0h1.5v1.5h-1.5zm82 0h1.5v1.5h-1.5zm-24 2h1.5v1.5h-1.5zm-54 2h1.5v1.5h-1.5zm10 0h1.5v1.5h-1.5zm32 0h1.5v1.5h-1.5zm22 0h1.5v1.5h-1.5zm-70 2h1.5v1.5h-1.5zm-30 2h1.5v1.5h-1.5zm24 0h1.5v1.5h-1.5zm58 0h1.5v1.5h-1.5zm-60 2h1.5v1.5h-1.5zm78 0h1.5v1.5h-1.5zm-36 2h1.5v1.5h-1.5zm-18 2h1.5v1.5h-1.5zm32 0h1.5v1.5h-1.5zm-26 4h1.5v1.5h-1.5zm-20 4h1.5v1.5h-1.5zm30 0h1.5v1.5h-1.5zm8 0h1.5v1.5h-1.5zm36 0h1.5v1.5h-1.5zm-100 2h1.5v1.5h-1.5zm68 0h1.5v1.5h-1.5zm-30 6h1.5v1.5h-1.5zm-8 6h1.5v1.5h-1.5zm8 4h1.5v1.5h-1.5zm20 4h1.5v1.5h-1.5zm6 2h1.5v1.5h-1.5zm-12 10h1.5v1.5h-1.5z"/>
<path fill="#b4b4b4" d="M993.7 502.6h1.5v1.5h-1.5zm-42 16h1.5v1.5h-1.5zm60 2h1.5v1.5h-1.5zm-34 4h1.5v1.5h-1.5zm64 2h1.5v1.5h-1.5zm-64 2h1.5v1.5h-1.5zm34 2h1.5v1.5h-1.5zm-54 4h1.5v1.5h-1.5zm42 0h1.5v1.5h-1.5zm8 0h1.5v1.5h-1.5zm10 0h1.5v1.5h-1.5zm-52 2h1.5v1.5h-1.5zm22 0h1.5v1.5h-1.5zm-22 2h1.5v1.5h-1.5zm58 4h1.5v1.5h-1.5zm-10 2h1.5v1.5h-1.5zm-48 2h1.5v1.5h-1.5zm24 0h1.5v1.5h-1.5zm44 0h1.5v1.5h-1.5zm-56 2h1.5v1.5h-1.5zm8 0h1.5v1.5h-1.5zm-42 2h1.5v1.5h-1.5zm36 0h1.5v1.5h-1.5zm28 0h1.5v1.5h-1.5zm-4 2h1.5v1.5h-1.5zm-38 2h1.5v1.5h-1.5zm84 0h1.5v1.5h-1.5zm-74 2h1.5v1.5h-1.5zm-34 2h1.5v1.5h-1.5zm2 0h1.5v1.5h-1.5zm20 0h1.5v1.5h-1.5zm82 2h1.5v1.5h-1.5zm-88 2h1.5v1.5h-1.5zm8 0h1.5v1.5h-1.5zm10 2h1.5v1.5h-1.5zm-42 4h1.5v1.5h-1.5zm14 0h1.5v1.5h-1.5zm40 0h1.5v1.5h-1.5zm-22 6h1.5v1.5h-1.5zm6 2h1.5v1.5h-1.5zm8 4h1.5v1.5h-1.5zm-18 4h1.5v1.5h-1.5zm-2 2h1.5v1.5h-1.5zm98 0h1.5v1.5h-1.5zm-14 2h1.5v1.5h-1.5zm-74 2h1.5v1.5h-1.5zm74 0h1.5v1.5h-1.5zm-112 6h1.5v1.5h-1.5zm32 0h1.5v1.5h-1.5zm92 0h1.5v1.5h-1.5zm-114 2h1.5v1.5h-1.5zm14 0h1.5v1.5h-1.5zm8 2h1.5v1.5h-1.5zm94 4h1.5v1.5h-1.5zm-124 2h1.5v1.5h-1.5zm28 2h1.5v1.5h-1.5zm10 0h1.5v1.5h-1.5zm8 0h1.5v1.5h-1.5zm8 0h1.5v1.5h-1.5zm-62 2h1.5v1.5h-1.5zm58 0h1.5v1.5h-1.5zm-26 2h1.5v1.5h-1.5zm46 4h1.5v1.5h-1.5zm24 0h1.5v1.5h-1.5zm-70 2h1.5v1.5h-1.5zm-4 2h1.5v1.5h-1.5zm10 0h1.5v1.5h-1.5zm26 0h1.5v1.5h-1.5zm28 2h1.5v1.5h-1.5zm28 0h1.5v1.5h-1.5zm-18 2h1.5v1.5h-1.5zm-90 4h1.5v1.5h-1.5zm14 0h1.5v1.5h-1.5zm82 2h1.5v1.5h-1.5zm-66 2h1.5v1.5h-1.5zm64 2h1.5v1.5h-1.5zm22 0h1.5v1.5h-1.5zm-26 2h1.5v1.5h-1.5zm-34 2h1.5v1.5h-1.5zm-16 2h1.5v1.5h-1.5zm8 0h1.5v1.5h-1.5zm10 0h1.5v1.5h-1.5zm20 0h1.5v1.5h-1.5zm22 2h1.5v1.5h-1.5zm10 0h1.5v1.5h-1.5zm-122 2h1.5v1.5h-1.5zm102 0h1.5v1.5h-1.5zm-42 2h1.5v1.5h-1.5zm-22 10h1.5v1.5h-1.5zm4 2h1.5v1.5h-1.5zm56 0h1.5v1.5h-1.5z"/>
<path fill="#d4d4d4" d="M1003.7 502.6h1.5v1.5h-1.5zm30 6h1.5v1.5h-1.5zm-18 10h1.5v1.5h-1.5zm-24 2h1.5v1.5h-1.5zm12 2h1.5v1.5h-1.5zm4 0h1.5v1.5h-1.5zm-32 4h1.5v1.5h-1.5zm12 2h1.5v1.5h-1.5zm4 0h1.5v1.5h-1.5zm14 0h1.5v1.5h-1.5zm16 0h1.5v1.5h-1.5zm-42 2h1.5v1.5h-1.5zm-12 2h1.5v1.5h-1.5zm76 0h1.5v1.5h-1.5zm-76 2h1.5v1.5h-1.5zm26 2h1.5v1.5h-1.5zm14 0h1.5v1.5h-1.5zm-50 2h1.5v1.5h-1.5zm98 0h1.5v1.5h-1.5zm-80 2h1.5v1.5h-1.5zm-28 2h1.5v1.5h-1.5zm6 0h1.5v1.5h-1.5zm30 0h1.5v1.5h-1.5zm26 0h1.5v1.5h-1.5zm14 2h1.5v1.5h-1.5zm-40 2h1.5v1.5h-1.5zm48 0h1.5v1.5h-1.5zm8 0h1.5v1.5h-1.5zm-92 2h1.5v1.5h-1.5zm52 0h1.5v1.5h-1.5zm-30 2h1.5v1.5h-1.5zm56 0h1.5v1.5h-1.5zm-28 4h1.5v1.5h-1.5zm-64 2h1.5v1.5h-1.5zm60 0h1.5v1.5h-1.5zm44 2h1.5v1.5h-1.5zm-128 2h1.5v1.5h-1.5zm44 0h1.5v1.5h-1.5zm36 2h1.5v1.5h-1.5zm-28 2h1.5v1.5h-1.5zm-2 2h1.5v1.5h-1.5zm2 0h1.5v1.5h-1.5zm-20 2h1.5v1.5h-1.5zm28 0h1.5v1.5h-1.5zm-28 2h1.5v1.5h-1.5zm8 0h1.5v1.5h-1.5zm18 0h1.5v1.5h-1.5zm-34 2h1.5v1.5h-1.5zm28 0h1.5v1.5h-1.5zm-22 2h1.5v1.5h-1.5zm12 0h1.5v1.5h-1.5zm2 0h1.5v1.5h-1.5zm26 2h1.5v1.5h-1.5zm64 2h1.5v1.5h-1.5zm4 0h1.5v1.5h-1.5zm-98 4h1.5v1.5h-1.5zm34 0h1.5v1.5h-1.5zm-38 2h1.5v1.5h-1.5zm6 2h1.5v1.5h-1.5zm28 2h1.5v1.5h-1.5zm-40 2h1.5v1.5h-1.5zm120 0h1.5v1.5h-1.5zm-76 2h1.5v1.5h-1.5zm68 0h1.5v1.5h-1.5zm-94 2h1.5v1.5h-1.5zm-24 10h1.5v1.5h-1.5zm46 0h1.5v1.5h-1.5zm12 0h1.5v1.5h-1.5zm-46 2h1.5v1.5h-1.5zm14 0h1.5v1.5h-1.5zm10 0h1.5v1.5h-1.5zm14 0h1.5v1.5h-1.5zm-16 6h1.5v1.5h-1.5zm-36 2h1.5v1.5h-1.5zm42 0h1.5v1.5h-1.5zm58 0h1.5v1.5h-1.5zm14 0h1.5v1.5h-1.5zm-80 2h1.5v1.5h-1.5zm42 0h1.5v1.5h-1.5zm18 0h1.5v1.5h-1.5zm14 0h1.5v1.5h-1.5zm-32 2h1.5v1.5h-1.5zm-22 2h1.5v1.5h-1.5zm-12 4h1.5v1.5h-1.5zm4 0h1.5v1.5h-1.5zm4 0h1.5v1.5h-1.5zm-38 2h1.5v1.5h-1.5zm28 0h1.5v1.5h-1.5zm50 2h1.5v1.5h-1.5zm-24 2h1.5v1.5h-1.5zm14 0h1.5v1.5h-1.5zm-50 4h1.5v1.5h-1.5zm22 0h1.5v1.5h-1.5zm20 0h1.5v1.5h-1.5zm4 0h1.5v1.5h-1.5zm-22 4h1.5v1.5h-1.5zm12 0h1.5v1.5h-1.5zm-38 2h1.5v1.5h-1.5zm12 0h1.5v1.5h-1.5zm32 2h1.5v1.5h-1.5zm0 6h1.5v1.5h-1.5zm32 0h1.5v1.5h-1.5zm18 2h1.5v1.5h-1.5zm-72 4h1.5v1.5h-1.5zm12 0h1.5v1.5h-1.5zm-10 6h1.5v1.5h-1.5zm-14 4h1.5v1.5h-1.5z"/>
<path fill="#e2e2e2" d="M1023.7 506.6h1.5v1.5h-1.5zm-2 12h1.5v1.5h-1.5zm26 4h1.5v1.5h-1.5zm-22 6h1.5v1.5h-1.5zm-26 2h1.5v1.5h-1.5zm6 2h1.5v1.5h-1.5zm-18 2h1.5v1.5h-1.5zm-10 2h1.5v1.5h-1.5zm14 0h1.5v1.5h-1.5zm-36 2h1.5v1.5h-1.5zm30 0h1.5v1.5h-1.5zm8 0h1.5v1.5h-1.5zm14 0h1.5v1.5h-1.5zm22 0h1.5v1.5h-1.5zm-56 2h1.5v1.5h-1.5zm0 2h1.5v1.5h-1.5zm82 0h1.5v1.5h-1.5zm-66 2h1.5v1.5h-1.5zm6 0h1.5v1.5h-1.5zm-36 2h1.5v1.5h-1.5zm22 2h1.5v1.5h-1.5zm-34 2h1.5v1.5h-1.5zm6 0h1.5v1.5h-1.5zm62 0h1.5v1.5h-1.5zm-62 2h1.5v1.5h-1.5zm14 0h1.5v1.5h-1.5zm16 0h1.5v1.5h-1.5zm-6 2h1.5v1.5h-1.5zm28 0h1.5v1.5h-1.5zm-64 2h1.5v1.5h-1.5zm16 0h1.5v1.5h-1.5zm24 0h1.5v1.5h-1.5zm2 0h1.5v1.5h-1.5zm-56 2h1.5v1.5h-1.5zm22 0h1.5v1.5h-1.5zm18 2h1.5v1.5h-1.5zm-14 2h1.5v1.5h-1.5zm82 0h1.5v1.5h-1.5zm2 2h1.5v1.5h-1.5zm-68 2h1.5v1.5h-1.5zm-26 2h1.5v1.5h-1.5zm4 2h1.5v1.5h-1.5zm28 0h1.5v1.5h-1.5zm66 0h1.5v1.5h-1.5zm16 2h1.5v1.5h-1.5zm-108 4h1.5v1.5h-1.5zm20 4h1.5v1.5h-1.5zm-38 2h1.5v1.5h-1.5zm26 2h1.5v1.5h-1.5zm22 2h1.5v1.5h-1.5zm-28 2h1.5v1.5h-1.5zm96 0h1.5v1.5h-1.5zm-82 2h1.5v1.5h-1.5zm-2 2h1.5v1.5h-1.5zm-14 2h1.5v1.5h-1.5zm28 0h1.5v1.5h-1.5zm66 0h1.5v1.5h-1.5zm-106 2h1.5v1.5h-1.5zm100 0h1.5v1.5h-1.5zm2 0h1.5v1.5h-1.5zm18 0h1.5v1.5h-1.5zm-104 2h1.5v1.5h-1.5zm88 0h1.5v1.5h-1.5zm-110 6h1.5v1.5h-1.5zm16 0h1.5v1.5h-1.5zm2 0h1.5v1.5h-1.5zm2 0h1.5v1.5h-1.5zm16 0h1.5v1.5h-1.5zm78 0h1.5v1.5h-1.5zm-88 2h1.5v1.5h-1.5zm68 0h1.5v1.5h-1.5zm-82 4h1.5v1.5h-1.5zm8 0h1.5v1.5h-1.5zm8 2h1.5v1.5h-1.5zm18 0h1.5v1.5h-1.5zm12 0h1.5v1.5h-1.5zm-32 8h1.5v1.5h-1.5zm50 2h1.5v1.5h-1.5zm18 0h1.5v1.5h-1.5zm-28 2h1.5v1.5h-1.5zm-58 2h1.5v1.5h-1.5zm84 0h1.5v1.5h-1.5zm22 0h1.5v1.5h-1.5zm-68 2h1.5v1.5h-1.5zm16 0h1.5v1.5h-1.5zm46 0h1.5v1.5h-1.5zm-72 6h1.5v1.5h-1.5zm14 0h1.5v1.5h-1.5zm-8 2h1.5v1.5h-1.5zm38 0h1.5v1.5h-1.5zm-46 2h1.5v1.5h-1.5zm10 0h1.5v1.5h-1.5zm26 0h1.5v1.5h-1.5zm10 0h1.5v1.5h-1.5zm48 0h1.5v1.5h-1.5zm-68 2h1.5v1.5h-1.5zm-6 2h1.5v1.5h-1.5zm-20 2h1.5v1.5h-1.5zm32 0h1.5v1.5h-1.5zm2 0h1.5v1.5h-1.5zm18 0h1.5v1.5h-1.5zm-64 2h1.5v1.5h-1.5zm2 2h1.5v1.5h-1.5zm82 0h1.5v1.5h-1.5zm-72 4h1.5v1.5h-1.5zm50 2h1.5v1.5h-1.5zm-56 4h1.5v1.5h-1.5zm46 16h1.5v1.5h-1.5z"/>
<path fill="#e04a34" d="M1013.7 542.6h1.5v1.5h-1.5zm4 6h1.5v1.5h-1.5zm-8 2h1.5v1.5h-1.5zm2 0h1.5v1.5h-1.5zm8 0h1.5v1.5h-1.5zm0 2h1.5v1.5h-1.5zm-8 2h1.5v1.5h-1.5zm6 0h1.5v1.5h-1.5zm-12 2h1.5v1.5h-1.5zm2 0h1.5v1.5h-1.5zm-28 6h1.5v1.5h-1.5zm2 0h1.5v1.5h-1.5zm-6 4h1.5v1.5h-1.5zm70 0h1.5v1.5h-1.5zm-6 2h1.5v1.5h-1.5zm-2 2h1.5v1.5h-1.5zm2 0h1.5v1.5h-1.5zm4 0h1.5v1.5h-1.5zm-56 26h1.5v1.5h-1.5zm46 2h1.5v1.5h-1.5zm2 0h1.5v1.5h-1.5zm-4 2h1.5v1.5h-1.5zm8 0h1.5v1.5h-1.5zm-62 2h1.5v1.5h-1.5zm66 2h1.5v1.5h-1.5zm-8 2h1.5v1.5h-1.5zm-30 8h1.5v1.5h-1.5zm6 0h1.5v1.5h-1.5z"/>
<path fill="#b8141e" d="M1007.7 544.6h1.5v1.5h-1.5zm0 14h1.5v1.5h-1.5zm6 0h1.5v1.5h-1.5zm-36 6h1.5v1.5h-1.5zm64 0h1.5v1.5h-1.5zm-60 2h1.5v1.5h-1.5zm60 0h1.5v1.5h-1.5zm0 2h1.5v1.5h-1.5zm-56 4h1.5v1.5h-1.5zm56 2h1.5v1.5h-1.5zm-4 24h1.5v1.5h-1.5zm6 0h1.5v1.5h-1.5zm2 0h1.5v1.5h-1.5zm-56 2h1.5v1.5h-1.5zm54 0h1.5v1.5h-1.5zm-4 2h1.5v1.5h-1.5zm2 0h1.5v1.5h-1.5zm-4 2h1.5v1.5h-1.5zm2 0h1.5v1.5h-1.5zm2 0h1.5v1.5h-1.5zm-34 10h1.5v1.5h-1.5zm4 2h1.5v1.5h-1.5zm4 0h1.5v1.5h-1.5zm-4 4h1.5v1.5h-1.5zm-6 2h1.5v1.5h-1.5zm4 2h1.5v1.5h-1.5z"/>
<path fill="#d02a24" d="M1009.7 546.6h1.5v1.5h-1.5zm6 2h1.5v1.5h-1.5zm-2 8h1.5v1.5h-1.5zm26 8h1.5v1.5h-1.5zm10 0h1.5v1.5h-1.5zm-10 2h1.5v1.5h-1.5zm-54 4h1.5v1.5h-1.5zm4 0h1.5v1.5h-1.5zm58 2h1.5v1.5h-1.5zm-66 2h1.5v1.5h-1.5zm62 0h1.5v1.5h-1.5zm-4 2h1.5v1.5h-1.5zm-2 18h1.5v1.5h-1.5zm0 6h1.5v1.5h-1.5zm4 0h1.5v1.5h-1.5zm-6 4h1.5v1.5h-1.5zm-50 2h1.5v1.5h-1.5zm18 8h1.5v1.5h-1.5zm10 2h1.5v1.5h-1.5zm-2 2h1.5v1.5h-1.5zm2 0h1.5v1.5h-1.5zm-8 2h1.5v1.5h-1.5zm2 0h1.5v1.5h-1.5zm4 4h1.5v1.5h-1.5z"/>
<path fill="#8c0a1a" d="M1011.7 546.6h1.5v1.5h-1.5zm-6 2h1.5v1.5h-1.5zm0 2h1.5v1.5h-1.5zm8 0h1.5v1.5h-1.5zm-6 2h1.5v1.5h-1.5zm2 0h1.5v1.5h-1.5zm2 0h1.5v1.5h-1.5zm10 0h1.5v1.5h-1.5zm-12 2h1.5v1.5h-1.5zm-26 12h1.5v1.5h-1.5zm54 0h1.5v1.5h-1.5zm0 2h1.5v1.5h-1.5zm-60 2h1.5v1.5h-1.5zm56 0h1.5v1.5h-1.5zm2 0h1.5v1.5h-1.5zm4 24h1.5v1.5h-1.5zm-54 4h1.5v1.5h-1.5zm54 0h1.5v1.5h-1.5zm-32 14h1.5v1.5h-1.5zm2 4h1.5v1.5h-1.5zm0 4h1.5v1.5h-1.5zm6 0h1.5v1.5h-1.5zm-2 2h1.5v1.5h-1.5zm0 2h1.5v1.5h-1.5z"/>
<path fill="#f09070" d="M995.7 550.6h1.5v1.5h-1.5zm32 0h1.5v1.5h-1.5zm-42 2h1.5v1.5h-1.5zm30 0h1.5v1.5h-1.5zm2 0h1.5v1.5h-1.5zm6 0h1.5v1.5h-1.5zm0 8h1.5v1.5h-1.5zm18 2h1.5v1.5h-1.5zm-6 4h1.5v1.5h-1.5zm-48 4h1.5v1.5h-1.5zm0 2h1.5v1.5h-1.5zm50 0h1.5v1.5h-1.5zm12 2h1.5v1.5h-1.5zm-66 4h1.5v1.5h-1.5zm2 2h1.5v1.5h-1.5zm52 8h1.5v1.5h-1.5zm-46 12h1.5v1.5h-1.5zm38 8h1.5v1.5h-1.5zm-32 2h1.5v1.5h-1.5z"/>
<path fill="#e8785a" d="M1013.7 552.6h1.5v1.5h-1.5zm-6 2h1.5v1.5h-1.5zm12 2h1.5v1.5h-1.5zm4 0h1.5v1.5h-1.5zm-32 2h1.5v1.5h-1.5zm20 0h1.5v1.5h-1.5zm-40 2h1.5v1.5h-1.5zm20 2h1.5v1.5h-1.5zm46 0h1.5v1.5h-1.5zm-52 2h1.5v1.5h-1.5zm46 6h1.5v1.5h-1.5zm-54 2h1.5v1.5h-1.5zm8 2h1.5v1.5h-1.5zm46 0h1.5v1.5h-1.5zm-50 8h1.5v1.5h-1.5zm6 0h1.5v1.5h-1.5zm-4 8h1.5v1.5h-1.5zm-8 6h1.5v1.5h-1.5zm60 4h1.5v1.5h-1.5zm10 0h1.5v1.5h-1.5zm-14 6h1.5v1.5h-1.5zm-26 2h1.5v1.5h-1.5zm16 0h1.5v1.5h-1.5zm-10 4h1.5v1.5h-1.5zm22 0h1.5v1.5h-1.5zm-16 2h1.5v1.5h-1.5zm-22 2h1.5v1.5h-1.5zm14 6h1.5v1.5h-1.5z"/>
<path fill="#f4a888" d="M991.7 556.6h1.5v1.5h-1.5zm26 0h1.5v1.5h-1.5zm22 0h1.5v1.5h-1.5zm-6 4h1.5v1.5h-1.5zm-46 6h1.5v1.5h-1.5zm4 0h1.5v1.5h-1.5zm38 2h1.5v1.5h-1.5zm-46 2h1.5v1.5h-1.5zm58 2h1.5v1.5h-1.5zm-74 4h1.5v1.5h-1.5zm12 2h1.5v1.5h-1.5zm-6 2h1.5v1.5h-1.5zm66 2h1.5v1.5h-1.5zm10 6h1.5v1.5h-1.5zm-70 2h1.5v1.5h-1.5zm70 0h1.5v1.5h-1.5zm-62 2h1.5v1.5h-1.5zm50 0h1.5v1.5h-1.5zm-62 6h1.5v1.5h-1.5zm58 4h1.5v1.5h-1.5zm12 0h1.5v1.5h-1.5zm-42 10h1.5v1.5h-1.5zm-2 2h1.5v1.5h-1.5zm20 0h1.5v1.5h-1.5zm-24 4h1.5v1.5h-1.5z"/>
<rect x="872.8" y="447.8" width="45.2" height="46.7" fill="#fff"/>
<rect x="872.7" y="447.6" width="272.1" height="273" fill="none" stroke="#262626" stroke-width="1.35"/>
<path d="M872.7 453.4h5M872.7 518.6h5M872.7 584.3h5M872.7 649.6h5M872.7 716h5" stroke="#262626" stroke-width="1.3"/>
<path d="M876 720.6v-5M943.7 720.6v-5M1009.5 720.6v-5M1074.7 720.6v-5M1141.4 720.6v-5" stroke="#262626" stroke-width="1.3"/>
<g transform="translate(888.2 742.1) rotate(-45)"><text x="-59.77" y="0" font-size="22.9" textLength="60.98" lengthAdjust="spacingAndGlyphs">−0.02</text></g>
<g transform="translate(955.9 742.1) rotate(-45)"><text x="-56.39" y="0" font-size="22.9" textLength="57.53" lengthAdjust="spacingAndGlyphs">−0.01</text></g>
<g transform="translate(1021.7 742.1) rotate(-45)"><text x="-13.2" y="0" font-size="22.9" textLength="14.11" lengthAdjust="spacingAndGlyphs">0</text></g>
<g transform="translate(1086.9 742.1) rotate(-45)"><text x="-44.6" y="0" font-size="22.9" textLength="45.68" lengthAdjust="spacingAndGlyphs">0.01</text></g>
<g transform="translate(1153.6 742.1) rotate(-45)"><text x="-47.88" y="0" font-size="22.9" textLength="49.04" lengthAdjust="spacingAndGlyphs">0.02</text></g>
<text x="887.41" y="484.5" font-size="39.5" textLength="14.27" lengthAdjust="spacingAndGlyphs" font-weight="bold" stroke="#000" stroke-width="1.1">i</text>
<path d="M1230 452.9H1447.6V713.3H1186.2V495.7H1230Z" fill="#3e5994"/>
<ellipse cx="1347.06" cy="565.8" rx="7.3" ry="7.3" fill="url(#spR)"/>
<ellipse cx="1319" cy="549.6" rx="7.8" ry="6.3" fill="url(#spY)"/>
<ellipse cx="1290.94" cy="565.8" rx="7.3" ry="7.3" fill="url(#spR)"/>
<ellipse cx="1290.94" cy="598.2" rx="7.3" ry="7.3" fill="url(#spR)"/>
<ellipse cx="1319" cy="614.4" rx="7.8" ry="6.3" fill="url(#spY)"/>
<ellipse cx="1347.06" cy="598.2" rx="7.3" ry="7.3" fill="url(#spR)"/>
<rect x="1185" y="451.7" width="45" height="44" fill="#fff"/>
<rect x="1178.9" y="448" width="272.6" height="272.6" fill="none" stroke="#262626" stroke-width="1.35"/>
<path d="M1178.9 464.1h5M1178.9 523.5h5M1178.9 584.3h5M1178.9 643.2h5M1178.9 703.6h5" stroke="#262626" stroke-width="1.3"/>
<path d="M1196 720.6v-5M1255.8 720.6v-5M1316.2 720.6v-5M1375 720.6v-5M1436 720.6v-5" stroke="#262626" stroke-width="1.3"/>
<g transform="translate(1208.2 742.1) rotate(-45)"><text x="-59.77" y="0" font-size="22.9" textLength="60.98" lengthAdjust="spacingAndGlyphs">−0.02</text></g>
<g transform="translate(1268 742.1) rotate(-45)"><text x="-56.39" y="0" font-size="22.9" textLength="57.53" lengthAdjust="spacingAndGlyphs">−0.01</text></g>
<g transform="translate(1328.4 742.1) rotate(-45)"><text x="-13.2" y="0" font-size="22.9" textLength="14.11" lengthAdjust="spacingAndGlyphs">0</text></g>
<g transform="translate(1387.2 742.1) rotate(-45)"><text x="-44.6" y="0" font-size="22.9" textLength="45.68" lengthAdjust="spacingAndGlyphs">0.01</text></g>
<g transform="translate(1448.2 742.1) rotate(-45)"><text x="-47.88" y="0" font-size="22.9" textLength="49.04" lengthAdjust="spacingAndGlyphs">0.02</text></g>
<text x="1197.37" y="484.5" font-size="39.5" textLength="14.27" lengthAdjust="spacingAndGlyphs" font-weight="bold" stroke="#000" stroke-width="1.1">j</text>
<clipPath id="ck"><rect x="1578.3" y="451" width="263" height="261.4"/></clipPath>
<g clip-path="url(#ck)"><rect x="1578.3" y="451" width="263" height="261.4" fill="#7e293b"/>
<g fill="url(#sk)"><ellipse cx="1576.32" cy="717.72" rx="9.97" ry="8.59" transform="rotate(12 1576.32 717.72)"/><ellipse cx="1596.76" cy="717.99" rx="10.17" ry="9.47" transform="rotate(7 1596.76 717.99)"/><ellipse cx="1606.3" cy="687.55" rx="9.71" ry="9.7" transform="rotate(66 1606.3 687.55)"/><ellipse cx="1621.79" cy="722.4" rx="10.29" ry="9.41" transform="rotate(59 1621.79 722.4)"/><ellipse cx="1641.5" cy="722.4" rx="9.61" ry="8.65" transform="rotate(85 1641.5 722.4)"/><ellipse cx="1628.63" cy="692.57" rx="9.85" ry="9.14" transform="rotate(141 1628.63 692.57)"/><ellipse cx="1620.62" cy="673.72" rx="9.74" ry="8.62" transform="rotate(170 1620.62 673.72)"/><ellipse cx="1574.38" cy="679.91" rx="9.72" ry="9" transform="rotate(136 1574.38 679.91)"/><ellipse cx="1568.3" cy="699.05" rx="9.8" ry="8.85" transform="rotate(0 1568.3 699.05)"/><ellipse cx="1655" cy="708.87" rx="10.24" ry="9.07" transform="rotate(168 1655 708.87)"/><ellipse cx="1568.3" cy="660.56" rx="10.28" ry="8.68" transform="rotate(56 1568.3 660.56)"/><ellipse cx="1572.29" cy="637.27" rx="9.73" ry="9.34" transform="rotate(113 1572.29 637.27)"/><ellipse cx="1593.14" cy="673.32" rx="9.83" ry="8.51" transform="rotate(140 1593.14 673.32)"/><ellipse cx="1640.17" cy="673.21" rx="9.72" ry="9.12" transform="rotate(135 1640.17 673.21)"/><ellipse cx="1648.84" cy="690.79" rx="9.74" ry="9.18" transform="rotate(33 1648.84 690.79)"/><ellipse cx="1612.05" cy="640.34" rx="9.72" ry="9.05" transform="rotate(51 1612.05 640.34)"/><ellipse cx="1592.77" cy="635.86" rx="10.06" ry="9.97" transform="rotate(70 1592.77 635.86)"/><ellipse cx="1612.86" cy="705.54" rx="10.04" ry="9.21" transform="rotate(77 1612.86 705.54)"/><ellipse cx="1568.3" cy="614.15" rx="9.96" ry="9.53" transform="rotate(151 1568.3 614.15)"/><ellipse cx="1650.46" cy="656.6" rx="10.26" ry="9.2" transform="rotate(34 1650.46 656.6)"/><ellipse cx="1660.55" cy="674.65" rx="10.17" ry="9.62" transform="rotate(152 1660.55 674.65)"/><ellipse cx="1627.75" cy="654.17" rx="10.25" ry="9.92" transform="rotate(93 1627.75 654.17)"/><ellipse cx="1670.21" cy="657.03" rx="9.8" ry="9.69" transform="rotate(35 1670.21 657.03)"/><ellipse cx="1607.16" cy="659.14" rx="10.27" ry="9.91" transform="rotate(45 1607.16 659.14)"/><ellipse cx="1626.41" cy="627.76" rx="9.64" ry="8.29" transform="rotate(2 1626.41 627.76)"/><ellipse cx="1587.22" cy="654.5" rx="9.81" ry="8.93" transform="rotate(126 1587.22 654.5)"/><ellipse cx="1577.45" cy="566.69" rx="10.11" ry="9.79" transform="rotate(51 1577.45 566.69)"/><ellipse cx="1672.12" cy="692.45" rx="9.91" ry="9.76" transform="rotate(50 1672.12 692.45)"/><ellipse cx="1697.27" cy="684.76" rx="9.76" ry="8.72" transform="rotate(62 1697.27 684.76)"/><ellipse cx="1707.36" cy="712.73" rx="10.04" ry="9.74" transform="rotate(71 1707.36 712.73)"/><ellipse cx="1661.01" cy="639.08" rx="9.81" ry="9.62" transform="rotate(101 1661.01 639.08)"/><ellipse cx="1568.3" cy="548.77" rx="9.81" ry="9.65" transform="rotate(5 1568.3 548.77)"/><ellipse cx="1588.82" cy="698.27" rx="10.15" ry="10.04" transform="rotate(5 1588.82 698.27)"/><ellipse cx="1651.72" cy="620.94" rx="9.61" ry="8.13" transform="rotate(153 1651.72 620.94)"/><ellipse cx="1591.76" cy="582.44" rx="10.22" ry="9.02" transform="rotate(144 1591.76 582.44)"/><ellipse cx="1597.53" cy="563.61" rx="9.75" ry="9.21" transform="rotate(169 1597.53 563.61)"/><ellipse cx="1680.74" cy="640.09" rx="10.16" ry="9.8" transform="rotate(168 1680.74 640.09)"/><ellipse cx="1673.45" cy="712.99" rx="10.29" ry="9.13" transform="rotate(178 1673.45 712.99)"/><ellipse cx="1690.21" cy="656.4" rx="10.02" ry="9.53" transform="rotate(49 1690.21 656.4)"/><ellipse cx="1628.65" cy="590.92" rx="9.82" ry="9.25" transform="rotate(172 1628.65 590.92)"/><ellipse cx="1680.71" cy="674.08" rx="9.7" ry="9.57" transform="rotate(162 1680.71 674.08)"/><ellipse cx="1641.55" cy="639.06" rx="9.74" ry="9.64" transform="rotate(148 1641.55 639.06)"/><ellipse cx="1704.97" cy="642.49" rx="9.6" ry="9.26" transform="rotate(174 1704.97 642.49)"/><ellipse cx="1731.22" cy="640.49" rx="9.96" ry="8.76" transform="rotate(135 1731.22 640.49)"/><ellipse cx="1757.18" cy="625.38" rx="9.82" ry="9.33" transform="rotate(162 1757.18 625.38)"/><ellipse cx="1723.17" cy="676.36" rx="9.76" ry="9.11" transform="rotate(170 1723.17 676.36)"/><ellipse cx="1738.32" cy="663.28" rx="9.68" ry="8.56" transform="rotate(28 1738.32 663.28)"/><ellipse cx="1672.54" cy="622.62" rx="10.28" ry="10.01" transform="rotate(122 1672.54 622.62)"/><ellipse cx="1663.7" cy="585.7" rx="9.99" ry="8.74" transform="rotate(95 1663.7 585.7)"/><ellipse cx="1688.71" cy="596" rx="9.98" ry="9.73" transform="rotate(74 1688.71 596)"/><ellipse cx="1714.57" cy="694.32" rx="9.83" ry="9.05" transform="rotate(94 1714.57 694.32)"/><ellipse cx="1640.76" cy="562.73" rx="9.67" ry="8.64" transform="rotate(6 1640.76 562.73)"/><ellipse cx="1568.3" cy="584.55" rx="10.21" ry="9.31" transform="rotate(179 1568.3 584.55)"/><ellipse cx="1724.23" cy="722.4" rx="9.93" ry="9.91" transform="rotate(87 1724.23 722.4)"/><ellipse cx="1732.03" cy="703.77" rx="10.16" ry="9.01" transform="rotate(153 1732.03 703.77)"/><ellipse cx="1769.68" cy="650.9" rx="10.21" ry="8.67" transform="rotate(65 1769.68 650.9)"/><ellipse cx="1690.44" cy="722.4" rx="9.67" ry="8.36" transform="rotate(167 1690.44 722.4)"/><ellipse cx="1716.82" cy="625.96" rx="9.84" ry="8.73" transform="rotate(112 1716.82 625.96)"/><ellipse cx="1588.25" cy="545.48" rx="10.2" ry="9.79" transform="rotate(77 1588.25 545.48)"/><ellipse cx="1670.07" cy="603.81" rx="9.72" ry="8.74" transform="rotate(27 1670.07 603.81)"/><ellipse cx="1744.08" cy="722.4" rx="10.23" ry="10.13" transform="rotate(168 1744.08 722.4)"/><ellipse cx="1764.21" cy="722.4" rx="9.86" ry="9.18" transform="rotate(88 1764.21 722.4)"/><ellipse cx="1630.48" cy="546.33" rx="9.64" ry="8.63" transform="rotate(64 1630.48 546.33)"/><ellipse cx="1680.65" cy="577.24" rx="10.01" ry="9.82" transform="rotate(23 1680.65 577.24)"/><ellipse cx="1741.58" cy="684.93" rx="9.73" ry="8.34" transform="rotate(162 1741.58 684.93)"/><ellipse cx="1568.3" cy="528.66" rx="10.25" ry="9.48" transform="rotate(19 1568.3 528.66)"/><ellipse cx="1650.68" cy="545.35" rx="9.66" ry="8.36" transform="rotate(6 1650.68 545.35)"/><ellipse cx="1792.1" cy="704.46" rx="9.66" ry="8.75" transform="rotate(11 1792.1 704.46)"/><ellipse cx="1690.07" cy="702.41" rx="9.79" ry="9.47" transform="rotate(118 1690.07 702.41)"/><ellipse cx="1771.94" cy="704.17" rx="10.13" ry="8.65" transform="rotate(87 1771.94 704.17)"/><ellipse cx="1737.12" cy="622.12" rx="9.97" ry="9.02" transform="rotate(30 1737.12 622.12)"/><ellipse cx="1699.77" cy="574.46" rx="9.88" ry="9.64" transform="rotate(7 1699.77 574.46)"/><ellipse cx="1751.91" cy="703.76" rx="10.05" ry="9.52" transform="rotate(139 1751.91 703.76)"/><ellipse cx="1711.29" cy="590.72" rx="9.73" ry="8.95" transform="rotate(174 1711.29 590.72)"/><ellipse cx="1645.31" cy="581.12" rx="10.1" ry="8.89" transform="rotate(59 1645.31 581.12)"/><ellipse cx="1796.8" cy="667.56" rx="9.91" ry="9.9" transform="rotate(45 1796.8 667.56)"/><ellipse cx="1707.26" cy="555.71" rx="9.92" ry="8.87" transform="rotate(134 1707.26 555.71)"/><ellipse cx="1762.01" cy="686.29" rx="9.87" ry="8.72" transform="rotate(24 1762.01 686.29)"/><ellipse cx="1687.25" cy="558.42" rx="9.85" ry="9.2" transform="rotate(141 1687.25 558.42)"/><ellipse cx="1608.81" cy="547.45" rx="9.96" ry="9.72" transform="rotate(96 1608.81 547.45)"/><ellipse cx="1743.63" cy="603.64" rx="9.79" ry="8.81" transform="rotate(115 1743.63 603.64)"/><ellipse cx="1802.51" cy="686.89" rx="10.24" ry="9.31" transform="rotate(23 1802.51 686.89)"/><ellipse cx="1660.88" cy="565.71" rx="9.73" ry="8.59" transform="rotate(56 1660.88 565.71)"/><ellipse cx="1731.18" cy="587.94" rx="9.69" ry="8.34" transform="rotate(133 1731.18 587.94)"/><ellipse cx="1584.34" cy="517.72" rx="9.9" ry="9.03" transform="rotate(100 1584.34 517.72)"/><ellipse cx="1776.08" cy="632.94" rx="10.21" ry="8.8" transform="rotate(70 1776.08 632.94)"/><ellipse cx="1642.72" cy="526.93" rx="9.72" ry="8.88" transform="rotate(146 1642.72 526.93)"/><ellipse cx="1738.9" cy="569" rx="9.81" ry="9.73" transform="rotate(90 1738.9 569)"/><ellipse cx="1619.46" cy="530.78" rx="9.95" ry="9.01" transform="rotate(155 1619.46 530.78)"/><ellipse cx="1670.31" cy="547.95" rx="10.01" ry="8.92" transform="rotate(63 1670.31 547.95)"/><ellipse cx="1757.34" cy="666.75" rx="10.11" ry="9.65" transform="rotate(45 1757.34 666.75)"/><ellipse cx="1782.36" cy="687.23" rx="9.61" ry="9.43" transform="rotate(31 1782.36 687.23)"/><ellipse cx="1762.76" cy="600.12" rx="9.84" ry="9.49" transform="rotate(46 1762.76 600.12)"/><ellipse cx="1775.77" cy="613.37" rx="10.1" ry="10.07" transform="rotate(142 1775.77 613.37)"/><ellipse cx="1827.07" cy="690.08" rx="9.91" ry="9.71" transform="rotate(128 1827.07 690.08)"/><ellipse cx="1645.57" cy="506.64" rx="10.18" ry="9.03" transform="rotate(99 1645.57 506.64)"/><ellipse cx="1792.99" cy="602.45" rx="9.92" ry="8.35" transform="rotate(121 1792.99 602.45)"/><ellipse cx="1777.05" cy="668.75" rx="9.64" ry="9.56" transform="rotate(7 1777.05 668.75)"/><ellipse cx="1790.23" cy="647.82" rx="10.13" ry="9.99" transform="rotate(132 1790.23 647.82)"/><ellipse cx="1604.84" cy="488.29" rx="10.1" ry="9.69" transform="rotate(70 1604.84 488.29)"/><ellipse cx="1568.3" cy="503.16" rx="9.83" ry="8.64" transform="rotate(81 1568.3 503.16)"/><ellipse cx="1771.23" cy="582.42" rx="10.14" ry="10.04" transform="rotate(178 1771.23 582.42)"/><ellipse cx="1661.52" cy="518.71" rx="9.82" ry="8.88" transform="rotate(28 1661.52 518.71)"/><ellipse cx="1637.15" cy="482.23" rx="10.07" ry="8.87" transform="rotate(169 1637.15 482.23)"/><ellipse cx="1750.27" cy="646.41" rx="9.97" ry="9.54" transform="rotate(144 1750.27 646.41)"/><ellipse cx="1766.77" cy="548.36" rx="10" ry="9.73" transform="rotate(110 1766.77 548.36)"/><ellipse cx="1627.3" cy="513.82" rx="9.64" ry="9.45" transform="rotate(68 1627.3 513.82)"/><ellipse cx="1779.46" cy="533.37" rx="9.98" ry="8.75" transform="rotate(142 1779.46 533.37)"/><ellipse cx="1778.64" cy="563.99" rx="9.81" ry="8.48" transform="rotate(141 1778.64 563.99)"/><ellipse cx="1792.96" cy="622.49" rx="9.88" ry="9.65" transform="rotate(39 1792.96 622.49)"/><ellipse cx="1811.23" cy="578.7" rx="9.82" ry="8.72" transform="rotate(62 1811.23 578.7)"/><ellipse cx="1812.43" cy="704.29" rx="9.87" ry="8.7" transform="rotate(68 1812.43 704.29)"/><ellipse cx="1654.87" cy="489.23" rx="9.71" ry="8.74" transform="rotate(48 1654.87 489.23)"/><ellipse cx="1808.11" cy="634.45" rx="9.79" ry="8.89" transform="rotate(20 1808.11 634.45)"/><ellipse cx="1816.83" cy="559.71" rx="10.28" ry="9.29" transform="rotate(28 1816.83 559.71)"/><ellipse cx="1758.77" cy="566.52" rx="10.15" ry="8.73" transform="rotate(16 1758.77 566.52)"/><ellipse cx="1810.88" cy="653.55" rx="10.01" ry="9.16" transform="rotate(178 1810.88 653.55)"/><ellipse cx="1669.77" cy="476.72" rx="9.6" ry="8.15" transform="rotate(167 1669.77 476.72)"/><ellipse cx="1800.29" cy="722.4" rx="9.66" ry="9.45" transform="rotate(171 1800.29 722.4)"/><ellipse cx="1851.18" cy="571.83" rx="9.9" ry="8.83" transform="rotate(176 1851.18 571.83)"/><ellipse cx="1833.07" cy="581.51" rx="10.14" ry="8.84" transform="rotate(74 1833.07 581.51)"/><ellipse cx="1678.01" cy="529.89" rx="9.76" ry="9.71" transform="rotate(106 1678.01 529.89)"/><ellipse cx="1797.77" cy="563.98" rx="9.8" ry="9.73" transform="rotate(178 1797.77 563.98)"/><ellipse cx="1607.38" cy="448.2" rx="9.84" ry="8.95" transform="rotate(47 1607.38 448.2)"/><ellipse cx="1587.28" cy="479.06" rx="10.05" ry="8.76" transform="rotate(114 1587.28 479.06)"/><ellipse cx="1627.4" cy="446.69" rx="10.1" ry="8.79" transform="rotate(141 1627.4 446.69)"/><ellipse cx="1695.21" cy="539.82" rx="10.14" ry="9.68" transform="rotate(109 1695.21 539.82)"/><ellipse cx="1839.9" cy="707.73" rx="10.06" ry="8.93" transform="rotate(127 1839.9 707.73)"/><ellipse cx="1719.31" cy="571.85" rx="9.64" ry="9.4" transform="rotate(69 1719.31 571.85)"/><ellipse cx="1750.91" cy="584.73" rx="10.29" ry="9.62" transform="rotate(78 1750.91 584.73)"/><ellipse cx="1827.88" cy="631.19" rx="9.91" ry="9.13" transform="rotate(43 1827.88 631.19)"/><ellipse cx="1671.25" cy="499.74" rx="10.15" ry="8.99" transform="rotate(159 1671.25 499.74)"/><ellipse cx="1568.3" cy="441" rx="9.82" ry="9.62" transform="rotate(124 1568.3 441)"/><ellipse cx="1727.03" cy="552.91" rx="10.1" ry="9.95" transform="rotate(10 1727.03 552.91)"/><ellipse cx="1820.85" cy="722.4" rx="10.05" ry="9.98" transform="rotate(2 1820.85 722.4)"/><ellipse cx="1715.32" cy="536.88" rx="10.27" ry="9.57" transform="rotate(40 1715.32 536.88)"/><ellipse cx="1831.99" cy="611.41" rx="9.84" ry="9.31" transform="rotate(7 1831.99 611.41)"/><ellipse cx="1847.52" cy="688.61" rx="10.02" ry="9.56" transform="rotate(65 1847.52 688.61)"/><ellipse cx="1851.3" cy="544.79" rx="9.62" ry="9.08" transform="rotate(45 1851.3 544.79)"/><ellipse cx="1831.1" cy="651.38" rx="9.67" ry="9.03" transform="rotate(35 1831.1 651.38)"/><ellipse cx="1791.27" cy="582.68" rx="10.21" ry="10.18" transform="rotate(26 1791.27 582.68)"/><ellipse cx="1746.71" cy="550.35" rx="10.12" ry="9.98" transform="rotate(30 1746.71 550.35)"/><ellipse cx="1802.21" cy="544.97" rx="9.96" ry="8.53" transform="rotate(112 1802.21 544.97)"/><ellipse cx="1838.03" cy="529.86" rx="10.12" ry="9.3" transform="rotate(177 1838.03 529.86)"/><ellipse cx="1686.13" cy="512.2" rx="9.72" ry="9.08" transform="rotate(50 1686.13 512.2)"/><ellipse cx="1689.33" cy="475.24" rx="9.83" ry="8.48" transform="rotate(105 1689.33 475.24)"/><ellipse cx="1817.24" cy="521.1" rx="9.95" ry="8.54" transform="rotate(154 1817.24 521.1)"/><ellipse cx="1847.5" cy="596.3" rx="9.7" ry="8.9" transform="rotate(85 1847.5 596.3)"/><ellipse cx="1821.85" cy="540.75" rx="10.11" ry="9.92" transform="rotate(143 1821.85 540.75)"/><ellipse cx="1693.28" cy="494.04" rx="9.8" ry="9.45" transform="rotate(55 1693.28 494.04)"/><ellipse cx="1588.6" cy="441" rx="10.05" ry="9.73" transform="rotate(128 1588.6 441)"/><ellipse cx="1588.02" cy="498.76" rx="9.93" ry="9.06" transform="rotate(105 1588.02 498.76)"/><ellipse cx="1712.3" cy="500.46" rx="10" ry="8.83" transform="rotate(65 1712.3 500.46)"/><ellipse cx="1847.47" cy="636.59" rx="9.79" ry="8.45" transform="rotate(137 1847.47 636.59)"/><ellipse cx="1836.4" cy="557.86" rx="10.03" ry="8.9" transform="rotate(23 1836.4 557.86)"/><ellipse cx="1735.23" cy="533.49" rx="9.77" ry="8.59" transform="rotate(33 1735.23 533.49)"/><ellipse cx="1708.85" cy="480.34" rx="10.21" ry="9.98" transform="rotate(83 1708.85 480.34)"/><ellipse cx="1851.3" cy="616.54" rx="9.62" ry="9.32" transform="rotate(124 1851.3 616.54)"/><ellipse cx="1647.27" cy="442.83" rx="9.96" ry="9.02" transform="rotate(161 1647.27 442.83)"/><ellipse cx="1851.3" cy="656.6" rx="10.02" ry="9.56" transform="rotate(144 1851.3 656.6)"/><ellipse cx="1678.59" cy="458.41" rx="9.99" ry="9.5" transform="rotate(137 1678.59 458.41)"/><ellipse cx="1622.67" cy="495.32" rx="9.89" ry="9.59" transform="rotate(130 1622.67 495.32)"/><ellipse cx="1735.84" cy="495.09" rx="9.7" ry="8.88" transform="rotate(105 1735.84 495.09)"/><ellipse cx="1797.77" cy="525.9" rx="9.7" ry="9.29" transform="rotate(138 1797.77 525.9)"/><ellipse cx="1722.72" cy="517.67" rx="10.03" ry="8.94" transform="rotate(93 1722.72 517.67)"/><ellipse cx="1755.19" cy="532.35" rx="9.81" ry="9.42" transform="rotate(39 1755.19 532.35)"/><ellipse cx="1828.48" cy="504.36" rx="9.71" ry="8.76" transform="rotate(146 1828.48 504.36)"/><ellipse cx="1762.6" cy="514.63" rx="10.02" ry="9.1" transform="rotate(96 1762.6 514.63)"/><ellipse cx="1782.25" cy="513" rx="10.12" ry="9.3" transform="rotate(9 1782.25 513)"/><ellipse cx="1703.19" cy="521.19" rx="9.8" ry="8.9" transform="rotate(150 1703.19 521.19)"/><ellipse cx="1698.62" cy="458.29" rx="9.87" ry="9.27" transform="rotate(131 1698.62 458.29)"/><ellipse cx="1568.3" cy="482.63" rx="9.94" ry="8.73" transform="rotate(140 1568.3 482.63)"/><ellipse cx="1748.53" cy="478.97" rx="10.1" ry="9.99" transform="rotate(81 1748.53 478.97)"/><ellipse cx="1847.21" cy="512.72" rx="10.24" ry="9.34" transform="rotate(82 1847.21 512.72)"/><ellipse cx="1667.47" cy="441" rx="9.66" ry="9.32" transform="rotate(83 1667.47 441)"/><ellipse cx="1801.7" cy="506.64" rx="9.99" ry="9.88" transform="rotate(76 1801.7 506.64)"/><ellipse cx="1758.02" cy="495.85" rx="10.04" ry="9.28" transform="rotate(170 1758.02 495.85)"/><ellipse cx="1728.65" cy="476.33" rx="9.93" ry="8.88" transform="rotate(149 1728.65 476.33)"/><ellipse cx="1785.58" cy="470.98" rx="10.02" ry="9.27" transform="rotate(95 1785.58 470.98)"/><ellipse cx="1718.53" cy="459.22" rx="9.62" ry="9.34" transform="rotate(89 1718.53 459.22)"/><ellipse cx="1765.34" cy="468.08" rx="10.07" ry="9.85" transform="rotate(60 1765.34 468.08)"/><ellipse cx="1741.47" cy="460.41" rx="9.79" ry="8.83" transform="rotate(137 1741.47 460.41)"/><ellipse cx="1778.49" cy="453.14" rx="10.12" ry="9" transform="rotate(48 1778.49 453.14)"/><ellipse cx="1742.44" cy="514.21" rx="9.76" ry="9.19" transform="rotate(27 1742.44 514.21)"/><ellipse cx="1851.3" cy="493.68" rx="9.88" ry="9.19" transform="rotate(162 1851.3 493.68)"/><ellipse cx="1687.61" cy="441" rx="9.92" ry="9.82" transform="rotate(122 1687.61 441)"/><ellipse cx="1805.49" cy="470.86" rx="9.71" ry="9.42" transform="rotate(5 1805.49 470.86)"/><ellipse cx="1795.58" cy="445.27" rx="10.07" ry="9.23" transform="rotate(6 1795.58 445.27)"/><ellipse cx="1813.7" cy="441" rx="9.86" ry="9.5" transform="rotate(42 1813.7 441)"/><ellipse cx="1832.74" cy="480.07" rx="10.22" ry="9.03" transform="rotate(140 1832.74 480.07)"/><ellipse cx="1820.51" cy="459.19" rx="9.61" ry="8.93" transform="rotate(40 1820.51 459.19)"/><ellipse cx="1839.42" cy="459.8" rx="9.82" ry="9.24" transform="rotate(72 1839.42 459.8)"/><ellipse cx="1726.59" cy="441" rx="9.61" ry="8.31" transform="rotate(65 1726.59 441)"/><ellipse cx="1707.37" cy="441" rx="9.62" ry="9.45" transform="rotate(41 1707.37 441)"/><ellipse cx="1851.3" cy="444.02" rx="9.79" ry="8.88" transform="rotate(146 1851.3 444.02)"/><ellipse cx="1832.6" cy="441" rx="10.11" ry="9.14" transform="rotate(26 1832.6 441)"/><ellipse cx="1851.3" cy="474.2" rx="10.11" ry="8.66" transform="rotate(174 1851.3 474.2)"/></g>
<g fill="none" stroke-linecap="round" stroke-linejoin="round" filter="url(#bl07)"><path d="M1619.19 566.55Q1611.55 581.52 1607.79 590.92Q1604.04 600.31 1607.49 617.2M1605.42 512.5L1600.89 526.66M1647.41 602.06L1634.7 608.72M1571.13 461.67Q1587.16 459.53 1595.58 463.9Q1604 468.27 1619.78 469.07M1812.63 611.88L1818.15 598.69M1833.94 671.28L1819.32 672.39M1748.42 441L1762.09 441M1582.7 601.76L1587.46 614.81M1717.84 657.75L1707.18 666.19M1720.85 607.22Q1704.02 609.24 1695.18 623.13M1812.4 488.86Q1795.79 488.03 1779.27 488.73M1656.47 459.87L1642.88 461.85" stroke="#9a4650" stroke-width="17.4"/><path d="M1619.19 566.55Q1611.55 581.52 1607.79 590.92Q1604.04 600.31 1607.49 617.2M1605.42 512.5L1600.89 526.66M1647.41 602.06L1634.7 608.72M1571.13 461.67Q1587.16 459.53 1595.58 463.9Q1604 468.27 1619.78 469.07M1812.63 611.88L1818.15 598.69M1833.94 671.28L1819.32 672.39M1748.42 441L1762.09 441M1582.7 601.76L1587.46 614.81M1717.84 657.75L1707.18 666.19M1720.85 607.22Q1704.02 609.24 1695.18 623.13M1812.4 488.86Q1795.79 488.03 1779.27 488.73M1656.47 459.87L1642.88 461.85" stroke="#bb6c66" stroke-width="15.92"/><path d="M1619.19 566.55Q1611.55 581.52 1607.79 590.92Q1604.04 600.31 1607.49 617.2M1605.42 512.5L1600.89 526.66M1647.41 602.06L1634.7 608.72M1571.13 461.67Q1587.16 459.53 1595.58 463.9Q1604 468.27 1619.78 469.07M1812.63 611.88L1818.15 598.69M1833.94 671.28L1819.32 672.39M1748.42 441L1762.09 441M1582.7 601.76L1587.46 614.81M1717.84 657.75L1707.18 666.19M1720.85 607.22Q1704.02 609.24 1695.18 623.13M1812.4 488.86Q1795.79 488.03 1779.27 488.73M1656.47 459.87L1642.88 461.85" stroke="#d9a088" stroke-width="14.07"/><path d="M1619.19 566.55Q1611.55 581.52 1607.79 590.92Q1604.04 600.31 1607.49 617.2M1605.42 512.5L1600.89 526.66M1647.41 602.06L1634.7 608.72M1571.13 461.67Q1587.16 459.53 1595.58 463.9Q1604 468.27 1619.78 469.07M1812.63 611.88L1818.15 598.69M1833.94 671.28L1819.32 672.39M1748.42 441L1762.09 441M1582.7 601.76L1587.46 614.81M1717.84 657.75L1707.18 666.19M1720.85 607.22Q1704.02 609.24 1695.18 623.13M1812.4 488.86Q1795.79 488.03 1779.27 488.73M1656.47 459.87L1642.88 461.85" stroke="#e8d6b6" stroke-width="12.21"/><path d="M1619.19 566.55Q1611.55 581.52 1607.79 590.92Q1604.04 600.31 1607.49 617.2M1605.42 512.5L1600.89 526.66M1647.41 602.06L1634.7 608.72M1571.13 461.67Q1587.16 459.53 1595.58 463.9Q1604 468.27 1619.78 469.07M1812.63 611.88L1818.15 598.69M1833.94 671.28L1819.32 672.39M1748.42 441L1762.09 441M1582.7 601.76L1587.46 614.81M1717.84 657.75L1707.18 666.19M1720.85 607.22Q1704.02 609.24 1695.18 623.13M1812.4 488.86Q1795.79 488.03 1779.27 488.73M1656.47 459.87L1642.88 461.85" stroke="#e2e2d2" stroke-width="10.55"/><path d="M1619.19 566.55Q1611.55 581.52 1607.79 590.92Q1604.04 600.31 1607.49 617.2M1605.42 512.5L1600.89 526.66M1647.41 602.06L1634.7 608.72M1571.13 461.67Q1587.16 459.53 1595.58 463.9Q1604 468.27 1619.78 469.07M1812.63 611.88L1818.15 598.69M1833.94 671.28L1819.32 672.39M1748.42 441L1762.09 441M1582.7 601.76L1587.46 614.81M1717.84 657.75L1707.18 666.19M1720.85 607.22Q1704.02 609.24 1695.18 623.13M1812.4 488.86Q1795.79 488.03 1779.27 488.73M1656.47 459.87L1642.88 461.85" stroke="#bcd6dc" stroke-width="8.88"/><path d="M1619.19 566.55Q1611.55 581.52 1607.79 590.92Q1604.04 600.31 1607.49 617.2M1605.42 512.5L1600.89 526.66M1647.41 602.06L1634.7 608.72M1571.13 461.67Q1587.16 459.53 1595.58 463.9Q1604 468.27 1619.78 469.07M1812.63 611.88L1818.15 598.69M1833.94 671.28L1819.32 672.39M1748.42 441L1762.09 441M1582.7 601.76L1587.46 614.81M1717.84 657.75L1707.18 666.19M1720.85 607.22Q1704.02 609.24 1695.18 623.13M1812.4 488.86Q1795.79 488.03 1779.27 488.73M1656.47 459.87L1642.88 461.85" stroke="#5f9ac8" stroke-width="6.66"/><path d="M1619.19 566.55Q1611.55 581.52 1607.79 590.92Q1604.04 600.31 1607.49 617.2M1605.42 512.5L1600.89 526.66M1647.41 602.06L1634.7 608.72M1571.13 461.67Q1587.16 459.53 1595.58 463.9Q1604 468.27 1619.78 469.07M1812.63 611.88L1818.15 598.69M1833.94 671.28L1819.32 672.39M1748.42 441L1762.09 441M1582.7 601.76L1587.46 614.81M1717.84 657.75L1707.18 666.19M1720.85 607.22Q1704.02 609.24 1695.18 623.13M1812.4 488.86Q1795.79 488.03 1779.27 488.73M1656.47 459.87L1642.88 461.85" stroke="#3468a8" stroke-width="3.33"/></g>
</g>
<rect x="1577.1" y="449.8" width="43.6" height="43.5" fill="#fff"/>
<rect x="1573.5" y="446" width="272.7" height="272.8" fill="none" stroke="#262626" stroke-width="1.35"/>
<path d="M1573.5 499h5M1573.5 572h5M1573.5 642h5M1573.5 714.4h5" stroke="#262626" stroke-width="1.3"/>
<path d="M1577.4 718.8v-5M1649.3 718.8v-5M1720 718.8v-5M1793.6 718.8v-5" stroke="#262626" stroke-width="1.3"/>
<text x="1530.77" y="507.34" font-size="23.5" textLength="30.1" lengthAdjust="spacingAndGlyphs">1.5</text>
<text x="1528.32" y="580.34" font-size="23.5" textLength="32.62" lengthAdjust="spacingAndGlyphs">1.0</text>
<text x="1526.82" y="650.34" font-size="23.5" textLength="34.17" lengthAdjust="spacingAndGlyphs">0.5</text>
<text x="1546.46" y="722.74" font-size="23.5" textLength="14.48" lengthAdjust="spacingAndGlyphs">0</text>
<g transform="translate(1588.9 743.9) rotate(-45)"><text x="-14.06" y="0" font-size="24.4" textLength="15.04" lengthAdjust="spacingAndGlyphs">0</text></g>
<g transform="translate(1660.8 743.9) rotate(-45)"><text x="-34.45" y="0" font-size="24.4" textLength="35.47" lengthAdjust="spacingAndGlyphs">0.5</text></g>
<g transform="translate(1731.5 743.9) rotate(-45)"><text x="-32.89" y="0" font-size="24.4" textLength="33.86" lengthAdjust="spacingAndGlyphs">1.0</text></g>
<g transform="translate(1805.1 743.9) rotate(-45)"><text x="-30.35" y="0" font-size="24.4" textLength="31.25" lengthAdjust="spacingAndGlyphs">1.5</text></g>
<text x="1587.23" y="484.5" font-size="39.5" textLength="25.99" lengthAdjust="spacingAndGlyphs" font-weight="bold" stroke="#000" stroke-width="1.1">k</text>
<g transform="translate(1879.5 441)"><rect x="10" y="10" width="260.5" height="260.5" filter="url(#stl)"/></g>
<rect x="1888.3" y="449.8" width="41.6" height="43.5" fill="#fff"/>
<rect x="1882.7" y="446" width="272.3" height="272.8" fill="none" stroke="#262626" stroke-width="1.35"/>
<path d="M1882.7 498h5M1882.7 572h5M1882.7 642h5M1882.7 712.4h5" stroke="#262626" stroke-width="1.3"/>
<path d="M1885.7 718.8v-5M1958.1 718.8v-5M2028.3 718.8v-5M2101.3 718.8v-5" stroke="#262626" stroke-width="1.3"/>
<g transform="translate(1897.2 743.9) rotate(-45)"><text x="-14.06" y="0" font-size="24.4" textLength="15.04" lengthAdjust="spacingAndGlyphs">0</text></g>
<g transform="translate(1969.6 743.9) rotate(-45)"><text x="-34.45" y="0" font-size="24.4" textLength="35.47" lengthAdjust="spacingAndGlyphs">0.5</text></g>
<g transform="translate(2039.8 743.9) rotate(-45)"><text x="-32.89" y="0" font-size="24.4" textLength="33.86" lengthAdjust="spacingAndGlyphs">1.0</text></g>
<g transform="translate(2112.8 743.9) rotate(-45)"><text x="-30.35" y="0" font-size="24.4" textLength="31.25" lengthAdjust="spacingAndGlyphs">1.5</text></g>
<text x="1902.51" y="484.5" font-size="39.5" textLength="14.27" lengthAdjust="spacingAndGlyphs" font-weight="bold" stroke="#000" stroke-width="1.1">l</text>
<g transform="translate(23 295.3) rotate(-90)"><text x="-72.56" y="0" font-size="27.5" textLength="143.07" lengthAdjust="spacingAndGlyphs">Experiment</text></g>
<g transform="translate(23 580.9) rotate(-90)"><text x="-58.32" y="0" font-size="27.5" textLength="116.13" lengthAdjust="spacingAndGlyphs">Phantom</text></g>
<g transform="translate(1500 295) rotate(-90)"><text x="-83.76" y="0" font-size="28" textLength="166.97" lengthAdjust="spacingAndGlyphs">Position (μm)</text></g>
<g transform="translate(71 581) rotate(-90)"><text x="-83.76" y="0" font-size="28" textLength="166.97" lengthAdjust="spacingAndGlyphs">Position (μm)</text></g>
<g transform="translate(1500 581) rotate(-90)"><text x="-83.76" y="0" font-size="28" textLength="166.97" lengthAdjust="spacingAndGlyphs">Position (μm)</text></g>
<g transform="translate(473 297) rotate(-90)"><text x="0" y="0" font-size="27" text-anchor="middle">Q<tspan font-size="19" font-style="italic" dy="6">y</tspan><tspan dy="-6"> (Å</tspan><tspan font-size="17.5" dy="-11">−1</tspan><tspan dy="11">)</tspan></text></g>
<g transform="translate(473 585) rotate(-90)"><text x="0" y="0" font-size="27" text-anchor="middle">Q<tspan font-size="19" font-style="italic" dy="6">y</tspan><tspan dy="-6"> (Å</tspan><tspan font-size="17.5" dy="-11">−1</tspan><tspan dy="11">)</tspan></text></g>
<text x="705" y="822" font-size="27" text-anchor="middle">Q<tspan font-size="19" font-style="italic" dy="6">x</tspan><tspan dy="-6"> (Å</tspan><tspan font-size="17.5" dy="-11">−1</tspan><tspan dy="11">)</tspan></text>
<text x="1008.5" y="822" font-size="27" text-anchor="middle">Q<tspan font-size="19" font-style="italic" dy="6">x</tspan><tspan dy="-6"> (Å</tspan><tspan font-size="17.5" dy="-11">−1</tspan><tspan dy="11">)</tspan></text>
<text x="1315" y="822" font-size="27" text-anchor="middle">Q<tspan font-size="19" font-style="italic" dy="6">x</tspan><tspan dy="-6"> (Å</tspan><tspan font-size="17.5" dy="-11">−1</tspan><tspan dy="11">)</tspan></text>
<text x="199.64" y="820.6" font-size="28" textLength="166.97" lengthAdjust="spacingAndGlyphs">Position (μm)</text>
<text x="1626.24" y="820.6" font-size="28" textLength="166.97" lengthAdjust="spacingAndGlyphs">Position (μm)</text>
<text x="1934.74" y="820.6" font-size="28" textLength="166.97" lengthAdjust="spacingAndGlyphs">Position (μm)</text>
</svg></body></html>
